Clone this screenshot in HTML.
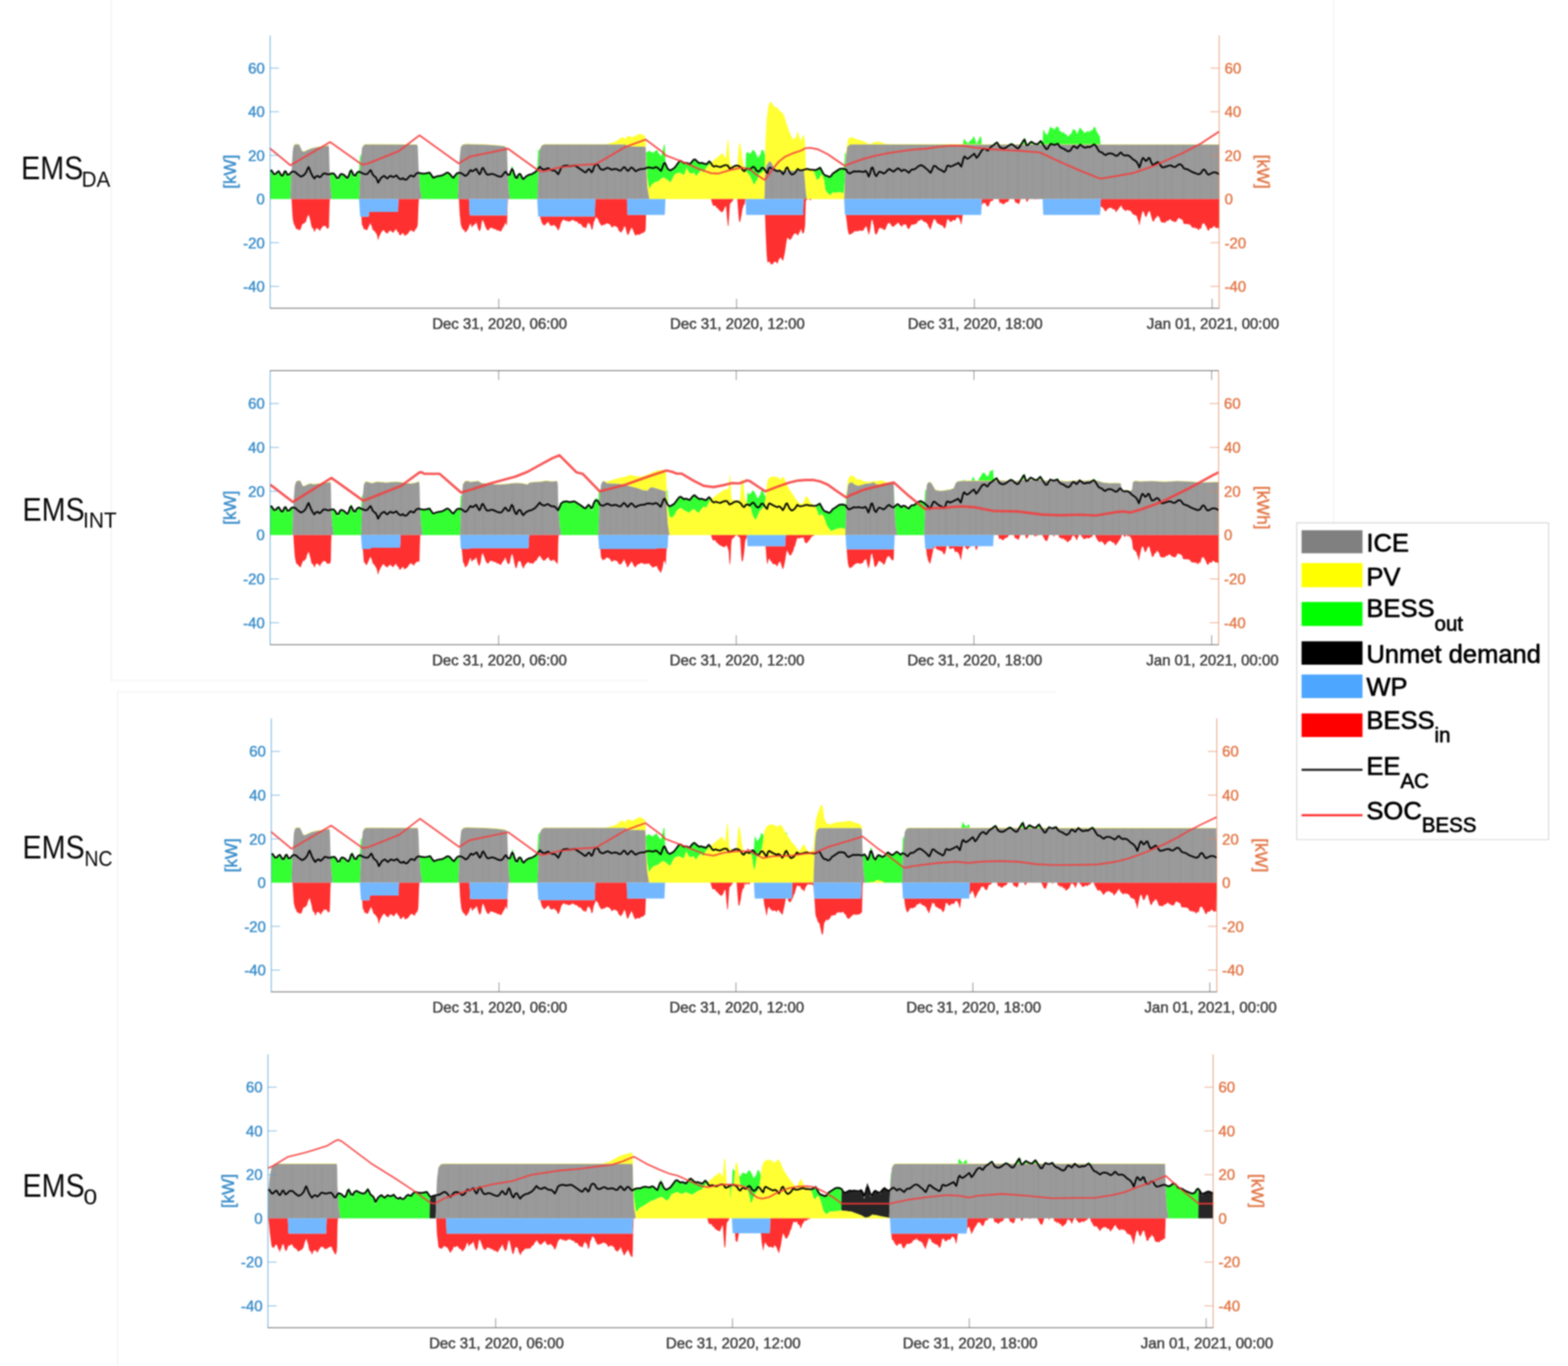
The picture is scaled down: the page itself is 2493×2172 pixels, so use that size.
<!DOCTYPE html>
<html lang="en"><head><meta charset="utf-8"><title>EMS dispatch comparison</title>
<style>html,body{margin:0;padding:0;background:#fff}body{width:2493px;height:2172px;overflow:hidden}svg{display:block}</style></head><body>
<svg width="2493" height="2172" viewBox="0 0 2493 2172">
<defs><filter id="bl" x="0" y="0" width="100%" height="100%" filterUnits="userSpaceOnUse" color-interpolation-filters="sRGB"><feGaussianBlur stdDeviation="1.1"/></filter><linearGradient id="st"><stop offset="0" stop-color="#000" stop-opacity="0.022"/><stop offset="1" stop-color="#000" stop-opacity="0.022"/></linearGradient></defs>
<rect width="2493" height="2172" fill="#fff"/>
<g filter="url(#bl)">
<g stroke="#ececec" stroke-width="1.2" fill="none"><path d="M177,0V1082H1030"/><path d="M187,2172V1100H1680"/><path d="M2120.5,0V830"/></g>
<g>
<path fill="#33ff33" d="M429.5,270.8 430.5,271.1 431,270.6 431.5,269.3 432,268.9 432.5,270.6 433,272.5 433.5,274 434,275.2 434.5,276.2 435.5,278.8 436,279.7 436.5,279.1 437,278.4 437.5,278.5 438,278.7 438.5,278.5 439.5,276.2 440,274.7 440.5,273.5 441,272.6 442,271.1 442.5,271 443,271 443.5,271.7 444.5,273.5 445,274.9 445.5,276.6 446,278 446.5,278.6 447,279.1 447.5,280.2 448,281.9 448.5,282.9 449,281.3 449.5,279.1 450,278.1 450.5,277.6 451,276.2 452,272.1 452.5,271 453,271.1 453.5,271.1 454,270.2 454.5,270.5 455,272.4 455.5,274.7 456,277 457,279 457.5,280.3 458,281.3 458.5,281.3 459.5,279.7 460,278.7 460.5,277.2 461,275.5 462,273.4 462.5,272.6 463,272.2 463.5,272.6 463,281.4 462.5,293.8 462,310.2 461.5,316.5 429.5,316.5ZM524,269.4 524.5,276.8 525,276.8 525.5,276.2 526,275.2 526.5,274.4 527,275 527.5,275.8 528,275.7 529,274 530,274 530.5,274 531,274.6 531.5,275.6 532.5,278.6 533,279.7 533.5,280.5 534,281.7 535,282.8 535.5,284.3 536,285.4 536.5,286.3 537,286.4 537.5,286.5 538,286.5 539,282.9 540,279.1 540.5,277.4 541.5,275.9 542,275.6 542.5,276 543,276.7 544,277.1 545,276.5 545.5,276.6 546.5,278.2 547,278.3 547.5,278.5 548,278.8 549,280.1 549.5,281.5 550,283.3 550.5,284.7 551.5,285.5 552,286.3 552.5,285.3 553,284.2 554,281 554.5,279.3 555,276.7 555.5,274.2 556.5,270.8 557,269.4 557.5,269.2 558,268.8 558.5,267.5 559,267.8 559.5,269.9 560,272.7 560.5,275.4 561.5,278.1 562,279.6 562.5,280.7 563,281.1 564,282.5 564.5,282.7 565,281.3 565.5,279.1 566.5,276.2 567,275.5 568,274.6 569,272.6 569.5,272.1 570.5,271 571,269.2 571.5,262.1 572,254.9 572.5,247.7 573,246.6 573.5,246.6 574,246.5 574.5,247.1 574,253.1 573.5,259.8 572.5,279.8 572,292.3 571.5,308.7 571,316.5 527.5,316.5 527,313.1 526.5,307.8 526,301.8 525.5,296.5 525,288.1 524,269.4ZM666.1,275 666.6,274.6 667.6,274.8 668.1,274.7 668.6,274.6 669.1,274.9 670.1,276.8 671.1,276.1 671.6,275.9 672.6,276 673.6,275.7 674.1,275.8 675.1,277.2 675.6,276.9 676.1,276.5 676.6,276.4 677.1,276.7 677.6,277.1 678.1,276.2 678.6,275.2 679.1,274.4 680.1,273.4 680.6,273.7 681.1,274.1 681.6,274.1 682.6,272.5 683.1,272.4 683.6,272.9 684.1,274.3 685.1,278.1 685.6,278.9 686.1,279.4 686.6,280.1 687.6,283.2 688.1,284.1 688.6,284.8 689.1,284.7 690.1,282.6 690.6,282.6 691.1,283 691.6,283.2 692.1,282.3 692.6,281.5 693.1,281.4 693.6,281.8 694.1,282 695.1,281.4 695.6,280.5 696.1,279.4 696.6,278.6 697.6,280.6 698.1,280.9 698.6,280.8 699.1,280.6 700.1,278.6 700.6,278.5 701.6,280 702.6,280.2 703.1,280.2 704.1,279.9 705.1,278.3 705.6,278 706.1,278.2 706.6,278.4 707.6,277.1 708.1,276.6 709.1,275.6 709.6,274.4 710.1,273.3 710.6,273.1 711.6,274.5 712.1,274 712.6,273.5 713.1,273.8 714.1,275.8 714.6,275.6 715.1,275.2 715.6,275.1 716.6,276.9 718.1,279.8 718.6,280.7 719.1,281.4 719.6,282.3 720.1,283.3 720.6,284.1 721.1,284.1 721.6,282.6 722.1,281.6 722.6,280.9 723.1,280.2 724.1,279.3 724.6,278.3 725.1,276.9 725.6,275.5 726.6,273.9 727.1,273.8 727.6,274.8 728.1,275.6 729.1,275 729.6,274.4 730.1,265.3 729.1,287.8 728.6,298.9 728.1,310.8 727.6,316.5 671.1,316.5 670.6,315 669.1,307.4 668.6,304.1 668.1,301.6 667.6,295.8 666.1,275ZM807.6,280.1 808.1,281.1 808.6,280.8 809.1,280.3 809.6,279.8 810.1,279.5 810.6,278.6 811.1,276.5 811.6,273.7 812.1,270.8 812.6,268.7 813.6,265 814.1,263.6 814.6,264.5 815.1,265.5 815.6,266.8 816.1,269 816.6,271.2 817.1,273.3 818.1,278.4 818.6,280.8 819.1,282.6 819.6,284.3 820.1,285.8 821.1,285.8 821.6,285.5 822.1,284.2 822.6,281.7 823.6,277.6 824.1,276.3 824.6,275.2 825.1,274.5 826.1,274.9 826.6,275.3 827.6,275.6 828.1,276.1 828.6,277.7 829.1,279.5 829.6,281.4 830.1,282.7 831.1,284.5 831.6,285.8 832.1,287.5 832.6,287.7 833.6,285.5 834.6,283.2 835.1,282.4 836.1,281.2 836.6,280.9 837.6,280.5 838.1,279.8 838.6,279.2 839.1,278.6 840.1,277.5 841.1,276.8 841.6,277 842.6,278.3 843.6,277.3 844.1,277 844.6,276.9 845.1,276.7 845.6,277 846.1,277.4 846.6,277.6 847.6,277.4 848.1,276.9 848.6,276.5 849.1,276 850.1,274.3 850.6,273.7 851.1,272.9 851.6,272.4 852.6,272.5 853.1,272.1 853.6,271.6 854.1,269.7 855.1,249.4 855.6,239.8 856.6,238.8 857.6,237.7 858.1,236.7 858.6,236.2 858.1,239.8 857.1,253.6 856.6,261.5 855.6,281.5 855.1,295 854.6,311.3 854.1,316.5 811.1,316.5 810.6,314.8 809.6,308.5 809.1,304.5 808.6,301.4 808.1,291.3 807.6,280.1ZM1026.7,222.9 1027.2,242.3 1027.7,241.8 1028.2,241.6 1029.2,241.5 1030.2,241.4 1030.7,240.7 1031.2,239.9 1031.7,239.2 1032.7,240 1034.2,240.9 1035.2,241.6 1035.7,241.8 1036.2,241.9 1036.7,242.1 1037.7,243.3 1038.2,243.3 1038.7,243 1039.2,242.4 1040.2,241.3 1040.7,241 1041.2,240.8 1041.7,240.6 1042.2,239.9 1042.7,239.3 1043.2,239.1 1044.2,238.4 1045.2,239.2 1045.7,240.1 1046.7,243.8 1047.7,243.4 1048.2,243.9 1048.7,245 1049.2,246 1050.7,248.1 1051.2,248.6 1051.7,246.5 1052.7,243.6 1053.2,241.9 1053.7,239.9 1054.2,237.8 1054.7,235.2 1055.2,232.4 1055.7,230.7 1056.7,229.2 1057.2,232.4 1057.7,251.1 1058.2,259.4 1058.7,261.1 1059.2,262.9 1059.7,263.8 1060.2,264.4 1060.7,265.4 1061.2,266.7 1061.7,267.6 1062.2,269.1 1062.7,270.7 1063.2,271.9 1063.7,271.6 1064.2,271.1 1064.7,271.6 1065.2,272.6 1065.7,273.2 1066.7,270.8 1067.2,270.9 1067.7,271.4 1068.2,271.7 1069.2,269.5 1069.7,269.2 1070.2,269.4 1070.7,269.5 1071.7,268 1072.2,267.7 1072.7,267.7 1073.2,267.7 1074.2,264.8 1074.7,264.2 1075.2,264.1 1075.7,263.9 1076.7,261.3 1077.2,260.5 1078.2,259.7 1079.2,257.3 1079.7,256.4 1080.2,255.8 1080.7,255.9 1082.7,254.7 1084.2,255.9 1084.7,256.4 1085.7,257.7 1086.7,259.1 1087.2,259.6 1087.7,259.6 1088.2,258.9 1088.7,259.1 1089.2,259.4 1089.7,259.6 1090.2,259.7 1090.7,259.8 1091.2,259.4 1091.7,258.8 1092.2,258.6 1093.2,259.8 1093.7,259.5 1094.2,259.3 1094.7,259.6 1095.7,262.1 1096.2,263.2 1096.7,264.2 1097.2,263.7 1098.2,261.2 1098.7,259.6 1099.2,258 1099.7,256.7 1100.7,256 1101.2,255 1101.7,253.6 1102.2,252.4 1103.2,252.9 1103.7,252.5 1104.2,251.9 1104.7,251.5 1105.7,254 1106.2,254.8 1106.7,255.2 1107.2,255.7 1108.2,257.5 1108.7,258 1109.2,258.4 1109.7,258.6 1110.7,259.5 1111.2,259.8 1112.2,259.9 1112.7,259.9 1113.2,259.5 1113.7,259.4 1114.7,259.9 1115.2,259.6 1115.7,259.4 1116.2,259.7 1117.2,260.8 1118.2,261 1118.7,261.1 1119.7,261 1120.7,260.4 1121.2,260.7 1122.2,263.1 1122.7,263.2 1123.7,261.6 1124.7,260.9 1125.2,259.5 1125.7,257.9 1126.2,256.7 1127.2,255.3 1127.7,254.5 1128.7,256.1 1129.7,257.4 1130.2,258.4 1130.7,258.8 1123.2,266.3 1122.7,266.9 1119.2,273.9 1118.7,274.2 1115.2,270.7 1114.7,270.9 1111.2,274.4 1107.7,279.6 1107.2,280.2 1103.7,274.9 1103.2,274.5 1099.7,276.3 1099.2,276.3 1095.7,274.5 1095.2,273.7 1092.2,267.7 1091.7,266.7 1088.2,277.2 1087.7,278.3 1080.2,274.5 1079.7,274.6 1074.7,276.2 1074.2,276.4 1071.7,278.9 1071.2,279.5 1068.7,285.4 1068.2,286.4 1065.7,289.7 1065.2,289.7 1062.7,287.2 1058.7,284.2 1055.2,282.4 1054.7,282.3 1051.2,284 1050.7,284.4 1047.2,287.9 1046.7,288.1 1043.2,289 1039.7,290.7 1039.2,291 1035.7,294.5 1035.2,295.1 1032.7,300.3 1032.2,299.7 1029.2,282.7 1028.7,274.9 1027.7,257.1 1027.2,244.2 1026.7,222.9ZM1168.2,264.1 1168.7,262.8 1169.2,262.6 1169.7,262.7 1170.2,263.5 1169.2,263.8 1168.2,264.1ZM1170.2,263.5 1170.7,262.2 1171.2,261.8 1171.7,262 1172.2,262.7 1171.7,263 1170.2,263.5ZM1184.7,269.4 1185.2,269.8 1185.7,260.6 1186.2,243.7 1186.7,243.1 1187.7,243.5 1188.2,242.5 1188.7,241.5 1189.2,241.2 1190.2,243.4 1190.7,243.5 1191.2,243.5 1191.7,243.8 1192.2,244.7 1192.7,244.2 1193.2,243.7 1194.2,242.5 1195.2,241.2 1195.7,240.3 1196.2,239.3 1196.7,238.6 1197.2,238.4 1197.7,238.4 1198.2,238.9 1198.7,239.3 1199.2,239.7 1199.7,240.3 1200.2,241.1 1200.7,242 1201.2,242.7 1201.7,243.5 1202.2,244.7 1202.7,245.6 1203.2,246.7 1203.7,248.2 1204.2,249.6 1205.2,250.6 1205.7,250.6 1207.7,246.9 1208.2,246.5 1208.7,246.1 1209.2,244.9 1210.2,241.3 1210.7,239.6 1211.2,238.3 1211.7,238.1 1212.7,238.7 1213.2,238.9 1213.7,239.3 1214.2,240.4 1215.2,243.8 1215.7,244.8 1216.2,245.5 1216.7,237.3 1216.2,257.3 1215.7,267.7 1215.2,269.7 1214.7,270.9 1211.2,274.4 1210.7,274.7 1207.7,276.2 1207.2,276.4 1204.7,283.1 1204.2,284.4 1201.7,289.4 1201.2,290.3 1198.7,293.6 1198.2,293.2 1195.7,286.5 1195.2,285.4 1191.7,278.4 1188.2,274.9 1187.7,274.3 1185.2,271 1184.7,269.4ZM1290.7,269.5 1291.2,268.8 1292.2,268.9 1293.2,269.2 1293.7,269.4 1294.7,269.9 1295.2,270 1295.7,270.1 1296.2,270.4 1297.2,271.9 1297.7,271.5 1298.2,271 1298.7,270.3 1299.7,268.5 1300.2,268.3 1300.7,268.3 1301.2,268.2 1301.7,267.9 1302.2,267.6 1302.7,266.6 1303.2,265.4 1303.7,264.3 1304.2,264.3 1304.7,265.3 1305.7,267.2 1306.2,268.2 1306.7,269.9 1308.2,275 1308.7,276.7 1309.2,278 1309.7,279.1 1310.2,279.3 1310.7,279 1311.2,278.7 1311.7,279 1312.2,278.9 1312.7,279 1313.7,279.7 1314.7,279.6 1315.2,280.2 1316.2,282.2 1317.7,282.8 1318.2,282.6 1318.7,282 1319.7,281 1320.2,281 1320.7,281.4 1321.2,281.5 1322.2,278.3 1322.7,277.1 1323.7,275.8 1324.2,275.2 1324.7,274.9 1325.2,274.8 1326.2,275.1 1326.7,274.2 1327.2,273.3 1327.7,272.9 1328.7,273.7 1329.2,273.2 1329.7,272.5 1330.2,271.8 1331.2,269.9 1331.7,269.4 1332.2,269.1 1332.7,268.7 1333.7,267.7 1334.2,268 1334.7,268.5 1335.2,268.7 1336.2,266.8 1336.7,267 1337.2,267.4 1337.7,267.8 1338.7,268.4 1339.2,268 1339.7,267.1 1340.2,266.5 1341.7,266.4 1342.2,265 1342.7,254.4 1343.2,244.5 1343.7,243.2 1344.2,243.7 1344.7,244.1 1345.2,241.1 1344.7,247.7 1343.7,275.2 1343.2,287.2 1341.7,303.8 1341.2,307.5 1335.7,305.6 1335.2,305.6 1328.2,306.5 1327.7,306.5 1324.2,305.7 1323.7,305.8 1320.2,310.1 1319.7,310.2 1316.2,307.6 1315.7,306.9 1312.2,301.7 1310.7,289.7 1310.2,286 1306.7,277.2 1306.2,276.7 1302.7,283.7 1302.2,284.3 1298.7,286.1 1298.2,285 1294.7,274.5 1293.2,271.5 1292.7,270.5 1290.7,269.5ZM1530.8,229.3 1531.3,227.2 1531.8,224.5 1532.3,222.7 1532.8,221.8 1533.8,220.4 1534.3,221.6 1535.3,224.4 1535.8,225 1536.3,225.5 1536.8,225.5 1537.8,226.5 1538.3,227.5 1538.8,228.4 1539.3,228.2 1540.3,226.2 1540.8,225.4 1541.3,224.7 1541.8,224.3 1542.3,224.5 1542.8,224.5 1543.3,223.6 1543.8,222.3 1544.3,221.4 1545.3,222.4 1545.8,221.4 1546.3,219.8 1546.8,218.5 1547.8,217.3 1548.3,217.2 1548.8,217.4 1549.3,218.5 1550.3,221.3 1550.8,222.7 1551.3,224.4 1551.8,226.1 1552.3,228 1552.8,229.3 1530.8,229.3ZM1552.8,229.3 1553.3,228.2 1553.8,226.7 1554.3,225.3 1554.8,224.8 1555.3,224.1 1555.8,223 1556.8,220.5 1557.8,218.7 1558.3,218 1559.3,216.9 1559.8,216.1 1560.3,219.7 1560.8,229.3 1552.8,229.3ZM1580.3,229.4 1580.8,228 1581.8,227.2 1582.3,226.9 1582.8,226.6 1583.3,226.3 1583.8,225.4 1584.3,224.9 1584.8,224.7 1585.3,224.7 1585.8,225.6 1586.8,227.2 1587.3,228.4 1587.8,229.4 1580.3,229.4ZM1605.3,229.4 1605.8,228.1 1606.3,227.9 1606.8,227.8 1607.3,227.5 1607.8,226.9 1608.3,226.8 1608.8,227.9 1609.3,229.4 1605.3,229.4ZM1610.3,229.4 1610.8,228.3 1611.3,229.4 1610.3,229.4ZM1623.8,229.4 1624.3,228.1 1624.8,227.4 1625.3,226.4 1625.8,225.4 1626.3,224.3 1627.3,221.8 1627.8,220.4 1628.3,219.1 1628.8,218.5 1629.3,219.1 1629.8,222.5 1630.3,225.6 1630.8,228.1 1631.3,229.4 1623.8,229.4ZM1636.3,229.4 1636.8,228.4 1637.3,227.9 1637.8,226.5 1638.3,225 1638.8,223.9 1639.3,223.5 1639.8,223.7 1640.8,224.9 1641.3,225.3 1641.8,225.2 1642.3,225.3 1642.8,226.2 1643.3,227.3 1643.8,228.2 1644.3,229.4 1636.3,229.4ZM1651.3,229.4 1651.8,227.4 1652.3,225.8 1652.8,224.9 1653.8,223.4 1654.8,222 1655.3,223.3 1655.8,224.8 1656.3,226.1 1657.3,226.3 1657.8,227.2 1658.3,212.9 1658.8,206.3 1659.8,207 1660.3,208 1661.3,210.8 1662.3,212.5 1662.8,213.2 1663.3,213.7 1663.8,213.1 1664.8,214.2 1665.3,214.2 1665.8,213.6 1666.3,211.6 1667.3,209 1667.8,207.5 1668.3,205.6 1668.8,204.3 1669.3,203.4 1669.8,202.6 1670.3,201.7 1670.8,201.2 1671.3,201.5 1671.8,202.6 1672.3,203.8 1672.8,204.4 1673.3,204.2 1673.8,204 1674.3,204.1 1674.8,204.4 1675.3,204.8 1676.3,206.7 1676.8,205.9 1677.3,204.4 1677.8,203.3 1678.8,202.7 1679.8,202 1680.3,201.8 1681.3,201.2 1681.8,201.1 1682.3,201.6 1682.8,203 1683.8,204.5 1684.3,206.3 1684.8,208.2 1685.3,209.3 1686.3,208.8 1686.8,208.8 1687.3,209 1687.8,209.3 1688.8,211.6 1689.3,211.6 1689.8,210.9 1690.3,210.3 1691.3,209.6 1691.8,210.5 1692.3,211.9 1692.8,213.2 1693.8,213 1694.3,212.9 1694.8,213 1695.3,213 1696.3,215.3 1696.8,216.1 1697.8,217 1698.3,216.8 1698.8,216.3 1699.3,215.6 1700.3,214.8 1701.3,213.9 1701.8,213.7 1702.3,213.6 1702.8,212.6 1703.8,211.5 1704.3,210.3 1704.8,208.2 1705.3,206.5 1705.8,206.3 1706.3,206.3 1706.8,205.9 1707.3,205.5 1707.8,205.7 1708.8,206.6 1709.3,207 1710.3,207.7 1710.8,208.8 1711.8,211.3 1712.3,212.4 1712.8,212.8 1713.3,211.6 1713.8,210.1 1714.3,208.8 1715.3,206.6 1715.8,205.4 1716.3,204.1 1716.8,203.1 1717.3,202.8 1717.8,203.7 1718.3,204.3 1718.8,204.4 1719.3,204.9 1720.3,207.4 1720.8,207.5 1721.3,207 1721.8,206.9 1722.8,210.5 1723.3,211.1 1723.8,210.7 1724.3,210.1 1725.3,210.8 1725.8,210.9 1726.3,210.7 1726.8,210.3 1727.8,209.3 1728.3,209.1 1729.3,208.8 1729.8,208.8 1731.8,209.6 1732.3,209.6 1732.8,209.4 1733.3,208.6 1734.3,206.7 1735.3,207.6 1735.8,207.6 1736.8,206.4 1737.8,205.4 1738.3,204.3 1738.8,202.7 1739.3,201.7 1739.8,201.8 1740.3,202.1 1740.8,202.2 1741.3,202.6 1741.8,203.5 1742.3,205.3 1742.8,207.1 1743.3,208.6 1743.8,209.3 1744.3,210.1 1745.3,211.8 1746.3,213.8 1746.8,214.7 1747.3,215.3 1747.8,215.7 1748.3,216.4 1748.8,217.2 1749.3,222.4 1749.9,229.4 1651.3,229.4ZM1937.9,229.4 1938.4,276.9 1938.4,313.1 1937.9,229.4Z"/>
<path fill="#ffff33" d="M462,310.2 462.5,293.8 463,281.4 464,263.9 464.5,255.4 465.5,239.7 466,235.7 467.5,230.4 468,229.8 470.5,228.6 475,228.9 475.5,229.1 477,232.1 477.5,233.2 480,239 480.5,239.7 483,240.6 483.5,240.5 487,238.7 493.5,235.9 494,235.7 501.5,233.9 522,230.9 522.5,231.8 523,232.8 523.5,252.5 524,269.4 525,288.1 525.5,296.5 526,301.8 526.5,307.8 525.5,297.2 525,288.9 524,270.1 523.5,253.3 523,233.5 522.5,232.5 522,231.7 511.5,233.2 502,234.5 494,236.5 487.5,239.3 483.5,241.2 483,241.3 480.5,240.5 480,239.8 477.5,234 477,232.9 475.5,229.9 475,229.7 471,229.4 470.5,229.4 468,230.5 467.5,231.2 466,236.4 465.5,240.5 464.5,256.2 464,264.6 463,282.1 462.5,294.6 462,310.2ZM571.5,308.7 572,292.3 572.5,279.8 573.5,259.8 574,253.1 575.5,235.1 576,234 578,230.7 578.5,229.9 581,229.1 581.5,229 663.1,229.4 664.1,232.3 664.6,242 665.1,256.2 665.6,268.1 667.6,295.8 668.1,301.6 668.6,304.1 669.1,307.4 668.1,302.3 667.6,296.5 665.6,268.8 665.1,256.9 664.6,242.8 664.1,233.1 663.1,230.1 581.5,229.7 581,229.8 578.5,230.7 578,231.4 576,234.8 575.5,235.9 574,253.9 573.5,260.6 572.5,280.6 572,293.1 571.5,308.7ZM728.1,310.8 728.6,298.9 729.1,287.8 730.6,254 731.1,247.3 732.6,233.8 733.1,232.4 735.6,229.8 736.1,229.3 740.6,228.6 741.1,228.6 769.6,229.3 789.1,230.5 801.1,231.9 805.6,233.7 806.1,237.2 806.6,253.7 807.1,268.8 808.1,291.3 808.6,301.4 809.1,304.5 809.6,308.5 808.6,302.1 808.1,292.1 807.1,269.6 806.6,254.4 806.1,237.9 805.6,234.4 801.6,232.8 801.1,232.6 789.6,231.3 770.1,230.1 741.1,229.3 740.6,229.4 736.1,230.1 735.6,230.6 733.1,233.2 732.6,234.6 731.1,248.1 730.6,254.8 729.6,277.3 729.1,288.5 728.1,310.8ZM854.6,311.3 855.1,295 855.6,281.5 856.6,261.5 857.1,253.6 858.1,239.8 858.6,236.2 861.1,231.2 861.6,230.7 865.1,229 963.1,229 969.1,227.8 974.6,226.3 975.1,226.2 980.6,224 981.1,223.7 988.1,218.4 988.6,218.1 992.1,218.9 992.6,219.2 994.1,221.5 994.6,221.5 996.2,217.7 996.7,217 1000.2,216.2 1000.7,216.3 1004.2,218 1007.7,217.2 1008.2,217 1011.7,215.3 1012.2,215 1015.7,212.7 1016.2,212.7 1019.7,213.2 1023.2,214.9 1023.7,215.2 1026.2,217.7 1026.7,222.9 1027.2,244.2 1027.7,257.1 1028.7,274.9 1029.2,282.7 1032.2,299.7 1032.7,300.3 1035.2,295.1 1035.7,294.5 1039.2,291 1042.7,289.2 1043.2,289 1046.7,288.1 1047.2,287.9 1050.7,284.4 1051.2,284 1054.7,282.3 1055.2,282.4 1058.2,283.9 1058.7,284.2 1062.2,286.8 1062.7,287.2 1065.2,289.7 1065.7,289.7 1068.2,286.4 1068.7,285.4 1071.2,279.5 1071.7,278.9 1074.2,276.4 1079.7,274.6 1080.2,274.5 1087.7,278.3 1088.2,277.2 1091.7,266.7 1092.2,267.7 1095.2,273.7 1095.7,274.5 1099.2,276.3 1099.7,276.3 1103.2,274.5 1103.7,274.9 1107.2,280.2 1107.7,279.6 1110.7,275.1 1111.2,274.4 1114.7,270.9 1115.2,270.7 1118.7,274.2 1119.2,273.9 1122.7,266.9 1123.2,266.3 1134.2,255.3 1134.7,254.8 1140.2,250.2 1144.2,247.2 1147.7,243.7 1148.2,243.5 1150.7,246.8 1151.2,247.6 1152.7,250.6 1153.2,250.9 1154.2,250.2 1154.7,245.5 1155.7,233.6 1156.2,228.9 1156.7,224.7 1157.2,222.1 1158.2,223 1159.2,240.5 1159.7,248.4 1160.2,255.9 1160.7,261 1165.2,264.4 1165.7,264.7 1169.2,263.8 1171.7,263 1172.2,262.7 1174.7,231.5 1175.2,228.6 1176.7,227.9 1177.2,229.9 1178.2,236.2 1178.7,239.8 1180.2,251.8 1180.7,254.9 1182.2,263.2 1182.7,264 1183.7,264.5 1184.2,265.8 1184.7,269.4 1185.2,271 1187.7,274.3 1191.2,277.9 1191.7,278.4 1195.2,285.4 1195.7,286.5 1198.2,293.2 1198.7,293.6 1201.2,290.3 1201.7,289.4 1204.2,284.4 1204.7,283.1 1207.2,276.4 1210.7,274.7 1211.2,274.4 1214.7,270.9 1215.2,269.7 1215.7,267.7 1216.2,257.3 1216.7,237.3 1217.2,222.5 1218.7,192.5 1219.2,186.6 1221.7,168.2 1222.2,166.7 1224.7,161.7 1227.2,163.3 1227.7,163.8 1230.2,168.8 1230.7,169.5 1236.2,171.3 1236.7,171.9 1240.2,177.1 1240.7,177.4 1243.7,178.9 1244.2,179.3 1246.7,184.3 1247.2,185.4 1249.7,193.8 1250.2,195.4 1253.7,205.9 1254.2,207.2 1257.7,216 1258.2,216.8 1261.2,221.3 1261.7,221.9 1265.2,218.4 1265.7,217.5 1268.2,209.2 1268.7,209.3 1270.2,215.3 1270.7,216.9 1273.2,223.6 1273.7,222.9 1276.2,216.2 1276.7,215.6 1277.7,214.6 1278.2,214.3 1279.7,224.8 1280.2,230.8 1280.7,249.8 1281.2,264.9 1281.7,265.9 1282.2,266.7 1288.7,268.6 1292.7,270.5 1293.2,271.5 1294.7,274.5 1298.2,285 1298.7,286.1 1302.2,284.3 1302.7,283.7 1306.2,276.7 1306.7,277.2 1310.2,286 1310.7,289.7 1312.2,301.7 1315.7,306.9 1316.2,307.6 1319.7,310.2 1320.2,310.1 1323.7,305.8 1324.2,305.7 1327.7,306.5 1335.2,305.6 1335.7,305.6 1341.2,307.5 1341.7,303.8 1343.2,287.2 1343.7,275.2 1344.7,247.7 1345.2,241.1 1346.7,231.1 1347.2,227.7 1348.7,221.7 1349.2,220 1354.7,218.1 1355.2,218.2 1360.7,220.9 1366.2,222.8 1374.3,224.8 1374.8,225.1 1378.3,227.7 1378.8,227.9 1383.8,228.7 1384.3,228.7 1391.8,225.5 1392.3,225.4 1399.3,225.4 1399.8,225.5 1405.3,228 1405.8,228.2 1411.3,229 1579.8,229.4 1937.9,229.4 1938.4,313.1 1937.9,230.1 1580.3,230.1 1355.2,229.7 1351.2,230.1 1350.7,230.5 1347.2,233.6 1346.7,237.3 1345.2,248.6 1344.7,254.7 1343.7,277.2 1343.2,289.3 1342.7,304.9 1342.2,316.5 1282.7,316.5 1282.2,313.3 1281.2,306.3 1280.7,300.7 1279.7,288.2 1279.2,282.5 1278.2,271.8 1277.7,271.5 1238.7,271.5 1238.2,271.5 1230.7,266.8 1230.2,266 1226.7,259 1226.2,258.4 1224.2,256.4 1223.7,256 1220.2,260.4 1219.7,261.2 1217.7,265.8 1217.2,268.8 1216.2,285.5 1215.7,310.1 1215.2,316.5 1032.7,316.5 1032.2,315.2 1029.2,298.3 1028.7,290.5 1027.7,272.7 1027.2,258 1026.7,235.4 1025.7,233.4 1025.2,233.2 998.7,232.7 998.2,232.5 994.6,229.9 994.1,229.7 865.6,229.7 865.1,229.7 861.6,231.5 861.1,232 858.6,237 858.1,240.6 857.1,254.3 856.6,262.3 855.6,282.3 855.1,295.7 854.6,311.3Z"/>
<path id="ice1" fill="#9a9a9a" d="M461.5,316.5 462,310.2 462.5,294.6 463,282.1 464,264.6 464.5,256.2 465.5,240.5 466,236.4 467.5,231.2 468,230.5 470.5,229.4 475,229.7 475.5,229.9 477,232.9 477.5,234 480,239.8 480.5,240.5 483,241.3 483.5,241.2 487,239.5 493.5,236.7 494,236.5 501.5,234.6 522,231.7 522.5,232.5 523,233.5 523.5,253.3 524,270.1 525,288.9 525.5,297.2 527,313.1 527.5,316.5 527.5,316.5 461.5,316.5ZM571,316.5 571.5,308.7 572,293.1 572.5,280.6 573.5,260.6 574,253.9 575.5,235.9 576,234.8 578,231.4 578.5,230.7 581,229.8 581.5,229.7 663.1,230.1 664.1,233.1 664.6,242.8 665.1,256.9 665.6,268.8 667.6,296.5 668.1,302.3 670.6,315 671.1,316.5 671.1,316.5 571,316.5ZM727.6,316.5 728.1,310.8 729.1,288.5 730.6,254.8 731.1,248.1 732.6,234.6 733.1,233.2 735.6,230.6 736.1,230.1 740.6,229.4 741.1,229.3 769.6,230.1 789.1,231.3 801.1,232.6 805.6,234.4 806.1,237.9 806.6,254.4 807.1,269.6 808.1,292.1 808.6,302.1 810.6,314.8 811.1,316.5 811.1,316.5 727.6,316.5ZM854.1,316.5 854.6,311.3 855.1,295.7 855.6,282.3 856.6,262.3 857.1,254.3 858.1,240.6 858.6,237 861.1,232 861.6,231.5 865.1,229.7 994.1,229.7 994.6,229.9 998.2,232.5 998.7,232.7 1025.2,233.2 1025.7,233.4 1026.7,235.4 1027.2,258 1027.7,272.7 1028.7,290.5 1029.2,298.3 1032.2,315.2 1032.7,316.5 1032.7,316.5 854.1,316.5ZM1215.2,316.5 1215.7,310.1 1216.2,285.5 1217.2,268.8 1217.7,265.8 1219.7,261.2 1220.2,260.4 1223.7,256 1224.2,256.4 1226.2,258.4 1226.7,259 1230.2,266 1230.7,266.8 1238.2,271.5 1238.7,271.5 1277.7,271.5 1278.2,271.8 1279.2,282.5 1279.7,288.2 1280.7,300.7 1281.2,306.3 1282.2,313.3 1282.7,316.5 1282.7,316.5 1215.2,316.5ZM1342.2,316.5 1342.7,304.9 1343.2,289.3 1343.7,277.2 1344.7,254.7 1345.2,248.6 1346.7,237.3 1347.2,233.6 1350.7,230.5 1351.2,230.1 1354.7,229.8 1355.2,229.7 1579.8,230.1 1937.9,230.1 1938.4,313.1 1938.4,316.5 1342.2,316.5Z"/>
<path fill="url(#st)" d="M467.1,316.5V234.4h3.5V316.5zM477.9,316.5V241.3h2.2V316.5zM488.3,316.5V240.3h3.6V316.5zM499.2,316.5V236.8h4.4V316.5zM509.4,316.5V235h2.1V316.5zM517.4,316.5V233.8h3.8V316.5zM575.1,316.5V243.4h4V316.5zM591.6,316.5V231.3h3.5V316.5zM609.8,316.5V231.4h2.7V316.5zM621.6,316.5V231.4h2.8V316.5zM633.9,316.5V231.5h3.5V316.5zM642.4,316.5V231.5h2.9V316.5zM656.2,316.5V231.6h2.5V316.5zM664,316.5V298h3.6V316.5zM730.9,316.5V249.6h2.9V316.5zM744.3,316.5V231h4.1V316.5zM756.8,316.5V231.4h4.1V316.5zM773.5,316.5V232h3.6V316.5zM782.2,316.5V232.5h1.8V316.5zM789.3,316.5V233h2.5V316.5zM857.9,316.5V242.1h3.9V316.5zM868.3,316.5V231.2h2V316.5zM884.1,316.5V231.2h3.7V316.5zM902.6,316.5V231.2h2.8V316.5zM920.2,316.5V231.2h1.9V316.5zM937.7,316.5V231.2h4.2V316.5zM950.5,316.5V231.2h1.7V316.5zM963.3,316.5V231.2h3.6V316.5zM975.7,316.5V231.2h1.7V316.5zM985.4,316.5V231.2h4V316.5zM995.4,316.5V234.2h4.3V316.5zM1007.5,316.5V234.4h2.1V316.5zM1015.8,316.5V234.6h4.4V316.5zM1225.2,316.5V264.5h3.5V316.5zM1241.3,316.5V273h2.6V316.5zM1256.2,316.5V273h3.1V316.5zM1265.7,316.5V273h3.1V316.5zM1277.4,316.5V302.2h3.5V316.5zM1357.1,316.5V231.2h2.3V316.5zM1372.2,316.5V231.3h4.4V316.5zM1390,316.5V231.3h2.9V316.5zM1408.8,316.5V231.3h4.3V316.5zM1418.7,316.5V231.3h2.7V316.5zM1431.4,316.5V231.4h2.3V316.5zM1445.5,316.5V231.4h1.9V316.5zM1460.6,316.5V231.4h4.1V316.5zM1470.4,316.5V231.4h3.6V316.5zM1481.9,316.5V231.5h3.4V316.5zM1497.9,316.5V231.5h4.4V316.5zM1516.1,316.5V231.5h2.5V316.5zM1531.7,316.5V231.5h1.9V316.5zM1546.4,316.5V231.6h2.8V316.5zM1557.1,316.5V231.6h2.2V316.5zM1566.7,316.5V231.6h3.9V316.5zM1576.7,316.5V231.6h2.2V316.5zM1586,316.5V231.6h2V316.5zM1601,316.5V231.6h3.3V316.5zM1616.5,316.5V231.6h4.2V316.5zM1630.7,316.5V231.6h1.6V316.5zM1639.4,316.5V231.6h3V316.5zM1655.3,316.5V231.6h4.3V316.5zM1670.2,316.5V231.6h2.2V316.5zM1683.9,316.5V231.6h4.3V316.5zM1696.8,316.5V231.6h4.3V316.5zM1716.1,316.5V231.6h3.2V316.5zM1729.6,316.5V231.6h1.9V316.5zM1737.7,316.5V231.6h1.6V316.5zM1751,316.5V231.6h3.6V316.5zM1770.6,316.5V231.6h3.3V316.5zM1789.9,316.5V231.6h2.7V316.5zM1799,316.5V231.6h1.7V316.5zM1808.9,316.5V231.6h3.1V316.5zM1827.8,316.5V231.6h2.4V316.5zM1837.8,316.5V231.6h3.7V316.5zM1850.7,316.5V231.6h3.2V316.5zM1860.6,316.5V231.6h4.1V316.5zM1879.8,316.5V231.6h3.8V316.5zM1898.8,316.5V231.6h2.5V316.5zM1906.7,316.5V231.6h2.4V316.5zM1924,316.5V231.6h2.9V316.5zM1934.1,316.5V231.6h2V316.5z"/>
<path fill="#ff3030" d="M463.5,316.5 524.5,316.5 524,324 523.5,341.5 523,361.6 522.5,362.7 522,363.1 521.5,362.7 521,363.2 520.5,363.8 520,363.7 519,361.8 518,360.1 517.5,359.5 517,359.3 516.5,359.3 516,359.4 515.5,359.6 515,359.6 514.5,359 514,358.9 513.5,359.6 512.5,361.1 511.5,362.5 511,363 510.5,363.4 510,364 509,367.2 508.5,367.5 508,366.6 507.5,365.2 506.5,365.1 506,364.4 505.5,363.2 505,362.5 504,363.4 503.5,363.5 503,363.3 502.5,363.2 502,364.1 501.5,365.5 501,366.8 500,369.1 499.5,368.4 499,366.6 498.5,365.1 497.5,362.8 497,362.8 496.5,362.7 496,361.8 495,359.1 494.5,356.5 494,353.5 493.5,350.9 492.5,347.6 492,345.6 491.5,343.6 491,341.7 490.5,341 490,342.6 489.5,343.4 489,344.1 488.5,345.2 487.5,348.3 487,350.7 486.5,352.3 486,353.3 485,353.2 484.5,354.4 484,355.3 483.5,355.8 483,355.3 482.5,355.2 482,355.6 481.5,356.1 481,356.5 480.5,357 480,358 479.5,359.7 479,361.3 478.5,363.1 477.5,365.2 477,365.4 476.5,365.4 476,365.4 475.5,366.2 475,366.2 474.5,365.6 474,364.7 473.5,364 472.5,364.3 472,364.3 471.5,364.2 471,363.9 470.5,363.2 470,362.2 469.5,360.8 469,359.5 468.5,358.5 468,358 467.5,357 467,355 466.5,353.1 466,351.3 465.5,348.4 465,341.7 464.5,333.9 464,325 463.5,316.5ZM574.5,344.6 586,344.6 586.5,342.4 587,338.5 587.5,337 632.6,337 633.1,330.5 633.6,316.5 666.1,316.5 665.6,322.1 665.1,333.8 664.6,348.2 664.1,358.1 663.1,361.6 662.6,362.1 662.1,363.1 661.6,364.2 661.1,364.7 660.6,364.5 660.1,364.7 659.6,366.3 659.1,368.1 658.6,369.3 658.1,368.8 657.6,367.6 657.1,367.7 656.6,368.2 656.1,368.3 655.6,367.5 655.1,366.7 654.6,366.4 654.1,366.3 653.6,366.1 653.1,366.3 651.6,367.2 651.1,367.6 650.1,369.5 649.6,370.2 649.1,370.8 648.6,371.4 647.6,372.8 647.1,373.1 646.6,373.3 646.1,373.3 645.1,373.8 644.6,374.1 643.6,374.9 643.1,374.8 642.6,374 642.1,372.9 641.6,371.6 641.1,370.4 640.6,370.3 640.1,371.2 639.6,371.6 639.1,371.5 638.6,371.6 638.1,372.9 637.6,373.7 637.1,374.1 636.1,373.8 635.6,373.9 635.1,373.8 634.6,372.7 633.6,369.4 633.1,369.2 632.6,368.9 632.1,368.4 631.1,367.2 630.6,365.4 630.1,364.5 629.6,364.5 628.6,365.7 627.6,366.3 627.1,366.9 626.1,369.2 625.6,369.9 625.1,370 624.6,369.8 623.6,368.7 623.1,368.6 622.6,368.4 622.1,367.9 621.1,366 620.6,366.2 620.1,367.5 619.6,368.3 618.6,367.3 618,368 617.5,369.2 617,370.3 616,371.8 615.5,371.7 615,370.8 614.5,370 613.5,370.2 613,369.9 612.5,369.4 612,368.8 611,366.4 610.5,366.2 609.5,366.3 608.5,366.2 608,366.9 607.5,368 607,369 606.5,369.3 606,369.6 605.5,370.7 604.5,373.2 604,374 603.5,374.9 603,376 602,378.7 601.5,381 601,382 600.5,380 599.5,374.2 599,373 598,371 597.5,370.1 597,370.1 596,368.2 595.5,367.6 595,367.3 593,365.8 592.5,365.1 592,363.6 591.5,361.9 591,360.1 590.5,358.8 589.5,356.7 589,355.1 588.5,355.5 588,356.2 587,358.6 586.5,359.7 586,360.7 585.5,361.8 584.5,364.2 584,365.2 583.5,365.7 583,366 582,366.2 581.5,365.6 581,364.6 580.5,363.8 579.5,365 579,364.9 578.5,364.5 578,363.3 577,360 576.5,359.1 576,358.5 575.5,357.6 575,350.9 574.5,344.6ZM729.6,316.5 745.6,316.5 746.1,322.3 746.6,339 747.1,342.5 805.6,342.5 806.1,339.2 806.6,322.4 807.1,316.5 807.6,316.5 807.1,327.2 806.6,341.1 806.1,356.3 805.6,358.6 805.1,357.5 804.6,356.3 804.1,354.9 803.6,353.9 803.1,355.4 802.6,356.9 802.1,358.1 801.6,359 801.1,360.1 800.1,361.4 799.6,362.3 799.1,363.2 798.6,363.9 797.6,366 797.1,367.2 796.6,367.9 796.1,368.5 795.6,368 795.1,367.3 794.6,367 794.1,367.3 793.6,367.6 793.1,366.9 792.6,366 792.1,365.6 791.1,367 790.6,366.9 790.1,366.5 789.6,366 788.6,364.6 788.1,364.6 787.6,364.7 787.1,364.7 786.6,364.2 786.1,363.8 785.6,363.9 785.1,364.2 784.6,364.3 783.6,362.4 783.1,362.3 782.6,362.8 782.1,363.3 781.1,362.2 780.6,361.8 779.6,362.2 778.6,362.9 778.1,364 777.6,365.6 777.1,366.8 776.1,365.4 775.6,365.4 774.6,366.3 774.1,365.5 773.6,364.6 773.1,363.6 772.1,361.5 771.1,358.9 770.6,357.5 769.6,354.6 768.6,352.5 768.1,351 767.6,350.1 767.1,350.3 766.6,351.4 766.1,352.6 765.6,355.6 764.6,362.5 764.1,364.6 763.6,365.3 763.1,366.2 762.6,367.7 762.1,367.8 761.6,366.7 760.6,364.4 760.1,363.3 759.6,361.9 759.1,359.9 758.6,357.9 758.1,355.9 757.6,354 757.1,353.8 756.6,354.5 756.1,355.3 755.6,356.1 755.1,356.7 754.6,357.4 754.1,357.7 753.6,357.7 753.1,357.8 752.6,358.3 752.1,358.5 751.6,359.4 751.1,360.6 750.6,361.5 750.1,361.2 749.6,360.1 749.1,358.5 748.6,356.5 748.1,355.6 747.1,357 746.6,357.8 745.6,360.8 744.6,363.6 744.1,364.8 743.1,365.9 742.1,367.3 741.6,368.1 741.1,368.6 740.6,369 739.6,369.5 739.1,368.8 738.1,365.4 737.1,365.9 736.6,365.6 736.1,365 735.6,364.1 734.6,362.5 734.1,361.4 733.6,360 733.1,358.5 732.6,356.8 732.1,351.9 731.6,347.1 731.1,342.4 730.6,335.5 730.1,324.8 729.6,316.5ZM858.6,344.3 945.6,344.3 946.1,330.3 946.6,316.5 996.7,316.5 997.2,328.2 997.7,341.8 1027.2,341.8 1026.7,361.7 1026.2,367.1 1025.2,368 1024.7,368.6 1024.2,369 1023.7,369.5 1023.2,370 1022.7,370.4 1021.7,370.5 1021.2,370.6 1020.7,370.8 1020.2,371.1 1019.7,371.2 1019.2,371.2 1018.7,371.6 1018.2,372.4 1017.7,373.1 1017.2,373.1 1016.2,373.3 1015.7,373.3 1015.2,373 1014.2,372.7 1013.7,372.7 1012.7,372.9 1012.2,373.5 1011.7,374.1 1011.2,374.8 1010.7,374.8 1010.2,374.4 1009.2,372.5 1008.7,371.7 1007.7,369.7 1007.2,368.2 1006.2,365.2 1005.2,363.5 1004.2,361.9 1003.7,362 1002.7,365.5 1002.2,366.3 1001.7,367 1001.2,367.9 1000.7,369.5 1000.2,371 999.7,371.9 999.2,372.7 998.7,373.2 997.7,373.6 997.2,372.7 996.7,370.8 996.2,368.5 995.1,365 994.6,362.3 994.1,361 993.6,360.6 992.6,360.1 992.1,360.5 991.6,362.4 991.1,364.2 990.1,365.8 989.6,366.6 988.6,368.4 987.6,369.7 987.1,369.9 986.1,368.7 985.1,367.4 984.6,367.2 984.1,367.2 983.6,366.7 982.6,363.2 982.1,362.2 981.6,361.8 980.6,361 980.1,360.7 979.6,360.3 978.6,359.3 978.1,359.7 977.6,360.4 977.1,360.3 976.1,358.4 975.6,359.3 975.1,360.3 974.6,360.9 973.6,361.4 972.6,361.3 972.1,361 971.1,358.8 970.6,358.2 969.6,357 969.1,356.5 968.6,356.2 967.6,356.1 967.1,355.9 966.1,355.3 965.6,355.2 965.1,355 964.6,355.1 963.6,355.9 963.1,356.1 962.1,356.9 961.1,357.6 960.6,357.5 959.6,357 958.6,358.6 958.1,358.5 957.6,358 957.1,357.8 956.6,358.7 956.1,359.3 955.6,358.7 955.1,357.4 954.6,356.3 954.1,356 953.6,355.1 953.1,354.1 952.6,353.4 952.1,352.6 951.6,350.6 951.1,349.3 950.6,348.5 950.1,347.9 949.6,347.2 949.1,346.3 948.6,346.1 948.1,345.9 947.6,345.7 947.1,345.5 946.6,346.7 946.1,349.1 945.6,350.6 944.6,351.8 944.1,353.4 943.6,356.2 943.1,359.1 942.6,362 942.1,364.2 941.1,365.2 940.6,365.3 940.1,363.4 939.6,361 939.1,359.2 938.6,357.5 938.1,356.8 937.1,356.6 936.6,355.2 936.1,354 935.6,354.2 934.6,355.5 934.1,356.3 933.6,357.2 933.1,358.6 932.1,362.9 931.6,363.2 931.1,362.5 930.6,361.6 929.6,361.4 929.1,361.8 928.6,362 928.1,362 926.6,360.5 925.6,359.5 924.6,357.8 924.1,357.2 923.6,356.6 923.1,356.1 922.1,355.4 921.6,355.6 921.1,356 920.6,356.2 919.6,355.2 919.1,354.5 918.6,353.6 918.1,352.8 917.1,352.5 916.6,352.4 915.6,352.4 915.1,352.1 914.6,351.9 914.1,351.6 913.1,350.6 912.1,350.9 911.6,350.6 910.6,349.4 909.6,349.8 909.1,350.1 908.1,351.3 907.1,351.5 906.6,351.6 906.1,351.9 904.6,352.2 904.1,352.3 903.1,352.7 902.6,351.8 902.1,350.8 901.6,350.4 901.1,350.9 900.6,351.6 900.1,351.7 899.6,351.6 899.1,351.4 898.1,349.7 897.6,349.6 896.1,349.5 895.6,349.8 895.1,350.1 894.6,350.3 894.1,350.8 893.1,353 892.6,353.4 892.1,354.3 891.6,356 890.6,359.8 890.1,361.5 889.6,362.8 889.1,363.8 888.1,365.3 887.6,366.8 887.1,366.5 886.6,365.6 885.6,362.9 885.1,362 884.6,361.4 884.1,361 883.1,359.6 882.6,359.2 882.1,359 881.6,358.7 881.1,357.7 880.6,356.9 880.1,357.2 879.6,358.3 879.1,359.3 878.1,358.3 877.6,358.5 876.6,359.9 875.6,358.4 875.1,358.1 874.6,358.1 874.1,357.9 873.1,355 872.6,353.9 872.1,353.2 871.6,352.7 870.6,353.9 870.1,354.3 869.6,354.4 869.1,354.6 868.6,355.5 868.1,356.4 867.6,357 866.6,357.1 866.1,358 865.6,358.7 865.1,359 864.1,357.6 863.1,356.8 862.6,356.1 861.6,354.5 861.1,353.4 860.6,351.5 860.1,349.5 859.1,346.2 858.6,344.3ZM1130.2,316.5 1166.7,316.5 1166.2,317.5 1165.7,317.9 1165.2,318.7 1164.7,319.4 1164.2,319.9 1163.7,320.6 1162.7,322.3 1162.2,322.7 1161.7,322.8 1161.2,323.1 1160.7,324.3 1160.2,330.3 1159.7,337.4 1159.2,344.2 1158.7,351.9 1158.2,359.9 1157.7,359.5 1157.2,358.4 1156.7,354.3 1156.2,349.4 1155.7,344.1 1155.2,337.7 1154.7,332 1154.2,328.2 1153.7,328.7 1153.2,328.2 1152.7,328.8 1152.2,330.2 1151.2,333.1 1150.7,334.1 1150.2,334.9 1149.7,335.5 1148.7,336.8 1148.2,337.7 1147.7,337.8 1147.2,337.4 1146.2,336.4 1145.7,336.2 1144.7,335.3 1144.2,334.7 1142.7,333.5 1142.2,332.8 1141.2,330.8 1140.7,330.9 1140.2,331.2 1139.7,331 1138.7,328.9 1138.2,328.2 1137.7,327.5 1137.2,327 1136.2,326.9 1135.7,327.1 1135.2,327.4 1134.7,327.3 1134.2,327.1 1133.7,326.8 1133.2,325.7 1132.7,324.5 1132.2,322.7 1131.2,319.4 1130.7,317.6 1130.2,316.5ZM1172.2,316.5 1185.2,316.5 1184.7,318.4 1184.2,323.5 1183.7,326 1182.7,325.5 1182.2,325.9 1181.7,328.2 1181.2,330.3 1180.7,331.7 1180.2,333.5 1179.7,337 1179.2,340.6 1178.7,343.6 1178.2,345.6 1177.7,347.8 1177.2,351 1176.7,353.2 1176.2,353 1175.2,351.9 1174.7,348.9 1174.2,342.8 1173.7,336.4 1172.7,322.6 1172.2,316.5ZM1216.2,341.8 1276.7,341.8 1277.2,329.3 1277.7,316.5 1284.2,316.5 1283.7,317.5 1283.2,317.6 1282.2,317.5 1281.7,318.8 1281.2,320.5 1280.7,336.1 1280.2,355.3 1279.7,361.6 1279.2,364.6 1278.7,367.4 1278.2,370.6 1277.7,370.5 1277.2,370.3 1276.2,371.6 1275.7,370.9 1274.7,367.4 1274.2,366 1273.7,364.7 1273.2,364.2 1272.7,366 1272.2,367.7 1271.7,368.6 1271.2,369.2 1270.7,369.9 1270.2,371 1268.7,374.9 1268.2,374.3 1267.7,373.7 1267.2,373.2 1266.7,372.4 1266.2,371.5 1265.7,370.8 1264.7,372.1 1264.2,371.9 1263.7,371.3 1263.2,370.9 1262.2,372.7 1261.7,372.9 1261.2,374 1260.7,375.1 1259.7,376.3 1259.2,377.7 1258.7,378.9 1258.2,379.6 1257.7,379.8 1256.7,380.9 1256.2,381.6 1255.7,381.7 1254.7,380.6 1253.7,379.4 1253.2,378.9 1252.2,377.9 1251.7,378.1 1250.7,383.3 1250.2,385.9 1249.7,389.1 1249.2,392.9 1248.2,399.5 1247.7,402.6 1247.2,405.2 1246.7,407.3 1245.7,412.3 1245.2,414.2 1244.7,414.4 1244.2,414 1243.7,413.4 1243.2,412.6 1242.2,410.8 1241.7,410.2 1240.7,409.5 1240.2,409.9 1239.7,411 1239.2,411.8 1238.7,412.2 1238.2,412.9 1237.7,414.4 1237.2,416.1 1236.7,417.7 1236.2,418.9 1235.7,419.5 1235.2,418.7 1234.7,417.6 1234.2,416.6 1233.2,416.4 1232.2,416.5 1231.7,416.5 1230.7,416.1 1230.2,417 1229.7,418.2 1229.2,419.4 1228.2,420.6 1227.7,420.6 1227.2,419.8 1226.7,419.1 1226.2,419.7 1225.7,420.4 1225.2,420.3 1224.7,419.6 1224.2,417.7 1223.7,416.1 1223.2,415.7 1222.7,415.8 1222.2,416.3 1221.7,417.3 1220.7,417.5 1220.2,417.1 1219.7,412.8 1219.2,408.1 1218.7,400.8 1217.7,377.9 1217.2,366.7 1216.7,350.8 1216.2,341.8ZM1284.2,316.5 1285.2,316.5 1284.7,317.4 1284.2,316.5ZM1286.7,316.5 1290.2,316.5 1289.7,317.4 1288.7,318.5 1288.2,318.5 1287.7,318 1287.2,317.4 1286.7,316.5ZM1344.7,341.8 1530.8,341.8 1530.3,344.8 1529.8,348.6 1529.3,352.3 1528.8,355.5 1528.3,357.6 1527.8,356.2 1526.8,352.1 1526.3,350.5 1525.3,348.5 1524.3,346.1 1523.8,345.8 1522.8,345.8 1521.8,345.5 1521.3,345.8 1520.3,347.9 1519.3,349.6 1518.8,350.2 1517.8,350.7 1517.3,350.4 1516.8,350 1516.3,349.7 1515.3,350.1 1513.8,351.5 1512.8,352.8 1512.3,352.7 1511.8,352.3 1511.3,352.3 1510.8,353.2 1510.3,353.3 1509.8,352.1 1509.3,350.3 1508.8,349 1508.3,349.1 1507.8,349.9 1507.3,349.5 1506.8,348.7 1506.3,348.3 1505.8,349.5 1505.3,352.5 1504.8,355 1503.8,359.6 1503.3,361.5 1502.8,362.2 1502.3,362.7 1501.8,363.1 1501.3,363.4 1500.8,362.8 1500.3,361.5 1499.8,360.6 1498.8,359.3 1497.8,358.4 1497.3,358.1 1496.3,358 1495.3,357.8 1494.8,357.6 1493.8,357.1 1492.8,355.8 1492.3,355.5 1491.3,355.8 1490.3,355 1489.8,354.5 1488.8,353.3 1488.3,351.6 1487.8,349.8 1487.3,348.8 1486.8,349.2 1486.3,350.1 1485.8,349.4 1485.3,348.5 1484.8,347.9 1484.3,349.2 1483.8,351 1482.8,354.2 1482.3,355.7 1481.3,358.5 1480.8,360.3 1480.3,362.2 1479.8,364.3 1479.3,364.9 1478.8,365.3 1478.3,364.1 1477.8,362.5 1477.3,361 1476.3,361 1475.8,359.4 1475.3,357.5 1474.8,356.2 1473.8,355.4 1473.3,354.8 1472.8,354.2 1472.3,353.7 1471.3,353.2 1470.3,352.8 1469.8,352.7 1468.8,352.8 1468.3,352.2 1467.8,351.3 1467.3,350.6 1466.3,350.8 1465.8,350.1 1465.3,349 1464.8,347.9 1464.3,349 1463.8,350.3 1463.3,350.6 1462.8,350.2 1462.3,349.9 1461.3,351.6 1460.8,351.7 1459.8,351.1 1458.8,353.1 1458.3,354 1457.3,355.8 1455.8,355.9 1454.8,356.1 1453.8,357.1 1453.3,357.2 1452.3,357 1451.3,357.3 1450.8,357.2 1450.3,356.9 1449.8,356.8 1448.8,357.9 1448.3,358.7 1447.8,359.8 1447.3,361 1446.8,361.6 1446.3,362 1445.8,362.7 1445.3,364.3 1444.8,364.8 1444.3,364.3 1443.8,363.6 1443.3,363 1442.3,362 1441.8,360.6 1441.3,359.1 1440.8,357.7 1439.8,356.5 1439.3,356.6 1438.8,356.8 1438.3,357.1 1437.3,358.1 1436.3,356.7 1435.8,356.6 1434.8,359.8 1434.3,360.4 1433.8,360.4 1433.3,359.7 1432.3,359.3 1431.8,358.9 1431.3,358.3 1430.8,357.7 1430.3,356.9 1429.3,355.6 1428.3,354.2 1427.8,353.8 1427.3,354 1426.8,354.8 1425.8,356.7 1424.8,356.5 1424.3,356.8 1423.3,358 1422.3,358.9 1421.8,359.5 1421.3,360.2 1420.8,360.8 1419.8,360.3 1419.3,360.1 1418.3,359.9 1417.8,359.2 1417.3,358.5 1416.8,357.7 1415.8,356.4 1414.3,354.2 1413.8,354.2 1413.3,354.5 1412.3,355.1 1411.8,355.4 1411.3,356.1 1410.8,357.1 1409.8,359.4 1409.3,360.7 1408.3,363.4 1407.8,364.3 1407.3,364.9 1406.8,365.5 1405.8,366.1 1405.3,366 1404.8,365.3 1404.3,364.2 1403.3,363.5 1402.8,363.4 1402.3,363.6 1401.8,363.6 1400.8,362.5 1400.3,362.4 1399.8,362.5 1399.3,362.4 1398.8,362.4 1398.3,362.4 1397.3,364.1 1396.8,365.1 1396.3,366.7 1395.8,368.4 1395.3,369.6 1394.8,370.2 1394.3,370.8 1393.8,372.2 1393.3,373.2 1392.8,372.7 1392.3,372.6 1391.8,372.3 1391.3,371.5 1390.8,370 1390.3,366.8 1389.3,359.2 1388.8,357.4 1388.3,355.9 1387.8,353.5 1387.3,350.2 1386.8,349.6 1386.3,349.9 1385.8,350.3 1385.3,352.1 1384.3,359.8 1383.8,363.3 1383.3,366 1382.8,368.2 1381.8,372.5 1381.3,373.9 1380.8,371.7 1380.3,369.5 1379.3,367.1 1378.8,364.2 1378.3,362 1377.8,360.6 1377.3,360.2 1376.8,360 1376.3,360.1 1375.8,361.6 1375.3,362.6 1374.8,362.7 1374.3,362.7 1373.8,363.8 1373.3,365.2 1372.8,366.5 1372.2,366.8 1371.7,367.1 1371.2,367 1370.2,366.7 1369.2,366.6 1368.7,366.8 1368.2,367.1 1367.7,367.3 1366.7,366.7 1366.2,366.6 1365.7,366.5 1365.2,366.7 1364.2,368.1 1363.7,368.1 1363.2,367.6 1362.7,367.2 1361.7,368 1361.2,367.8 1360.7,367.2 1360.2,366.9 1359.2,368.4 1358.7,368.4 1358.2,367.8 1357.7,367.6 1356.7,370 1356.2,370.6 1355.7,370.6 1355.2,370.6 1354.7,371.1 1353.2,372.2 1352.7,372.6 1351.7,372.6 1351.2,372.8 1350.7,373.3 1350.2,373.1 1349.2,371.5 1348.7,369.3 1348.2,367.2 1347.7,365.1 1347.2,361.6 1346.7,356.7 1346.2,352.3 1345.7,348.5 1345.2,345 1344.7,341.8ZM1560.3,337.5 1560.8,321.2 1561.3,316.5 1579.8,316.5 1579.3,317.7 1578.3,319.2 1577.8,319.4 1577.3,319.6 1576.8,319.7 1576.3,319.5 1575.8,319.6 1575.3,319.9 1574.8,320.4 1574.3,321.1 1573.3,324.2 1572.8,325.5 1572.3,326.6 1571.8,327.6 1571.3,328.2 1570.8,328.4 1570.3,328.1 1569.3,327.9 1568.8,327.3 1568.3,326.5 1567.8,325.5 1566.8,323.6 1566.3,322.9 1565.8,322.5 1565.3,322.6 1564.8,323.1 1564.3,323.6 1563.8,323 1563.3,322.5 1562.8,322.9 1561.8,325.1 1561.3,325.7 1560.8,326.8 1560.3,337.5ZM1587.8,316.5 1604.8,316.5 1604.3,318.1 1603.8,319 1603.3,319.9 1602.3,320.5 1601.8,321 1601.3,321.5 1600.8,322 1600.3,321.8 1599.8,321.6 1599.3,321.5 1598.8,321.7 1598.3,321.9 1597.3,324.2 1596.8,324.6 1595.8,324.3 1594.8,324.7 1594.3,324.7 1593.3,324 1592.3,322.6 1591.8,322.2 1590.8,322.2 1589.8,323.3 1589.3,322.4 1588.3,318.7 1587.8,316.5ZM1612.3,316.5 1622.8,316.5 1622.3,318.1 1621.8,319.8 1621.3,321.6 1620.8,323.1 1620.3,324.1 1619.8,324.4 1618.8,323.9 1617.8,323.6 1617.3,322.9 1616.8,322.4 1616.3,322 1615.8,321.8 1614.8,322.7 1614.3,321.7 1613.8,320.3 1613.3,318.9 1612.8,318.1 1612.3,316.5ZM1630.8,316.5 1635.8,316.5 1635.3,317.5 1634.8,318.2 1634.3,319.1 1633.8,319.9 1633.3,320.4 1632.3,321.2 1631.8,319.4 1631.3,317.5 1630.8,316.5ZM1645.3,316.5 1646.8,316.5 1646.3,317.9 1645.8,317.6 1645.3,316.5ZM1749.3,337.2 1749.9,320.9 1750.4,316.5 1938.4,316.5 1937.9,363.7 1937.4,363.4 1936.9,363 1935.9,362.1 1935.4,362.2 1934.9,362.5 1934.4,362.7 1933.4,362.6 1932.4,361.8 1931.9,361.3 1930.9,359.5 1930.4,359.6 1929.9,359.7 1929.4,360 1928.9,360.6 1928.4,361.6 1927.9,362 1926.9,362.7 1925.9,363.3 1925.4,363 1924.9,362.6 1924.4,362.5 1923.4,363.6 1922.9,364.6 1922.4,365.8 1921.9,366.8 1921.4,367.1 1920.9,366.6 1920.4,366 1919.9,365.3 1919.4,364.6 1918.9,363.4 1918.4,361.6 1917.9,360.7 1917.4,360 1916.9,359.2 1916.4,358.2 1915.9,357.4 1915.4,356.5 1914.9,355.6 1914.4,354.6 1913.9,354.9 1913.4,355.6 1912.9,355.7 1912.4,355.4 1911.9,355.3 1911.4,356.7 1910.9,358.3 1910.4,360.3 1909.9,362.5 1909.4,364.6 1908.4,363 1907.9,362.9 1906.9,363.7 1905.9,365.9 1905.4,366 1904.4,364.9 1903.4,363 1902.9,362.7 1901.9,363.1 1900.9,363.4 1900.4,363.1 1899.4,361.3 1898.9,361.7 1898.4,362.2 1897.9,362.4 1896.9,362.1 1895.9,361.9 1895.4,361.6 1894.4,360.6 1893.9,359.7 1893.4,358.7 1892.9,358 1891.9,357.8 1891.4,357.2 1890.9,356.6 1890.4,356.2 1889.4,356.5 1888.4,356.4 1887.9,356.4 1886.9,356 1886.4,356.1 1885.9,356.3 1885.4,356.5 1884.9,356.3 1884.4,356 1883.9,355.9 1883.4,355.9 1882.9,355.9 1882.4,356 1881.9,355.7 1881.4,354.2 1880.9,352.2 1880.4,350.5 1879.9,349.8 1879.4,349.3 1878.9,349.1 1878.4,349 1877.9,348.9 1877.4,348.1 1876.9,348 1876.4,348 1875.9,347.9 1875.4,347.8 1874.4,346.3 1873.9,346.4 1872.9,347.8 1871.9,349.2 1871.4,350.2 1870.9,351.2 1870.4,352.2 1868.4,353.1 1867.9,353 1866.9,352.6 1866.4,352.5 1865.4,352.4 1864.9,351.9 1864.4,351.3 1863.9,351 1862.9,351.6 1862.4,350.6 1861.9,349.7 1861.4,349.2 1860.4,348.7 1859.4,348.8 1858.9,349.1 1857.9,350.9 1857.4,351.2 1856.9,351.2 1856.4,351.3 1855.4,351.1 1854.9,351.5 1854.4,352 1853.9,352.5 1852.9,353.8 1852.4,354.2 1851.9,354.6 1851.4,354.7 1850.4,353 1849.9,353.2 1849.4,353.8 1848.9,354.3 1848.4,354.3 1847.9,353.8 1847.4,353.4 1846.4,353.1 1845.9,352.7 1845.4,352 1844.9,350.6 1843.9,347.4 1843.4,345.9 1842.9,345 1842.4,344.7 1841.9,344.6 1841.4,344.4 1840.9,343 1840.4,342.4 1839.9,343.1 1839.4,344.5 1838.9,345.9 1838.4,346.2 1837.9,346.7 1837.4,346.9 1836.4,347.2 1835.4,350.4 1834.9,351.2 1833.9,352.1 1832.9,352 1832.4,351.7 1831.9,349.7 1831.4,347.4 1830.9,345.9 1829.9,342.9 1828.9,338.3 1828.4,336.7 1827.9,336 1827.4,336.3 1826.4,336.1 1825.9,336.9 1824.4,340.6 1823.9,341.8 1822.9,344.1 1822.4,344.9 1821.9,344.9 1821.4,344.9 1820.9,343.8 1820.4,342.7 1819.9,341.4 1819.4,339.7 1818.9,338 1818.4,337.2 1817.9,336.6 1817.4,335.9 1816.9,335.8 1816.4,336.9 1815.9,338.3 1815.4,339.9 1814.9,342.3 1813.9,346.8 1813.4,349.2 1812.9,351.5 1812.4,354 1811.9,357.2 1811.4,358.2 1810.9,356.2 1810.4,353.5 1809.9,351.1 1809.4,350.1 1808.9,349.5 1808.4,348 1807.9,345.7 1807.4,343.6 1806.9,343.3 1806.4,343.6 1805.9,343.1 1805.4,342 1804.9,341 1803.9,342.5 1803.4,342.3 1802.4,340.3 1801.4,341.2 1800.9,341 1800.4,339.8 1799.9,338.5 1798.9,336.9 1798.4,336.4 1797.9,336.1 1797.4,336 1796.9,335.3 1796.4,334.6 1795.9,334.2 1794.4,334.6 1793.9,334.9 1793.4,334.9 1792.4,333.7 1791.9,333.5 1791.4,333.4 1790.9,333.9 1789.9,335.7 1789.4,335.6 1788.9,335.2 1787.9,334.6 1787.4,333.8 1786.9,333.2 1786.4,332.8 1785.9,332.4 1785.4,332.1 1784.9,331.8 1784.4,330.8 1783.4,328.7 1782.9,327.5 1782.4,326.6 1781.9,327.3 1781.4,328.2 1780.9,328.9 1780.4,329.1 1779.9,329.7 1779.4,330.5 1778.4,332.6 1777.9,333.2 1777.4,333.7 1776.9,334.1 1776.4,334.5 1775.9,334.9 1775.4,336.4 1774.9,337.3 1774.4,337.2 1773.9,336.5 1773.4,335.8 1772.4,333.5 1771.9,332.9 1770.9,332.5 1769.9,333 1769.4,332.8 1768.9,332.2 1768.4,331.7 1767.4,330.6 1766.9,330.4 1765.9,330.8 1764.9,329.9 1764.4,330.1 1763.4,331.6 1762.9,331.3 1762.4,330.9 1761.9,331 1761.4,331.8 1760.9,332.9 1760.4,333.2 1759.9,333.4 1759.4,333.9 1758.4,336 1757.9,336.2 1757.4,336.1 1756.9,335.6 1755.9,333.9 1754.9,332.3 1754.4,331.6 1753.4,330.4 1752.4,329.5 1751.9,329.1 1750.9,328.3 1750.4,328.9 1749.9,329.7 1749.3,337.2Z"/>
<path fill="#73b8ff" d="M570.5,316.5 633.6,316.5 633.1,330.5 632.6,337 587.5,337 587,338.5 586.5,342.4 586,344.6 573,344.6 572.5,342.8 571,318.7 570.5,316.5ZM745.6,316.5 807.1,316.5 806.6,322.4 806.1,339.2 805.6,342.5 747.1,342.5 746.6,339 746.1,322.3 745.6,316.5ZM853.6,316.5 946.6,316.5 946.1,330.3 945.6,344.3 856.1,344.3 855.6,344.2 854.1,317.5 853.6,316.5ZM996.7,316.5 1058.2,316.5 1057.7,322.5 1057.2,338.8 1056.7,341.8 997.7,341.8 997.2,328.2 996.7,316.5ZM1185.2,316.5 1277.7,316.5 1277.2,329.3 1276.7,341.8 1186.7,341.8 1186.2,341.1 1185.7,324.8 1185.2,316.5ZM1341.7,316.5 1561.3,316.5 1560.8,321.2 1560.3,337.5 1559.8,341.8 1343.7,341.8 1343.2,339.6 1342.2,317.9 1341.7,316.5ZM1657.3,316.5 1750.4,316.5 1749.9,320.9 1749.3,337.2 1748.8,341.8 1658.8,341.8 1658.3,333.2 1657.8,316.9 1657.3,316.5Z"/>
<polyline fill="none" stroke="#050505" stroke-width="2.75" stroke-linejoin="round" points="429.5,271.7 431.7,271 434.1,274.7 435.9,277.1 438.4,276.5 440.2,274.1 443.2,272.3 445.1,275.3 446.9,278.3 448.7,279.6 450.5,277.1 452.3,272.9 454.2,272.3 456,275.9 457.8,278.3 460.2,277.1 462.7,274.1 464.5,272.9 466.9,272.9 469.4,273.5 471.8,275.9 474.8,278.3 478.5,280.8 481.5,279.6 484.6,277.1 487,273.5 488.8,268.6 490.6,265.6 492.5,269.8 494.3,274.7 496.7,279.6 499.7,283.8 502.2,280.8 505.2,279.6 508.3,282 511.3,279.6 514.3,275.9 517.4,275.9 520.4,277.1 523.4,277.1 527.1,275.9 530.7,275.9 533.8,279.6 535.6,283.2 538,283.2 540.5,278.3 542.3,276.5 544.7,277.1 547.1,278.3 549.6,280.8 552,283.2 554.4,279.6 556.9,272.3 558.7,271 560.5,274.7 562.3,278.3 564.8,279.6 566.6,275.9 569,273.5 570.8,272.9 573.3,274.1 575.7,275.3 578.7,276.5 581.8,277.1 584.2,276.5 586.6,273.5 589.1,270.4 590.9,273.5 592.7,277.7 595.2,280.2 597.6,282 599.4,285.6 601.2,290.5 603.7,286.2 606.1,282.6 608.5,280.8 611,279.6 613.4,282 615.8,283.8 618.2,281.4 620.7,279.6 623.1,280.8 625.5,281.4 628,280.2 630.4,278.9 632.8,282 635.3,284.4 638.3,285 640.7,283.2 643.2,285.6 646.2,285.6 648.6,283.2 651.1,280.2 653.5,278.9 655.9,280.2 658.3,280.8 660.8,277.1 663.2,275.3 665.6,274.7 668.1,275.3 671.7,275.9 673.6,276.1 677.3,275.7 680.9,274.9 683.4,274.7 685.8,278.3 688.8,282.6 691.9,281.4 695.5,280.2 699.2,279.6 702.8,278.9 706.5,277.1 710.1,274.7 712.5,274.7 715.6,277.1 718.6,280.8 721,282.6 724.1,278.3 727.1,275.3 730.2,274.7 733.2,275.3 736.2,277.1 739.3,279.6 741.7,278.9 744.1,276.5 746.6,272.3 748.4,270.4 750.2,272.3 752.6,271.7 755.1,269.8 757.5,268.6 759.9,273.5 762.4,277.1 764.2,274.7 766,268.6 767.8,266.8 769.7,269.8 772.1,274.7 774.5,277.7 777.6,277.7 780.6,276.5 783,276.5 786.7,277.7 790.3,279.6 794,280.8 797,280.8 799.4,278.3 801.9,274.7 803.7,272.9 805.5,275.3 807.9,278.3 810.4,277.7 812.2,272.3 814,268.6 815.8,271 817.7,277.1 820.1,282.6 821.9,283.2 823.7,278.3 826.2,276.5 828,277.7 829.8,282 832.3,285 834.7,282 837.7,279.6 841.4,277.7 845,277.1 848.1,275.3 850.5,274.1 853.5,271 856,268 858.4,265 860.8,268 863.2,269.2 866.3,269.8 869.3,268 871.8,267.4 874.8,269.8 877.8,271 881.5,271 884.5,273.5 887.5,277.1 890,272.3 892.4,266.2 896.1,263.8 900.9,263.1 905.8,264.4 909.4,263.8 913.1,263.1 915,263.8 918.6,266.2 922.3,268.6 925.9,271 929,273.5 931.4,274.1 933.8,271 936.3,268.6 938.7,271 940.5,274.1 942.3,272.3 944.2,266.2 946.6,261.9 949,261.3 951.5,263.1 953.9,268 956.9,269.8 960,269.8 963,268 966,266.8 969.1,268 972.1,269.8 975.2,269.2 978.2,268.6 981.2,269.2 984.3,271 987.3,271 989.7,268 992.2,265.6 994.6,267.4 997,271 998.9,271.7 1001.3,268.6 1003.7,266.2 1006.2,267.4 1008.6,270.4 1011,272.3 1014.1,270.4 1017.1,269.2 1020.7,268.6 1024.4,268.6 1028,266.8 1031.7,266.2 1035.3,266.8 1039,267.4 1042.6,265.6 1045.7,266.8 1048.7,269.8 1051.1,271.7 1053.6,265 1055.4,260.1 1057.2,258.9 1059,262.5 1060.8,266.8 1063.3,269.8 1065.7,271 1068.7,269.2 1071.8,267.4 1074.8,263.8 1077.9,259.5 1080.3,256.5 1082.7,255.9 1085.2,257.7 1087.6,259.5 1090.6,258.9 1093.7,259.5 1096.7,261.3 1099.7,257.7 1102.2,254.6 1104.6,253.4 1107,255.2 1109.5,257.7 1112.5,259.5 1115.5,258.9 1119.2,260.1 1122.8,261.3 1125.3,258.9 1127.7,256.5 1130.1,258.9 1132.5,263.1 1135,265 1138.6,263.8 1142.3,265 1145.9,265.6 1149.6,263.8 1153.2,262.5 1156.9,263.1 1160,268 1163.6,266.8 1167.3,264.4 1170.9,263.1 1174.6,263.8 1178.2,266.2 1181.3,271 1183.7,272.3 1186.1,268.6 1189.2,268 1192.2,269.8 1195.2,266.8 1197.7,265 1200.1,266.8 1202.5,271 1205.6,272.9 1208.6,271 1211,266.8 1213.5,266.8 1215.9,269.8 1218.3,273.5 1220.2,275.3 1222,268.6 1223.8,266.2 1226.2,267.4 1229.3,269.2 1232.9,271 1236,272.3 1239,271 1242,272.9 1245.1,277.1 1247.5,273.5 1249.9,267.4 1251.8,266.2 1253.6,269.8 1256,274.7 1259.1,277.7 1262.1,276.5 1265.1,273.5 1268.2,268.6 1270.6,270.4 1273,271 1276.7,270.4 1280.3,269.2 1284,268.6 1287.6,269.8 1291.3,269.8 1294.9,270.4 1298.6,269.8 1301.6,268 1304,266.8 1306.5,271 1308.9,275.9 1311.9,278.9 1315,279.6 1318,281.4 1321,280.2 1324.1,275.9 1327.7,273.5 1331.4,271 1335,268.6 1338.7,268 1342.3,268.6 1345.3,269.8 1347.8,274.1 1350.8,275.9 1354.5,274.1 1358.1,272.3 1361.8,272.9 1365.4,272.3 1369,272.9 1372.7,273.5 1376.3,271.7 1378.8,274.7 1381.2,280.8 1383.6,274.7 1385.4,267.4 1387.3,266.2 1389.1,271 1390.9,277.1 1393.3,280.2 1395.8,275.9 1398.2,272.9 1401.9,274.1 1405,276 1408,274.1 1411.1,270.5 1414.1,268.7 1417.2,271.1 1420.8,272.9 1424.4,269.9 1427.5,267.5 1430.5,269.3 1433.6,272.3 1436.6,269.9 1439.6,270.5 1442.7,272.9 1445.1,274.7 1447.5,271.7 1450,269.3 1453.6,269.3 1457.3,266.8 1460.9,263.8 1464.6,262.6 1468.2,264.4 1471.8,267.5 1475.5,270.5 1477.9,273.5 1479.7,274.7 1482.2,269.3 1484.6,263.8 1487,263.8 1490.1,266.8 1493.7,269.3 1497.4,271.1 1501,273.5 1503.4,271.1 1505.9,263.8 1508.3,263.2 1510.7,265 1514.4,263.8 1518,262 1521.7,260.2 1524.1,258.9 1526.5,262.6 1528.4,265 1530.2,258.3 1532,251 1533.8,248.6 1536.3,251.7 1538.7,252.3 1542.3,249.8 1546,246.8 1549,244.4 1550.8,247.4 1552.7,251 1555.1,248.6 1558.1,243.8 1561.2,238.9 1564.2,236.5 1566.6,236.5 1569.1,238.9 1570.9,239.5 1573.3,235.9 1576.4,232.8 1580,230.4 1583.7,227.3 1585.5,226.7 1587.3,229.8 1589.7,234 1593.4,235.9 1597,235.9 1600.7,234 1604.3,231 1608,229.2 1611,230.4 1614,233.4 1617.7,235.9 1620.1,235.2 1622.5,231 1625,227.3 1627.4,223.1 1629.2,221.9 1630.4,226.1 1632.3,231 1634.7,230.4 1637.1,227.3 1639.6,225.5 1642,226.7 1645,228.6 1648.1,229.2 1650,229.2 1652.4,226.1 1654.9,224.3 1657.3,228 1660.3,232.8 1663.4,237.1 1665.8,236.5 1668.2,231.6 1670.7,228.6 1673.7,229.8 1676.7,230.4 1679.8,229.2 1682.2,228.6 1684.6,232.8 1687.7,235.2 1691.3,236.5 1695,238.9 1698.6,240.7 1702.3,238.9 1704.7,234.6 1707.1,232.2 1710.2,234 1712.6,235.9 1715,232.8 1717.5,229.8 1720.5,232.2 1723.5,234.6 1726.6,234.6 1729.6,233.4 1732.6,234 1735.7,232.2 1738.7,229.8 1741.2,230.4 1743.6,234 1746,238.3 1748.4,241.3 1752.1,242.5 1755.7,245.6 1758.2,246.8 1761.2,244.4 1764.9,243.8 1768.5,244.4 1771.5,246.2 1775.2,248 1778.2,246.2 1780.7,243.1 1782.5,242.5 1784.9,245.6 1787.9,247.4 1791.6,246.8 1794.6,247.4 1797.7,249.8 1800.7,252.9 1803.7,254.7 1806.8,257.1 1809.2,260.8 1811.6,266.2 1813.5,260.8 1815.3,254.7 1817.1,251 1818.9,252.3 1821.4,255.9 1823.8,254.7 1826.2,251 1828.1,251.7 1829.9,257.1 1832.3,262 1835.3,261.4 1838.4,258.9 1840.8,257.7 1843.2,259.6 1845.7,263.8 1848.1,266.2 1851.8,265.6 1855.4,264.4 1859,263.2 1862.1,263.2 1865.1,265 1868.2,265.6 1871.2,263.8 1874.2,261.4 1877.3,261.4 1879.7,263.8 1882.1,267.5 1885.2,268.7 1888.2,269.3 1891.2,271.1 1894.3,272.9 1897.3,274.1 1902.1,276 1905.7,277.2 1909.4,275.4 1911.8,271.1 1914.2,269.3 1916.7,271.7 1919.1,276 1921.5,277.8 1925.2,276 1928.8,274.1 1932.5,274.1 1935.5,275.4 1938.4,277.2"/>
<polyline fill="none" stroke="#f83a3a" stroke-opacity="0.86" stroke-width="2.85" stroke-linejoin="round" points="428.8,235.6 461.8,262.8 525,225.8 575.6,261.8 585.3,259.9 633.9,240.4 667,215.1 729.2,259.9 746.7,249.2 807.8,236.5 856.4,271.5 864.2,272.5 887.5,266.7 916.7,262.8 947.8,260.8 994.5,233.6 1026.5,221.9 1052.8,241.4 1058.6,247.2 1082,256 1111.1,268.6 1130.6,275.4 1142.2,276 1159.7,270.6 1179.2,266.7 1191.7,268.6 1203.3,278.3 1216,286.1 1228.6,268.6 1238.3,257 1248.1,249.2 1261.7,243.3 1273.3,239.5 1281.1,235.6 1288.9,235.2 1300.6,237.5 1316.1,245.3 1331.7,256 1343.3,263.8 1355,258.9 1374.5,252.1 1393.9,247.2 1413.3,243.3 1432.8,240.4 1452.2,237.9 1471.7,236.5 1491.1,233.6 1510.6,231.7 1530,231.7 1549.5,234.6 1579.4,237.5 1618.3,239.5 1653.3,242.4 1684.5,257 1715.6,270.6 1749.6,284.2 1801.1,275.4 1832.2,264.7 1880.9,243.3 1910,227.8 1938.2,209.3"/>
</g>
<g font-family="'Liberation Sans', sans-serif" font-size="23.8" stroke-width="0.65" stroke-linejoin="round">
<line x1="429" y1="490" x2="1938.9" y2="490" stroke="#606060" stroke-width="1.25"/>
<line x1="429.5" y1="56.2" x2="429.5" y2="490" stroke="#4d9cd4" stroke-width="1.1"/>
<line x1="1938.4" y1="56.2" x2="1938.4" y2="490" stroke="#e58659" stroke-width="1.1"/>
<line x1="429.5" y1="108.3" x2="443.5" y2="108.3" stroke="#4d9cd4" stroke-width="0.9"/>
<line x1="1924.4" y1="108.3" x2="1938.4" y2="108.3" stroke="#e58659" stroke-width="0.9"/>
<text x="421" y="116.9" text-anchor="end" fill="#3a8dca" stroke="#3a8dca">60</text>
<text x="1946.9" y="116.9" text-anchor="start" fill="#e27646" stroke="#e27646">60</text>
<line x1="429.5" y1="177.7" x2="443.5" y2="177.7" stroke="#4d9cd4" stroke-width="0.9"/>
<line x1="1924.4" y1="177.7" x2="1938.4" y2="177.7" stroke="#e58659" stroke-width="0.9"/>
<text x="421" y="186.3" text-anchor="end" fill="#3a8dca" stroke="#3a8dca">40</text>
<text x="1946.9" y="186.3" text-anchor="start" fill="#e27646" stroke="#e27646">40</text>
<line x1="429.5" y1="247.1" x2="443.5" y2="247.1" stroke="#4d9cd4" stroke-width="0.9"/>
<line x1="1924.4" y1="247.1" x2="1938.4" y2="247.1" stroke="#e58659" stroke-width="0.9"/>
<text x="421" y="255.7" text-anchor="end" fill="#3a8dca" stroke="#3a8dca">20</text>
<text x="1946.9" y="255.7" text-anchor="start" fill="#e27646" stroke="#e27646">20</text>
<text x="421" y="325.1" text-anchor="end" fill="#3a8dca" stroke="#3a8dca">0</text>
<text x="1946.9" y="325.1" text-anchor="start" fill="#e27646" stroke="#e27646">0</text>
<line x1="429.5" y1="385.9" x2="443.5" y2="385.9" stroke="#4d9cd4" stroke-width="0.9"/>
<line x1="1924.4" y1="385.9" x2="1938.4" y2="385.9" stroke="#e58659" stroke-width="0.9"/>
<text x="421" y="394.5" text-anchor="end" fill="#3a8dca" stroke="#3a8dca">-20</text>
<text x="1946.9" y="394.5" text-anchor="start" fill="#e27646" stroke="#e27646">-20</text>
<line x1="429.5" y1="455.3" x2="443.5" y2="455.3" stroke="#4d9cd4" stroke-width="0.9"/>
<line x1="1924.4" y1="455.3" x2="1938.4" y2="455.3" stroke="#e58659" stroke-width="0.9"/>
<text x="421" y="463.9" text-anchor="end" fill="#3a8dca" stroke="#3a8dca">-40</text>
<text x="1946.9" y="463.9" text-anchor="start" fill="#e27646" stroke="#e27646">-40</text>
<line x1="793" y1="475" x2="793" y2="490" stroke="#606060" stroke-width="0.9"/>
<text x="794.3" y="522.5" text-anchor="middle" fill="#3c3c3c" stroke="#3c3c3c">Dec 31, 2020, 06:00</text>
<line x1="1171.1" y1="475" x2="1171.1" y2="490" stroke="#606060" stroke-width="0.9"/>
<text x="1172.4" y="522.5" text-anchor="middle" fill="#3c3c3c" stroke="#3c3c3c">Dec 31, 2020, 12:00</text>
<line x1="1549.2" y1="475" x2="1549.2" y2="490" stroke="#606060" stroke-width="0.9"/>
<text x="1550.5" y="522.5" text-anchor="middle" fill="#3c3c3c" stroke="#3c3c3c">Dec 31, 2020, 18:00</text>
<line x1="1927.2" y1="475" x2="1927.2" y2="490" stroke="#606060" stroke-width="0.9"/>
<text x="1928.5" y="522.5" text-anchor="middle" fill="#3c3c3c" stroke="#3c3c3c">Jan 01, 2021, 00:00</text>
<text transform="translate(375,273.1) rotate(-90)" text-anchor="middle" fill="#3a8dca" stroke="#3a8dca" font-size="27">[kW]</text>
<text transform="translate(1999.4,273.1) rotate(90)" text-anchor="middle" fill="#e27646" stroke="#e27646" font-size="27">[kW]</text>
</g>
<g>
<path fill="#33ff33" d="M429.5,804.9 430.5,805.2 431,804.7 431.5,803.3 432,803 432.5,804.8 433,806.6 433.5,808.2 434,809.3 434.5,810.3 435.5,813 436,813.8 436.5,813.2 437,812.5 437.5,812.6 438,812.9 438.5,812.6 439.5,810.3 440,808.8 440.5,807.6 441,806.7 442,805.2 442.5,805.1 443,805.1 443.5,805.8 444.5,807.6 445,809.1 445.5,810.7 446,812.1 446.5,812.8 447,813.2 447.5,814.4 448,816 448.5,817.1 449,815.5 449.5,813.2 450,812.2 450.5,811.8 451,810.3 452,806.2 452.5,805.1 453,805.2 453.5,805.2 454,804.3 454.5,804.6 455,806.5 455.5,808.9 456,811.1 457,813.1 457.5,814.5 458,815.4 458.5,815.4 459.5,813.9 460,812.8 460.5,811.3 461,809.6 462,807.5 462.5,806.7 463,806.3 463.5,806.1 464.5,806.9 465,806.8 466,804.6 466.5,804.3 466,814.3 465.5,826.4 465,842.5 464.5,850.8 429.5,850.8ZM527,809.6 527.5,809.9 528,809.7 528.5,808.9 529,808.2 530,808.1 530.5,808.1 531,808.8 531.5,809.8 532.5,812.8 533,813.9 533.5,814.7 534,815.9 535,817 535.5,818.7 536,819.7 536.5,820.6 537.5,820.7 538,820.5 539,816.9 540,813.1 540.5,811.5 541.5,809.9 542,809.7 542.5,810.2 543,810.8 544,811.2 544.5,810.9 545,810.6 545.5,810.8 546.5,812.4 547,812.4 547.5,812.6 548,813 549,814.2 549.5,815.8 550,817.6 550.5,818.9 551.5,819.8 552,820.4 552.5,819.4 553,818.2 554,815 554.5,813.2 555,810.6 555.5,808.2 556.5,804.8 557,803.5 557.5,803.2 558,802.8 558.5,801.5 559,802 559.5,804.2 560,807 560.5,809.6 561.5,812.3 562,813.9 562.5,814.9 563,815.3 564,816.7 564.5,816.8 565,815.3 565.5,813.1 566.5,810.2 567,809.6 568,808.6 568.5,807.6 569,806.7 569.5,806.2 570.5,805.1 571,805.7 571.5,806.6 572,807.4 573,808.9 574,808.7 574.5,801 575,793.5 575.5,788.1 576,787.9 576.5,787.6 577,786.3 576.5,793.9 575.5,813.9 575,825.8 574.5,841.9 574,850.8 530.5,850.8 530,847.4 529.5,843.5 529,838.9 528.5,835 528,829.6 527,809.6ZM668,806.1 668.5,808.6 669,809.2 669.5,810.1 670,810.9 671,810.2 671.5,810.1 672.5,810.1 673.5,809.8 674,810.1 674.5,810.7 675,811.3 676,810.5 676.5,810.5 677,810.9 677.5,811.2 678.5,809.2 679,808.5 680,807.5 681,808.3 681.5,808.1 682.5,806.5 683,806.5 683.5,807.2 684,808.7 685,812.5 685.5,813.1 686,813.6 686.5,814.5 687.5,817.6 688,818.3 688.5,819 689,818.7 690,816.6 690.5,816.9 691,817.3 691.5,817.2 692,816.3 692.5,815.5 693,815.6 693.5,816 694,816.1 695,815.5 695.5,814.5 696,813.4 696.5,812.9 697.5,814.9 698,815 698.5,814.9 699,814.5 700,812.5 700.5,812.8 701,813.6 701.5,814.2 702.5,814.4 703,814.3 703.5,814.1 704,813.9 705,812.3 705.5,812.2 706,812.4 706.5,812.5 707.5,811.2 708,810.6 708.5,810.1 709,809.5 709.5,808.3 710,807.2 710.5,807.4 711,808 711.5,808.6 712,808 712.5,807.6 713,808.1 713.5,809.1 714,810 715,809.2 715.5,809.4 716.5,811.2 718,814.1 718.5,815 719,815.6 720,817.7 720.5,818.3 721,818 721.5,816.4 722,815.6 722.5,814.9 723,814.3 723.5,813.8 724,813.4 724.5,812.1 725,810.7 725.5,809.5 726.5,807.8 727,808.1 727.5,809.1 728,809.7 729,809.1 729.5,808.4 730,807.5 730.5,807.2 731.5,807.6 732,798.8 732.5,789.6 733,786.4 734,788.3 734.5,786.4 734,794.1 733,814.1 732.5,826.1 732,842.2 731.5,850.8 672,850.8 671.5,848.6 670.5,841.4 670,837.1 669.5,833.5 669,826.1 668,806.1ZM888,808.8 888.5,811 889,810.2 889.5,809 890,807.6 890.5,805.8 891.5,802 892,800.4 892.5,799.9 893,799.2 894,797 895,796.6 895.5,796.2 896,796 897.5,796.1 898,796.5 899,798.1 900,798.2 900.5,797.8 901,797.3 901.5,796.7 902,797.7 902.5,798.7 903,799.2 904,798.8 905,798.6 905.5,798.5 906.5,798.1 907.5,797.9 908,797.6 909,796.5 909.5,796.2 910,796 910.5,796.1 911.5,797.4 912,797.4 912.5,797.2 913,797.2 914,798.3 915,798.7 915.5,798.9 916.5,799 917.5,799.2 918,799.5 919,801.3 919.5,801.9 920,802.4 920.5,802.8 921.5,802 922,802.1 923,802.8 924,804 924.5,804.7 925.5,806.3 926,806.7 928,808.7 928.5,808.6 929,808.2 929.5,808 930.5,808.2 931,809.5 931.5,809.8 932,808.7 933,804.4 933.5,803.4 934,802.6 934.5,801.8 935,801.2 935.5,800.6 936,800.6 936.5,802.3 937,803.2 938,803.4 938.5,804.6 939,806.4 939.5,808.4 940,810.8 940.5,812 941,811.6 941.5,811.1 942,810.4 942.5,807.6 943,804.6 943.5,801.8 944,799.4 944.5,798.1 945.5,796.9 946,794.8 946.5,792.8 947,792 948,792.5 948.5,792.6 949,793.1 949.5,793.9 950.5,795.2 951,796.1 951.5,791.2 952,784.7 952.5,777.9 953,778.6 953.5,779.8 954,780.4 954.5,780.5 954,785.5 953.5,792 952.5,814.9 952,828.3 951.5,844.4 951,850.8 892.5,850.8 892,848.6 891,842.4 890.5,838.5 889.5,832.3 889,824.8 888,808.8ZM1059.5,770 1060,777.8 1060.5,779.3 1061,780.2 1061.5,781.3 1062,792.7 1062.5,805.1 1063,806 1063.5,805.5 1064,805.2 1065,807.1 1065.5,806.8 1066,805.6 1066.5,804.7 1067.5,805.8 1068,805.3 1068.5,804.2 1069,803.3 1070,803.6 1070.5,803.2 1071.5,801.7 1072.5,801.9 1073,801.1 1074,798.3 1074.5,798.3 1075,798.1 1075.5,797.4 1076.5,794.8 1077.5,793.9 1078,793.2 1079,790.8 1079.5,790.2 1080,789.8 1080.5,789.8 1082,788.9 1082.5,788.8 1083,789.3 1084,790.1 1085,791.4 1085.5,792.1 1086.5,793.5 1087,793.7 1088,793 1089,793.6 1090,793.8 1090.5,793.7 1091.5,792.6 1092,792.9 1092.5,793.5 1093,793.8 1093.5,793.5 1094,793.3 1094.5,794.2 1095,795.4 1095.5,796.7 1096,797.7 1096.5,798.2 1097,797.2 1097.5,795.9 1098,794.6 1099,791.3 1099.5,790.6 1100,790.3 1100.5,789.8 1101.5,787 1102,786.5 1102.5,786.8 1103,786.9 1104,785.6 1104.5,786.1 1105,787.4 1105.5,788.6 1106.5,789.4 1107,790.1 1108,791.9 1109,792.6 1109.5,792.9 1110.5,793.8 1111.5,793.9 1112,794.1 1112.5,793.8 1113,793.4 1114,793.8 1114.5,793.8 1115,793.5 1115.5,793.5 1116.5,794.5 1117,794.9 1118,795.1 1119,795.1 1119.5,795 1120.5,794.3 1121,795.3 1121.5,796.5 1122,797.3 1122.5,797.1 1123,796 1123.5,795.5 1124,795.2 1124.5,794.4 1125.5,791.2 1126,790.4 1127,789 1127.5,788.9 1128,789.8 1129,791.1 1129.5,791.9 1130,793.1 1130.5,794.3 1129,795.5 1128.5,796.1 1123,807.1 1122.5,807.4 1119,805.6 1118.5,806 1115.5,809 1115,809.5 1111.5,814.7 1111,815.2 1107.5,813.5 1107,813.1 1103.5,809.6 1103,809.6 1099.5,811.4 1096,814.9 1095.5,815.2 1088,811.5 1082,807.5 1081.5,807.8 1076.5,811.2 1076,811.7 1072.5,818.7 1072,819.4 1068.5,822.9 1068,822.9 1064.5,821.1 1064,818.7 1062,808 1061.5,804.8 1060,779.3 1059.5,770ZM1187.5,799.1 1188,789.7 1188.5,782.6 1189,783.4 1189.5,784.5 1190,785.1 1190.5,785.1 1191,785.1 1191.5,785.9 1192,786.1 1192.5,785.6 1193.5,784.4 1194.5,783.2 1195,782.4 1196,780.4 1196.5,780.1 1197,780 1197.5,780.3 1198.5,781.1 1199,781.7 1199.5,782.3 1200,783.2 1201,784.7 1201.5,785.8 1202,787 1202.5,787.7 1203.5,790.7 1204,791.5 1204.5,792.1 1205,792.5 1205.5,791.8 1207,789 1207.5,788.2 1208,788 1208.5,787.2 1209,785.6 1210,782 1210.5,780.3 1211,779.8 1211.5,779.9 1212,780.2 1212.5,780.5 1213,780.5 1213.5,781.5 1214,782.9 1214.5,784.6 1215,786.3 1215.5,786.8 1216,787.6 1216.5,788.5 1217,789.7 1217.5,787.8 1217,793.3 1216.5,796.6 1215,805.6 1207.5,813.1 1207,813.9 1204.5,820.6 1204,821.7 1201.5,826.7 1201,826.4 1197.5,821.1 1195,814 1194.5,809.1 1189,801.8 1188.5,800.9 1187.5,799.1ZM1297,806.4 1297.5,805.3 1298,804.8 1298.5,803.9 1299,802.9 1299.5,802.4 1300.5,802.4 1301.5,801.8 1302,801.2 1303,798.8 1303.5,797.9 1304.5,799.9 1305.5,801.8 1306,803.2 1308,810.1 1308.5,811.7 1309,812.8 1309.5,813.5 1310.5,812.9 1311.5,813.1 1312,812.9 1313,813.8 1313.5,813.8 1314,813.8 1314.5,813.9 1315.5,815.9 1316,816.4 1317,816.9 1317.5,817 1318,816.4 1318.5,815.9 1319,815.4 1319.5,815 1320.5,815.8 1321,814.7 1321.5,813.1 1322,811.5 1323,810.2 1323.5,809.4 1324,809.1 1324.5,808.8 1325.5,809.1 1326,808.7 1327,806.9 1328,807.7 1328.5,807.6 1329.5,806.2 1330.5,804.4 1331,803.7 1332,803 1333,802 1333.5,801.9 1334.5,802.9 1335,802.2 1335.5,801.3 1336,800.9 1337,801.8 1338,802.4 1338.5,802.4 1339.5,800.7 1340,800.6 1341.5,800.5 1342,800.6 1342.5,801.3 1343,802.3 1343.5,803 1344.5,803.7 1345,794.2 1345.5,784.9 1346,782.1 1346.5,779.8 1346,790.3 1345.5,805.8 1345,818.1 1344.5,832.6 1344,842.2 1342.5,840.7 1342,840.5 1337.5,839.6 1332,840.5 1331.5,840.6 1326,842.5 1322,844.4 1321.5,844 1318.5,841 1318,840.5 1314.5,835.2 1314,834.1 1311.5,825.8 1311,824.5 1308.5,819.5 1308,818.9 1305.5,817.3 1305,817.8 1303,820.5 1302.5,821.1 1297,806.4ZM1421,769.4 1421.5,783.1 1422,791 1422.5,804.8 1423,804.2 1423.5,803.6 1424,803.2 1425,803.4 1425.5,802.8 1426.5,800.9 1427,800.4 1427.5,800.7 1428,801.3 1429,802.7 1430,804.1 1430.5,804.8 1431.5,805.9 1432.5,806.3 1433,807.1 1434,807 1435,803.9 1435.5,803.3 1436,803.7 1436.5,804.9 1437,804.5 1437.5,804 1438,803.6 1439,803.1 1439.5,803.6 1440,804.2 1440.5,805.3 1441.5,808.4 1442,809.1 1442.5,809.6 1443,810.2 1444,811.5 1444.5,811.6 1445,810 1445.5,808.8 1446.5,808 1447.5,805.8 1448,804.8 1449,803.7 1449.5,803.5 1450,803.8 1450.5,804.1 1451.5,803.7 1452,803.8 1453,804 1454,803 1454.5,802.8 1455.5,802.6 1456.5,802.5 1457,801.9 1458,800.2 1459,798.1 1459.5,798 1460,798.3 1460.5,798.5 1461.5,796.9 1462,796.8 1462.5,797.2 1463,797.4 1463.5,796.1 1464,794.9 1464.5,795.3 1465,796.5 1465.5,797.6 1466.5,797.4 1467,797.8 1467.5,798.6 1468,799.6 1469,799.5 1469.5,799.5 1470,794.9 1470.5,785.8 1471,778.5 1471.5,778.8 1472,779.2 1472.5,779.8 1473,776.1 1472,786.1 1471.5,793.5 1470.5,816.4 1470,830.3 1469.5,846.4 1469,850.8 1427,850.8 1426.5,850.5 1425,841.7 1424.5,838.1 1423.5,832.2 1423,823.8 1422,806 1421.5,789.6 1421,769.4ZM1505,778.8 1505.5,777.5 1506,777.5 1506.5,778.6 1505,778.8ZM1532,764 1532.5,762.8 1533,762.1 1533.5,762.8 1534,764.1 1532,764ZM1543,764.2 1543.5,762.9 1544,764.2 1543,764.2ZM1545,764.1 1545.5,761.8 1546,760.3 1546.5,759.6 1547,759 1547.5,758.7 1548,758.9 1548.5,759.6 1549,761.1 1549.5,762.5 1550,764 1549.5,764 1545,764.1ZM1555.5,764.2 1556,762.4 1556.5,761.4 1557,760.5 1557.5,759.7 1558.5,758.6 1559,757.8 1559.5,757 1560,756.1 1560.5,754.9 1561,754.3 1561.5,753.3 1562,752.2 1562.5,751.4 1563.5,752.3 1564,752.3 1564.5,751.8 1565,751.4 1565.5,751.9 1566,752.3 1566.5,753.4 1567.5,755.3 1568,756.1 1568.5,756.9 1569,757 1569.5,757.1 1570,757.3 1570.5,757.3 1571,756.8 1571.5,755.9 1572,754.8 1572.5,753.7 1573,752 1573.5,750.5 1574,749.6 1575,748.6 1575.5,748.5 1576,748.6 1576.5,748.6 1577.5,748.3 1578.5,746.9 1579,746.1 1579.5,755.4 1580,762 1581,761.2 1581.5,760.9 1582.5,760.4 1583,759.5 1583.5,758.9 1584,758.6 1584.5,758.6 1585,759.3 1585.5,760.2 1586,761 1587,763.1 1585.5,763 1585,763.1 1579.5,764.3 1569,764 1559.5,764.3 1559,764.3 1555.5,764.2ZM1604.5,764 1605,762.3 1605.5,761.8 1606,761.7 1606.5,761.6 1607,761 1607.5,760.7 1608,761.5 1608.5,762.9 1609,764 1604.5,764ZM1609.5,764 1610,762.4 1610.5,762.4 1611,764 1609.5,764ZM1623.5,762.9 1624,761.4 1624.5,760.6 1625,759.5 1625.5,758.5 1626.5,756 1627,754.5 1627.5,753.2 1628,752.4 1628.5,752.4 1629,755.7 1629.5,758.8 1630,762.1 1628.5,762 1628,762 1623.5,762.9ZM1636.5,762.4 1637,760.7 1637.5,759.2 1638,757.9 1638.5,757.5 1639,757.4 1640,758.7 1640.5,759.2 1641,759.2 1641.5,759.2 1642,759.9 1642.5,761 1643,762.3 1638,762.4 1636.5,762.4ZM1651,762.1 1651.5,760 1652,758.9 1653,757.4 1654,756.1 1654.5,756.9 1655.5,759.9 1656,760.1 1656.5,760.2 1657,761.1 1657.5,762.8 1653.5,762 1653,762 1651,762.1ZM1668.5,763.6 1669,762 1669.5,761.2 1670,760.4 1670.5,760.7 1671,761.6 1671.5,763.4 1668.5,763.6ZM1677.5,763.1 1678,762 1679,761.3 1679.5,761.1 1680.5,760.5 1681,760.4 1681.5,760.5 1682,762.1 1682.5,763.6 1677.5,763.1ZM1715.5,763.6 1716,762.4 1716.5,762.1 1717,763.6 1715.5,763.6ZM1737.5,763.2 1738,762.1 1738.5,761.1 1739,761 1739.5,761.3 1740,761.5 1740.5,761.7 1741.5,763.6 1737.5,763.2Z"/>
<path fill="#ffff33" d="M465,842.5 465.5,826.4 466,814.3 467,794.3 467.5,787.1 468.5,773.3 469,770.6 470.5,766.2 471,764.9 474,763.7 474.5,763.6 477,763.9 477.5,764.2 479,767.2 481.5,772.1 482,772.7 485,771.8 489,769.8 493.5,768.4 494,768.3 497.5,769.3 498,769.4 503.5,768.8 519,766.9 525,765.9 525.5,766.9 526,769 526.5,797.3 527,809.6 528,829.6 528.5,835 529,838.9 529.5,843.5 528.5,835.7 528,830.4 527,810.4 526.5,798.1 526,769.8 525.5,767.7 525,766.7 519.5,767.6 504,769.5 498,770.2 497.5,770.1 494,769 493.5,769.1 489.5,770.4 489,770.6 485.5,772.3 485,772.5 482,773.4 481.5,772.8 479.5,769 477.5,765 477,764.7 474.5,764.3 471,765.7 470.5,767 469,771.4 468.5,774.1 467.5,787.8 467,795.1 466,815.1 465.5,827.2 465,842.5ZM574.5,841.9 575,825.8 575.5,813.9 576.5,793.9 577,786.3 578,775.2 578.5,769.8 581,765.6 581.5,765 585,765.8 591,767.8 591.5,767.7 598.5,765.6 599,765.5 606.5,765.9 614,766.8 614.5,766.9 622,765.9 630,765.5 637.5,766.3 645.5,767.8 653,768.2 653.5,768.2 661,766.9 665.5,765.1 666,765 666.5,766.5 667,769.5 667.5,790.7 668,806.1 669,826.1 669.5,833.5 670,837.1 670.5,841.4 669.5,834.3 669,826.9 668,806.9 667.5,791.5 667,770.2 666.5,767.2 666,765.7 661.5,767.5 661,767.7 653.5,769 653,769 646,768.6 645.5,768.6 638,767.1 630.5,766.3 630,766.3 622.5,766.7 614.5,767.6 607,766.7 599,766.3 591.5,768.5 591,768.6 585.5,766.7 581.5,765.7 581,766.4 578.5,770.5 578,775.9 577,787 576.5,794.7 575.5,814.7 575,826.6 574.5,841.9ZM732,842.2 732.5,826.1 733,814.1 734,794.1 734.5,786.4 735.5,775.3 736,769.8 738.5,765.6 739,764.9 742.5,764 743,764 748.5,765.9 749,765.8 754.5,764.9 760,764.4 760.5,764.5 766,767.8 766.5,767.9 773.5,768.2 789,769.7 789.5,769.8 799,769.4 808.5,768.8 809,768.8 809.5,768.4 810,768.2 819,767.5 819.5,767.5 829,767.8 838.5,769.7 839,769.7 841.5,767.2 842,766.9 848.5,765.9 858,765.5 858.5,765.5 868,764 877.5,764.9 878,764.9 885.5,764.4 886,765.5 886.5,766.8 887,772.2 887.5,800.6 888,808.8 889,824.8 889.5,832.3 890.5,838.5 891,842.4 889.5,833.1 889,825.6 888,809.6 887.5,801.3 887,773 886.5,767.5 886,766.2 885.5,765.1 878,765.7 868.5,764.8 868,764.7 858.5,766.3 849,766.7 842,767.6 841.5,768 839,770.5 838.5,770.5 829.5,768.7 829,768.6 819.5,768.2 810,769 809.5,769.2 809,769.5 808.5,769.6 799.5,770.2 789.5,770.6 774,769 766.5,768.6 766,768.5 760.5,765.2 760,765.1 754.5,765.7 749,766.6 748.5,766.6 743,764.8 742.5,764.8 739,765.7 738.5,766.4 736,770.6 735.5,776.1 734.5,787.2 734,794.9 733,814.9 732.5,826.9 732,842.2ZM951.5,844.4 952,828.3 952.5,814.9 953.5,792 954,785.5 955.5,770.5 956,769 958,765.3 958.5,764.4 961,764.9 961.5,765 962,765.2 965,765.7 965.5,765.6 984.5,759.9 994,758 994.5,757.9 1002,755.1 1002.5,755.1 1010,756.9 1019.5,757.9 1020,757.8 1029,755.1 1029.5,755 1037,751.2 1045,748.2 1052.5,747.3 1053,747.3 1058.5,748.2 1059,757.5 1059.5,770 1060,779.3 1061.5,804.8 1062,808 1064,818.7 1064.5,821.1 1068,822.9 1068.5,822.9 1072,819.4 1072.5,818.7 1076,811.7 1076.5,811.2 1081.5,807.8 1082,807.5 1087.5,811.2 1088,811.5 1095.5,815.2 1096,814.9 1099,811.9 1099.5,811.4 1103,809.6 1103.5,809.6 1107,813.1 1107.5,813.5 1111,815.2 1111.5,814.7 1115,809.5 1118.5,806 1119,805.6 1122.5,807.4 1123,807.1 1128.5,796.1 1129,795.5 1140,786.4 1140.5,786 1151.5,778.7 1152,778.3 1156.5,778.3 1157,778.2 1158.5,776.5 1159,770.1 1159.5,762.6 1160,757.6 1160.5,755.1 1161,757.4 1161.5,763.5 1162,775.2 1162.5,786.3 1163.5,793.8 1164,794.9 1174,795.8 1174.5,795.7 1176.5,794.2 1177,791.6 1178,774.9 1178.5,769.1 1179,763.4 1179.5,761.5 1180.5,762.5 1181,764.5 1182.5,775 1183,779.2 1184.5,792.7 1185,794.6 1188.5,800.9 1189,801.8 1194.5,809.1 1195,814 1197.5,821.1 1201,826.4 1201.5,826.7 1204,821.7 1204.5,820.6 1207,813.9 1207.5,813.1 1215,805.6 1216.5,796.6 1217,793.3 1218.5,776.8 1219,771.9 1220.5,763.7 1221,761.7 1224.5,759.1 1225,758.8 1230.5,757.4 1236,758.4 1236.5,758.6 1240,762.5 1240.5,762.5 1243,759.2 1243.5,758.9 1246,758.5 1246.5,759.4 1248,762.7 1250.5,769.3 1251,770.6 1253.5,775.6 1254,776.6 1265.5,793.8 1269,798.2 1269.5,798.8 1273,801.4 1273.5,801.6 1277,799.8 1277.5,798.9 1280,791.4 1280.5,790.7 1283,789.1 1283.5,789.8 1286,793.9 1288.5,798.9 1289,799.8 1292.5,801.5 1293,801.9 1296.5,805.4 1297,806.4 1302.5,821.1 1305,817.8 1305.5,817.3 1308,818.9 1308.5,819.5 1311,824.5 1311.5,825.8 1314,834.1 1314.5,835.2 1318,840.5 1321.5,844 1322,844.4 1325.5,842.7 1326,842.5 1331.5,840.6 1337.5,839.6 1342,840.5 1342.5,840.7 1344,842.2 1344.5,832.6 1345,818.1 1345.5,805.8 1346,790.3 1346.5,779.8 1348,764.8 1348.5,762.2 1351,757.2 1351.5,756.9 1355,756 1358.5,758.6 1359,759 1362.5,762.5 1363,762.7 1366.5,761.9 1367,762 1372.5,764.7 1378,766.6 1378.5,766.6 1384,765.7 1389,764.7 1393.5,765.6 1394,765.7 1399.5,763.8 1400,763.8 1405.5,764.7 1406,765 1409,767.3 1409.5,767.6 1413,767.5 1420,766.9 1420.5,767.9 1421,769.4 1421.5,789.6 1422,806 1423,823.8 1423.5,832.2 1424.5,838.1 1425,841.7 1423.5,833 1423,824.6 1422,806.8 1421.5,790.4 1421,770.2 1420.5,768.7 1420,767.7 1413.5,768.2 1406,768.6 1405.5,768.6 1398,770.5 1397.5,770.5 1392,769.6 1389.5,767.1 1389,766.7 1384.5,768.5 1384,768.6 1374.5,769.6 1365,772.4 1364.5,772.4 1359,770.6 1358.5,770.2 1355.5,767.5 1355,767.1 1351.5,767.6 1351,767.8 1348.5,771.1 1348,773.5 1346.5,787.7 1346,796 1345,818.8 1344.5,833.4 1344,848.7 1343.5,850.8 1064.5,850.8 1064,848 1062,835.6 1061.5,832.1 1060,808.1 1059.5,799.5 1059,789 1058.5,781.2 1055,780.3 1043.5,776.5 1037.5,774.9 1037,774.9 1033.5,775.4 1033,775.9 1029.5,780.2 1029,780.2 1022,779.4 1021.5,779.2 1014,776.4 991,770.7 985,769.6 975,769 965.5,768.6 965,768.4 961.5,765.8 961,765.6 958.5,765.1 956,769.8 955.5,771.2 954,786.2 953.5,792.8 952.5,815.6 952,829.1 951.5,844.4ZM1469.5,846.4 1470,830.3 1470.5,816.4 1471.5,793.5 1472,786.1 1473.5,771.1 1474,769.3 1476.5,766 1477,766 1480,766.8 1480.5,767 1483,771.1 1487,778.1 1487.5,778.6 1495,779.9 1502.5,779.2 1510.5,778 1516,775.8 1516.5,775.4 1519,768.7 1519.5,767.7 1522,765.2 1522.5,764.9 1530,764 1539.5,764.3 1549.5,764 1559,764.3 1568.5,764 1569,764 1579,764.3 1579.5,764.3 1585,763.1 1585.5,763 1598.5,763.9 1618,764 1618.5,763.9 1628,762 1637.5,762.4 1638,762.4 1653,762 1653.5,762 1663,763.9 1676.5,763 1696,764.9 1705.5,764 1715.5,763.6 1725,763.9 1725.5,763.9 1735,763 1744.5,763.9 1745,764 1754,766.7 1754.5,766.9 1764,767.8 1764.5,767.8 1773.5,767.5 1774,767.5 1781.5,767.8 1782,769.4 1783.5,776.9 1784,777.9 1785.5,779.4 1786,779.5 1797,779.9 1797.5,779.7 1800,777.7 1800.5,773.4 1801,767.4 1801.5,765.7 1805,764 1812.5,764.9 1813,764.9 1832,764.4 1851.5,765.5 1871,764.4 1890.5,764.9 1910,766.9 1929,765.9 1937,765.9 1937.5,778.3 1937.5,779 1937,766.7 1929.5,766.7 1910.5,767.6 1910,767.6 1891,765.7 1871.5,765.1 1871,765.1 1852,766.3 1851.5,766.3 1832.5,765.1 1832,765.1 1813,765.7 1805.5,764.8 1805,764.7 1801.5,766.5 1801,768.2 1800.5,774.2 1800,778.5 1797.5,780.5 1797,780.7 1786,780.3 1785.5,780.2 1784,778.7 1783.5,777.7 1782,770.2 1781.5,768.6 1774,768.2 1764.5,768.6 1764,768.6 1754.5,767.6 1745,764.8 1744.5,764.7 1735.5,763.8 1735,763.8 1725.5,764.7 1725,764.7 1716,764.4 1715.5,764.3 1706,764.7 1696.5,765.7 1696,765.7 1677,763.8 1676.5,763.8 1663.5,764.7 1663,764.7 1653.5,762.8 1653,762.8 1638,763.2 1628.5,762.8 1628,762.8 1618.5,764.7 1599,764.7 1585.5,763.8 1585,763.8 1579.5,765.1 1569,764.7 1559.5,765.1 1559,765.1 1549.5,764.7 1540,765.1 1539.5,765.1 1530.5,764.7 1530,764.7 1522.5,765.7 1522,765.9 1519.5,768.4 1519,769.5 1516.5,776.2 1516,776.6 1511,778.6 1510.5,778.7 1503,779.9 1495.5,780.6 1495,780.7 1487.5,779.4 1487,778.9 1483.5,772.8 1480.5,767.7 1480,767.5 1477,766.8 1476.5,766.7 1474,770.1 1473.5,771.9 1472,786.9 1471.5,794.3 1470.5,817.1 1470,831.1 1469.5,846.4Z"/>
<path id="ice2" fill="#9a9a9a" d="M464.5,850.8 465,842.5 465.5,827.2 466,815.1 467,795.1 467.5,787.8 468.5,774.1 469,771.4 470.5,767 471,765.7 474,764.5 474.5,764.3 477,764.7 477.5,765 479,768 481.5,772.8 482,773.4 485,772.5 489,770.6 493.5,769.1 494,769 497.5,770.1 498,770.2 503.5,769.6 519,767.7 525,766.7 525.5,767.7 526,769.8 526.5,798.1 527,810.4 528,830.4 528.5,835.7 530,847.4 530.5,850.8 464.5,850.8ZM574,850.8 574.5,841.9 575,826.6 575.5,814.7 576.5,794.7 577,787 578,775.9 578.5,770.5 581,766.4 581.5,765.7 585,766.6 591,768.6 591.5,768.5 598.5,766.4 599,766.3 606.5,766.7 614,767.6 614.5,767.6 622,766.7 630,766.3 637.5,767 645.5,768.6 653,769 653.5,769 661,767.7 665.5,765.9 666,765.7 666.5,767.2 667,770.2 667.5,791.5 668,806.9 669,826.9 669.5,834.3 671.5,848.6 672,850.8 574,850.8ZM731.5,850.8 732,842.2 732.5,826.9 733,814.9 734,794.9 734.5,787.2 735.5,776.1 736,770.6 738.5,766.4 739,765.7 742.5,764.8 743,764.8 748.5,766.6 749,766.6 754.5,765.7 760,765.1 760.5,765.2 766,768.5 766.5,768.6 773.5,769 789,770.5 789.5,770.6 799,770.2 808.5,769.6 809,769.5 809.5,769.2 810,769 819,768.3 819.5,768.2 829,768.6 838.5,770.5 839,770.5 841.5,768 842,767.6 848.5,766.7 858,766.3 858.5,766.3 868,764.7 877.5,765.7 878,765.7 885.5,765.1 886,766.2 886.5,767.5 887,773 887.5,801.3 888,809.6 889,825.6 889.5,833.1 892,848.6 892.5,850.8 731.5,850.8ZM951,850.8 951.5,844.4 952,829.1 952.5,815.6 953.5,792.8 954,786.2 955.5,771.2 956,769.8 958,766 958.5,765.1 961,765.6 961.5,765.8 965,768.4 965.5,768.6 975,769 984.5,769.6 990.5,770.6 1013.5,776.3 1014,776.4 1021.5,779.2 1022,779.4 1029,780.2 1029.5,780.2 1033,775.9 1033.5,775.4 1037,774.9 1037.5,774.9 1043,776.4 1054.5,780.2 1058.5,781.2 1059,789 1059.5,799.5 1060,808.1 1061.5,832.1 1062,835.6 1064,848 1064.5,850.8 951,850.8ZM1343.5,850.8 1344,848.7 1344.5,833.4 1345,818.8 1346,796 1346.5,787.7 1348,773.5 1348.5,771.1 1351,767.8 1351.5,767.6 1355,767.1 1358.5,770.2 1359,770.6 1364.5,772.4 1365,772.4 1374,769.7 1374.5,769.6 1384,768.6 1384.5,768.5 1389,766.7 1389.5,767.1 1391.5,769.1 1392,769.6 1397.5,770.5 1398,770.5 1405.5,768.6 1413,768.2 1420,767.7 1420.5,768.7 1421,770.2 1421.5,790.4 1422,806.8 1423,824.6 1423.5,833 1426.5,850.5 1427,850.8 1343.5,850.8ZM1469,850.8 1469.5,846.4 1470,831.1 1470.5,817.1 1471.5,794.3 1472,786.9 1473.5,771.9 1474,770.1 1476.5,766.7 1477,766.8 1480,767.5 1480.5,767.7 1483,771.9 1487,778.9 1487.5,779.4 1495,780.7 1502.5,779.9 1510.5,778.7 1516,776.6 1516.5,776.2 1519,769.5 1519.5,768.4 1522,765.9 1522.5,765.7 1530,764.7 1539.5,765.1 1549.5,764.7 1559,765.1 1568.5,764.7 1569,764.7 1579,765.1 1579.5,765.1 1585,763.8 1585.5,763.8 1598.5,764.7 1618,764.7 1618.5,764.7 1628,762.8 1637.5,763.2 1638,763.2 1653,762.8 1653.5,762.8 1663,764.7 1676.5,763.8 1696,765.7 1705.5,764.8 1715.5,764.3 1725,764.7 1725.5,764.7 1735,763.8 1744.5,764.7 1745,764.8 1754,767.5 1754.5,767.6 1764,768.6 1764.5,768.6 1773.5,768.2 1774,768.2 1781.5,768.6 1782,770.2 1783.5,777.7 1784,778.7 1785.5,780.2 1786,780.3 1797,780.7 1797.5,780.5 1800,778.5 1800.5,774.2 1801,768.2 1801.5,766.5 1805,764.7 1812.5,765.7 1813,765.7 1832,765.1 1851.5,766.3 1871,765.1 1890.5,765.7 1910,767.6 1929,766.7 1937,766.7 1937.5,779 1937.5,850.8 1469,850.8Z"/>
<path fill="url(#st)" d="M472.4,850.8V766.6h3.2V850.8zM481,850.8V774.3h3.1V850.8zM496,850.8V771.6h3.1V850.8zM513.7,850.8V769.9h3.7V850.8zM526.5,850.8V837.2h2.2V850.8zM575.3,850.8V816.2h3.1V850.8zM585,850.8V769.2h3.4V850.8zM600.3,850.8V768h3.5V850.8zM611.5,850.8V769h1.8V850.8zM621.9,850.8V768.2h3.6V850.8zM636.1,850.8V769h3.7V850.8zM649.6,850.8V770.5h2.7V850.8zM667.3,850.8V835.8h2V850.8zM739.1,850.8V767.2h3.4V850.8zM752.7,850.8V767.5h4.3V850.8zM767,850.8V770.3h3.4V850.8zM784.9,850.8V772h3.6V850.8zM797.7,850.8V771.7h3.7V850.8zM813.1,850.8V770.2h4.2V850.8zM829.2,850.8V770.8h3.1V850.8zM848,850.8V768.3h3.1V850.8zM860.5,850.8V767.4h4.3V850.8zM880.2,850.8V767h2V850.8zM959.1,850.8V767.6h2.7V850.8zM968.4,850.8V770.4h2.9V850.8zM978.9,850.8V770.8h1.7V850.8zM989.9,850.8V772.4h2V850.8zM998.1,850.8V774.4h2V850.8zM1009.7,850.8V777.4h2.5V850.8zM1025.2,850.8V781.6h2.7V850.8zM1035.6,850.8V776.6h2.1V850.8zM1045.9,850.8V780h3.7V850.8zM1056.9,850.8V809.6h2.9V850.8zM1347.5,850.8V779.7h1.9V850.8zM1364.5,850.8V773.9h2.9V850.8zM1375.1,850.8V771h1.9V850.8zM1382.1,850.8V770.3h3.2V850.8zM1393.4,850.8V771.8h3.2V850.8zM1411.8,850.8V769.8h3V850.8zM1476.7,850.8V769h3.2V850.8zM1491.5,850.8V782.1h2.9V850.8zM1502.4,850.8V781.4h4.2V850.8zM1521.3,850.8V767.9h3.6V850.8zM1540.4,850.8V766.6h3.2V850.8zM1549.4,850.8V766.4h3.6V850.8zM1559.2,850.8V766.6h3.8V850.8zM1575.1,850.8V766.5h2.1V850.8zM1583.9,850.8V765.6h1.7V850.8zM1592.5,850.8V766.1h4.4V850.8zM1604.5,850.8V766.2h4.2V850.8zM1615.1,850.8V766.2h2.5V850.8zM1627.8,850.8V764.4h2.6V850.8zM1646,850.8V764.5h2.2V850.8zM1658.5,850.8V765.7h2.1V850.8zM1666.8,850.8V765.9h3.6V850.8zM1679.1,850.8V765.8h3V850.8zM1694.7,850.8V767.2h1.8V850.8zM1702.1,850.8V766.6h3.6V850.8zM1721.6,850.8V766.1h1.6V850.8zM1733.1,850.8V765.5h4.5V850.8zM1751.8,850.8V769.3h4.5V850.8zM1767,850.8V770h4.4V850.8zM1777.1,850.8V770h2.9V850.8zM1794.3,850.8V782.2h2.7V850.8zM1806.8,850.8V766.8h2.8V850.8zM1818.9,850.8V767h3.9V850.8zM1838.5,850.8V767.1h2.2V850.8zM1849.2,850.8V767.7h3.9V850.8zM1866.3,850.8V766.9h3.9V850.8zM1882.8,850.8V767.1h4.2V850.8zM1901.3,850.8V768.6h3.4V850.8zM1912.8,850.8V769h1.8V850.8zM1929.1,850.8V768.2h4.1V850.8z"/>
<path fill="#ff3030" d="M466.5,850.8 527,850.8 526.5,862 526,891.1 525.5,894.1 525,895.8 524,895.8 523.5,896.2 523,896.5 522.5,896.6 521.5,895.7 521,896 520.5,896.6 520,896.7 519,894.7 518,893.1 517.5,892.4 517,892.2 516.5,892.2 516,892.3 515.5,892.6 515,892.6 514.5,892 514,891.9 513.5,892.5 512.5,894.1 511.5,895.5 511,896 510.5,896.4 510,897 509,900.2 508.5,900.7 508,899.8 507.5,898.3 506.5,898.2 506,897.6 505.5,896.4 505,895.6 504,896.5 503.5,896.6 503,896.5 502.5,896.4 502,897.3 501.5,898.8 501,900.1 500,902.6 499.5,902.1 499,900.3 498.5,898.9 498,897.8 497.5,896.8 497,897.1 496.5,897.2 496,896.7 495,894.5 494.5,892.2 494,889.5 493.5,887 492.5,883.8 492,881.8 491.5,879.8 491,878 490.5,877.1 490,878.9 489.5,879.8 489,880.5 488.5,881.6 487.5,884.6 487,886.9 486.5,888.6 486,889.7 485,889.6 484.5,890.8 484,891.8 483.5,892.5 482.5,891.5 482,891.6 481.5,892.6 481,893.7 480,896.3 479.5,897.8 479,899.2 478.5,900.8 478,901.7 477.5,902.6 477,902.1 476.5,901.1 476,900.3 475,899.9 474.5,899.4 474,898.3 473.5,897.3 472.5,897.1 472,896.9 471.5,896.5 471,896.1 470.5,894 470,891.7 469.5,889.1 469,886.6 468.5,883.1 467.5,868.8 467,861.3 466.5,850.8ZM576.5,873.1 588.5,873.1 589,872.7 589.5,871.8 590,871 636,871 636.5,864.2 637,851.2 637.5,850.8 668.5,850.8 668,853.5 667.5,869 667,890.2 666.5,893.1 666,894.3 665.5,893.5 665,893.1 664.5,893.1 663.5,893.1 663,893.1 662.5,893.5 662,894.2 661.5,895 661,895.6 660.5,895.3 660,895.3 659.5,896.6 659,898.3 658.5,899.8 658,899.3 657.5,898 657,897.8 656.5,898.2 656,898.3 655.5,897.5 655,896.6 654.5,896.1 654,895.9 653.5,895.7 653,895.7 651.5,896.8 651,897.2 650.5,898.1 650,899.1 649.5,899.8 648.5,901.1 647.5,902.5 647,902.9 646.5,903.1 646,903.2 645.5,903.4 645,903.8 644.5,904.2 643.5,905.2 643,905.3 642.5,904.6 642,903.7 641,901.3 640.5,901.1 640,902 639.5,902.6 638.5,902.8 638,904.1 637.5,905.1 637,905.6 636,905.4 635.5,905.5 635,905.5 634.5,904.6 633.5,901.4 633,901.1 632.5,900.9 632,900.5 631,899.3 630.5,897.7 630,896.6 629.5,896.4 628.5,897.7 628,898 627.5,898.3 627,898.8 626,901 625.5,901.7 625,901.8 624.5,901.7 623.5,900.6 623,900.4 622.5,900.1 622,899.7 621,897.6 620.5,897.5 620,898.7 619.5,899.7 618.5,898.6 618,899 617.5,900.2 617,901.3 616,902.7 615.5,902.6 615,901.6 614.5,900.7 613.5,901 613,900.8 612,899.9 611,897.7 610.5,897.4 609.5,897.6 608.5,897.6 608,898.2 607,900.5 606,901.2 605.5,902.3 604.5,904.8 603.5,906.5 603,907.7 602,910.4 601.5,912.7 601,914.1 600.5,912.3 599.5,906.5 599,905.1 597.5,901.6 597,901.5 596.5,900.5 596,899.4 595.5,898.5 595,898.2 593,896 592.5,895.2 592,893.6 591,889.9 590.5,888.6 589.5,886.9 589,885.4 588.5,885.9 588,886.6 587,889.4 586.5,890.7 585.5,893.1 584.5,895.8 584,897 583.5,897.6 583,898.1 582,898.5 581.5,898.1 580.5,895 579.5,894.8 579,894.2 578.5,893.1 578,887.3 577,874.6 576.5,873.1ZM734,873.1 746.5,873.1 747,872.7 747.5,872.1 748,871.7 840,871.7 840.5,870.3 841,856.9 841.5,850.8 888.5,850.8 888,853.7 887.5,863.1 887,891.9 886.5,896.6 886,896.6 885.5,896.3 885,895.2 884.5,894.5 884,894 883.5,893.4 883,892.7 882.5,892.1 881.5,891.6 881,890.6 880.5,889.8 880,889.5 879,891.6 878.5,891.5 878,890.9 877.5,890.8 876.5,892.3 876,892 875.5,891.3 875,890.7 874.5,890.9 874,890.7 873.5,889.7 873,888.3 872.5,887.1 871.5,885.7 871,886.2 870.5,886.9 870,887.5 869,887.8 868.5,888.6 868,889.5 867.5,890.3 866.5,890.2 866,890.9 865.5,891.5 865,892 864,891 863.5,890.6 863,890.5 862.5,890 861.5,888.7 861,888.1 860.5,887.3 860,886 859,884.6 858.5,883.8 858,883.4 857.5,884.6 856.5,885.7 855.5,886.7 855,887.1 854.5,888.3 854,889.5 853.5,890.6 853,891.2 852.5,891.7 852,891.6 851.5,891.5 851,891.8 850.5,892.6 850,893.2 849.5,894 849,894.8 848.5,895.4 848,895.8 847.5,896.1 847,896.2 846.5,896.3 846,896.2 845,895.2 844,895.3 843.5,895.5 842.5,896.3 842,895.9 841.5,894.9 841,894 840,893.7 839.5,893.7 839,893.7 838.5,894.2 837.5,895.7 837,896.2 836.5,896.5 836,896.8 835,898.2 834.5,899 834,900.2 833.5,901.4 832.5,903.8 832,904.5 831.5,902.9 831,901.4 830,899.9 829.5,898.9 829,897.1 828.5,895.2 828,893.7 827.5,892.8 826,892.3 825.5,891.9 825,891.7 824.5,892.2 824,893.3 823.5,894.4 822.5,898.5 822,900.9 821.5,902.8 821,903.2 820.5,903.3 820,903.3 819.5,902.2 819,900.5 818.5,898.7 818,896.4 817.5,893.9 817,891.2 816,886.8 815.5,884.2 815,882.9 814.5,881.7 814,880.8 813.5,881.5 812.5,885.1 812,887 811.5,889.8 811,892.6 810.5,894.8 810,896.3 809.5,896.2 809,896.4 808.5,896.8 808,897.1 807.5,896.9 807,895.8 806,893.2 805,890.7 804.5,889.3 803.5,886.1 803,886.9 802.5,888.3 802,889.4 801.5,890 801,890.9 800.5,891.5 800,892.1 799.5,892.7 799,893.7 798.5,894.4 798,895.2 797,897.2 796.5,898.1 796,898.6 795.5,898.3 795,897.6 794.5,896.9 794,897.2 793.5,897.4 793,896.8 792.5,895.9 792,895 791,896.2 790.5,896.3 790,895.9 789.5,895.3 788.5,894 788,893.8 787,894.1 786.5,893.6 786,893.2 785.5,893.2 784.5,893.8 784,892.9 783.5,892 783,891.6 782.5,892.1 782,892.8 781.5,892.3 781,891.8 780.5,891.4 780,891.5 779.5,891.7 779,892 778.5,892.4 778,893.3 777.5,894.9 777,896.3 776.5,895.9 776,895.3 775.5,895 774.5,896 774,895.5 773,893.6 772,891.5 771.5,890.3 770.5,887.6 769.5,884.6 769,883.5 768.5,882.4 768,881.2 767.5,879.8 767,880 766.5,880.9 766,882.2 765.5,884.9 764.5,892.5 764,895.5 763.5,896.5 763,897.6 762.5,899.3 762,900.2 761.5,899.5 760.5,897.7 760,896.6 759.5,895.3 759,893.4 758,889.2 757.5,887.2 757,886.5 756.5,886.9 755.5,888.5 755,889 754.5,889.7 754,890 753,889.8 752.5,890.3 752,890.4 751.5,891 750.5,893.2 750,893 749.5,891.8 749,890.2 748.5,888.2 748,887 747.5,887.8 747,888.6 746.5,889.5 746,891.1 745.5,892.7 744.5,895.8 744,897.3 743.5,898.1 743,898.8 742.5,899.5 742,900 741.5,900.7 740.5,901.5 739.5,901.8 739,901.5 738.5,899.2 738,896.8 737.5,895.8 737,895.3 736.5,894.5 736,893.1 735.5,887.1 735,881.2 734.5,875.4 734,873.1ZM954.5,873.1 1043,873.1 1043.5,872.6 1044,872 1044.5,871.7 1060,871.7 1059.5,878.9 1059,890.8 1058.5,898.5 1058,896.8 1057.5,895 1057,892.6 1056.5,891.5 1056,892 1055.5,892.9 1055,893.8 1054,899.5 1053.5,901.9 1053,904 1052.5,906 1051.5,908.7 1051,910.5 1050.5,911.1 1049,908.8 1048.5,907.9 1048,906.8 1047.5,905.7 1046.5,906 1046,904.9 1045.5,902.9 1045,901.3 1044,900.2 1043.5,900 1042.5,900.4 1042,900.5 1041.5,901 1041,901.2 1040,901.2 1039,902 1038.5,902.4 1037.5,902.7 1037,901.9 1036.5,901.1 1036,900.4 1035,899.7 1034,898.5 1033.5,897.9 1032.5,896.9 1031.5,895.6 1031,895.5 1030,896.7 1029,896.6 1028,896.3 1027.5,896.3 1026.5,897 1026,897.1 1025,896.7 1024,896.5 1023.5,896.2 1022.5,896.4 1022,896.1 1021,895.4 1020.5,895.2 1019.5,894.9 1019,894.9 1018.5,895 1017.5,896.5 1017,896.7 1016.5,896.7 1016,896.8 1015,897 1014.5,897.1 1014,897.4 1013.5,897.7 1012.5,898.7 1012,899.4 1011,901.3 1010.5,902 1010,902 1009.5,901.7 1008.5,900.5 1008,900 1007.5,899.3 1007,898.3 1006,895.7 1005.5,894.8 1004.5,893.6 1003.5,892.5 1003,893.9 1002.5,895.5 1002,896.5 1001,896.9 1000.5,898 1000,899.2 999.5,900.2 999,900.9 998.5,901.6 997.5,901.9 997,901.5 996.5,899.8 996,897.6 995.5,896.8 995,896.1 994.5,894.9 994,893.3 993.5,892 993,890.8 992.5,889.8 992,889.2 991.5,890.4 991,892.2 990.5,893 989.5,894.1 988.5,895.4 988,896.3 987.5,897.2 987,898.1 986.5,897.8 985.5,897.1 985,896.7 984.5,896.5 984,896.9 983.5,896.8 983,895.7 982.5,894.1 982,892.9 981,892.4 980.5,892.3 979.5,891.7 978.5,890.9 978,891 977.5,891.6 977,892.2 976,890.4 975.5,890.6 975,891.6 974.5,892.6 973.5,893 973,893 972,892.9 971.5,892 971,890.8 970.5,890 969.5,888.8 969,888.3 968.5,887.8 968,887.6 967,887.4 966,886.7 965.5,886.4 965,886.4 964.5,886.4 963.5,887.5 963,888 962.5,888.4 961.5,889.5 961,890 960.5,890.1 960,890 959.5,889.7 959,890.4 958.5,891.3 958,890.7 957,888 956.5,887.8 956,887.4 955.5,886 955,879.8 954.5,873.1ZM1130.5,850.8 1170.5,850.8 1170,851.9 1169.5,852.3 1168.5,852.1 1168,852.9 1167.5,854 1167,854.8 1166.5,854.9 1166,855.2 1165.5,855.7 1165,856.3 1164.5,856.8 1164,857 1163.5,858.2 1162.5,866.6 1162,878.1 1161.5,889.6 1161,895.4 1160.5,898.2 1160,896.5 1159.5,892.1 1159,883.5 1158.5,876 1158,874.6 1157.5,873.2 1157,871.6 1156.5,869.6 1156,868.7 1155.5,868.1 1155,867.5 1154.5,867.1 1153.5,868.9 1153,869.2 1152.5,869.3 1152,869.7 1151,869.9 1150.5,869.9 1149.5,869.5 1149,869 1148.5,868.7 1148,868.5 1147,868.3 1146,867.7 1145.5,867.6 1144.5,867.1 1143,866 1142,865.2 1141.5,864.3 1141,863.3 1140.5,862.8 1139.5,863.4 1139,862.5 1138.5,861.4 1138,860.5 1137,859.1 1136.5,859 1136,859 1135.5,859 1135,859.3 1134.5,859.5 1134,859.3 1133.5,859.1 1133,858.5 1132.5,857.4 1132,856 1131.5,854.3 1131,852.8 1130.5,850.8ZM1172,850.8 1187,850.8 1187.5,853.4 1187,855.4 1186,856.9 1185.5,858 1185,859.7 1184.5,862.8 1183.5,874.7 1183,879.5 1182.5,883.1 1181.5,889.2 1181,892.3 1180.5,893.2 1180,892.3 1179.5,891.8 1179,889.5 1178.5,883.5 1178,876 1177.5,866.4 1177,857.6 1176.5,855.2 1176,855 1175.5,854.4 1175,853.7 1174.5,853.1 1174,852.9 1173.5,853.2 1173,852.7 1172.5,852.1 1172,850.8ZM1217,868.6 1248,868.6 1248.5,867.4 1249,856 1249.5,850.8 1294.5,850.8 1294,851.8 1293,852.3 1292.5,852.5 1292,852.6 1291.5,852.7 1291,852.9 1290.5,853.2 1289.5,854.6 1289,855.2 1288.5,856.4 1288,857.7 1287.5,858.1 1287,858.5 1286.5,858.9 1286,859.6 1285.5,860.2 1284.5,861.8 1284,862.5 1283.5,863.2 1283,864 1282.5,863.5 1282,862.9 1281.5,862.7 1280.5,863.4 1280,863 1279.5,861.7 1279,860.2 1278,855.9 1277.5,854.5 1277,853.9 1276.5,854.2 1276,855.2 1275.5,856.2 1275,855.8 1274.5,855.2 1274,854.6 1273.5,854.3 1273,854.5 1272.5,855.4 1272,856.1 1271.5,856.6 1270.5,856 1270,855.9 1269.5,855.6 1269,855.5 1268,855.4 1267.5,855.9 1267,857.7 1266.5,859.5 1265.5,862.3 1265,864.3 1264.5,866.5 1264,868.2 1263,869.5 1262.5,871.1 1262,873.2 1261.5,875.3 1260.5,877.6 1260,878.4 1259.5,879 1259,879.8 1258.5,881.5 1258,882.3 1257.5,882.7 1256.5,882.9 1256,883 1255.5,883.1 1255,882.2 1254,880 1252.5,877.2 1251.5,875.2 1251,876.2 1250,881.1 1249.5,883.4 1249,887.2 1248.5,890.2 1248,893.2 1247.5,895.8 1247,898.3 1246.5,900 1246,902.2 1245.5,903.6 1245,904.8 1244.5,905.2 1244,903.6 1243.5,902.4 1243,901.1 1242.5,899.4 1242,897.5 1241.5,895.7 1240.5,893.1 1240,892.8 1239,894.6 1238.5,894.6 1238,895.2 1237.5,896 1236.5,898.9 1236,899.9 1235.5,900.7 1235,900.6 1234,898.1 1233.5,897.7 1233,897.5 1232.5,897.3 1231.5,897.3 1231,897.1 1230.5,896.9 1230,896.5 1229,896.8 1228.5,896.5 1228,895.9 1227.5,895.3 1226.5,892.5 1226,892.1 1225.5,892.3 1225,892.4 1224.5,891.2 1224,889.8 1223.5,888.5 1223,888.3 1222.5,888.6 1222,889.7 1221.5,890.8 1221,894 1220.5,895.8 1220,896.9 1219.5,895.5 1219,891.7 1218.5,885.7 1218,878.8 1217.5,871.7 1217,868.6ZM1346,873.5 1421.5,873.5 1421,887.8 1420.5,890 1420,891.3 1419,890.8 1418,890.4 1417.5,890.1 1416.5,888.5 1416,887.7 1415,886.3 1414,884.7 1413.5,884 1412.5,884.6 1411.5,885 1411,885.5 1410.5,886.1 1410,887.2 1409.5,888.3 1409,889.7 1408.5,891.3 1407.5,894.6 1407,895.6 1406.5,896.5 1406,897.3 1405.5,897.9 1405,898.2 1404.5,897.7 1404,896.5 1403.5,895.6 1402.5,894.6 1401.5,894.5 1401,894.1 1400,892.8 1399.5,892.6 1399,892.3 1398.5,892.1 1398,891.9 1397.5,892.1 1396.5,893.4 1396,894.5 1395.5,896 1395,897.7 1394.5,898.2 1394,898.6 1393.5,899.6 1393,901.1 1392.5,901.3 1392,901.2 1391.5,901.2 1391,901 1390.5,900.4 1390,898.7 1389.5,895.3 1389,891.8 1388.5,888.7 1387.5,885.7 1387,882.8 1386.5,880.6 1386,880.4 1385,881.4 1384.5,884.6 1384,888.6 1383.5,892.4 1383,895.7 1382.5,897.8 1382,899.9 1381.5,901.9 1381,903.7 1380.5,903.8 1380,900.9 1379.5,899.1 1379,897.7 1378.5,895.9 1378,893 1377.5,890.8 1377,889.8 1376.5,889.3 1376,888.9 1375.5,889.4 1375,890.7 1374.5,891 1374,890.9 1373.5,891 1372.5,894 1372,895 1371.5,895.4 1371,895.7 1370,895.7 1369,895.7 1368.5,895.8 1367.5,896.7 1367,896.8 1366.5,896.5 1366,895.9 1365,895.2 1364.5,895.4 1363.5,896.2 1363,895.5 1362.5,895 1362,895.3 1361.5,896.1 1361,896.7 1360,896.3 1359.5,896.7 1359,897.7 1358.5,898.6 1357.5,897.8 1357,898.4 1356,901 1355.5,901.3 1355,901.4 1354.5,901.3 1353,902.5 1352.5,902.9 1352,903.2 1351.5,903.2 1351,903 1350.5,902.7 1350,902 1349.5,900.8 1348.5,897.5 1348,894.6 1347.5,889.5 1347,883.8 1346.5,877.3 1346,873.5ZM1472.5,872.4 1483,872.4 1483.5,872 1484.5,869.6 1485,868.6 1486.5,868.6 1486,870.7 1485.5,872.1 1484.5,872 1484,872.6 1483,878 1482,882.8 1481.5,885.1 1481,887.3 1480.5,889.6 1480,891.7 1479,895.7 1478.5,896.2 1478,896.5 1477.5,895.1 1477,893.4 1476.5,892.6 1476,891.9 1475.5,891.1 1475,888.4 1474.5,886 1474,884.3 1473.5,882.1 1473,876.7 1472.5,872.4ZM1487,868.6 1505,868.6 1504.5,872.1 1503,878.8 1502.5,880.1 1502,880.8 1501,881.5 1500.5,881.7 1500,880.6 1499.5,879.2 1499,878.5 1498.5,877.8 1498,877.2 1497,876.1 1496.5,875.9 1495.5,875.7 1495,875.6 1494.5,875.5 1493.5,875.3 1493,875 1492,873.8 1491.5,873.8 1491,874.1 1490.5,874.2 1489.5,873.5 1488.5,872.6 1488,871.8 1487.5,870.1 1487,868.6ZM1508.5,868.6 1531.5,868.6 1531,871.5 1530.5,874.1 1530,876.5 1529.5,879.4 1528.5,886.8 1528,889.7 1527.5,890.6 1527,889 1526,884.7 1525.5,883.3 1524.5,881.1 1523.5,878.7 1523,878.6 1522.5,878.5 1522,878.2 1521,876.8 1520.5,877 1520,877.6 1519.5,878.1 1519,877.9 1518.5,877.4 1518,876.5 1517.5,875.4 1517,874.2 1516.5,872.5 1516,871.7 1515.5,871.4 1515,871.4 1514.5,871.4 1514,871.7 1513.5,871.9 1513,872.3 1512.5,872.8 1512,873.2 1511,872 1510.5,872.2 1510,872.9 1509.5,872.8 1509,871 1508.5,868.6ZM1534,868.6 1543,868.6 1542.5,869.8 1542,870.4 1541.5,870.3 1541,870.1 1540,871.4 1539.5,872.2 1538.5,874.3 1538,874.1 1537.5,873.1 1537,872.3 1536,871.3 1535.5,871.4 1535,870.9 1534.5,870 1534,868.6ZM1550,868.6 1555,868.6 1554.5,870.3 1554,870.9 1553.5,871.6 1552.5,874.6 1552,875.5 1551,871.8 1550.5,870.1 1550,868.6ZM1587,850.8 1604,850.8 1603.5,851.9 1603,852.8 1602.5,853.6 1601.5,854.2 1600.5,855.3 1600,855.7 1599,855.1 1598.5,855.2 1598,855.4 1597.5,855.9 1596.5,858.2 1596,858.4 1595.5,858.3 1595,858.3 1594,858.8 1593.5,858.6 1593,858.4 1592.5,858 1591.5,856.6 1591,856.4 1590.5,856.4 1590,856.6 1589.5,857.2 1589,857.7 1588.5,856.4 1587.5,852.7 1587,850.8ZM1612,850.8 1622.5,850.8 1622,851.8 1621.5,852.6 1620.5,856.1 1620,857.3 1619.5,858.2 1619,858.1 1618.5,857.8 1618,857.6 1617,857.2 1616.5,856.4 1615.5,855.5 1615,855.5 1614,856.4 1613.5,855.1 1613,853.6 1612.5,852.4 1612,850.8ZM1630,850.8 1635.5,850.8 1635,852.3 1634.5,853 1634,853.9 1633.5,854.7 1633,855.4 1632.5,855.9 1632,856.3 1631.5,856.4 1630.5,852.5 1630,850.8ZM1644,850.8 1649,850.8 1648.5,852 1648,852.4 1647.5,852.3 1647,852 1646.5,852.1 1645.5,853.4 1645,852.8 1644.5,852.2 1644,850.8ZM1649.5,850.8 1651,850.8 1650.5,851.8 1650,851.7 1649.5,850.8ZM1657.5,850.8 1668,850.8 1667.5,852.3 1667,854.2 1666.5,855.6 1666,856.9 1665.5,858.2 1665,860 1664.5,860.6 1664,860.3 1663.5,859.7 1663,859.4 1662.5,859.9 1662,859.4 1661.5,858.8 1661,858 1660.5,857.2 1659.5,854.6 1659,853.8 1658.5,853.6 1658,853.1 1657.5,850.8ZM1674.5,850.8 1677,850.8 1676.5,851.7 1676,853.2 1675.5,853.5 1675,852.5 1674.5,850.8ZM1683,850.8 1706.5,850.8 1706,852.2 1705.5,852.4 1705,852.3 1704.5,852.8 1704,854.4 1703.5,856.5 1703,857.4 1702.5,858 1702,858.5 1701.5,859.4 1701,859.3 1700.5,859.6 1699.5,860.4 1698.5,861.1 1698,861.8 1697.5,862.2 1697,862.2 1696.5,861.7 1696,861.2 1695.5,860.3 1695,859.2 1694.5,858.2 1694,858.3 1693.5,858.3 1693,858.4 1692.5,858.6 1692,858.6 1691,855.9 1690.5,855.4 1689.5,856.2 1688.5,857.6 1688,857.4 1687,855.1 1686.5,855.1 1686,855 1685.5,855.1 1684.5,855.7 1684,854.3 1683.5,852.3 1683,850.8ZM1706.5,850.8 1715.5,850.8 1715,852.1 1714.5,853.2 1713.5,855.4 1712.5,858.2 1712,859.2 1711.5,858.6 1711,857.4 1710,854.9 1709.5,853.9 1708.5,853.2 1707.5,852.3 1707,851.8 1706.5,850.8ZM1718.5,850.8 1737.5,850.8 1737,852.3 1736,853.5 1735,854.8 1734.5,854.6 1734,854 1733.5,853.7 1732.5,855.5 1732,856.2 1731.5,856.3 1731,856.3 1729,855.2 1727.5,855.4 1727,855.7 1726,856.6 1725.5,856.8 1725,857 1724.5,856.9 1723.5,856.2 1723,857 1722.5,857.3 1722,856.5 1721,852.9 1720,853.9 1719.5,853.6 1719,852.3 1718.5,850.8ZM1741.5,850.8 1783.5,850.8 1783,852.9 1782.5,854.2 1782,855.5 1781,857.2 1780.5,858.1 1780,858.7 1779.5,859.1 1779,859.6 1778.5,860.6 1777.5,862.7 1777,863.3 1776.5,863.9 1776,864.3 1775.5,864.6 1775,865.2 1774.5,866.7 1774,867.6 1773.5,867.3 1773,866.6 1772.5,865.8 1771.5,863.5 1771,863 1770.5,862.7 1770,862.6 1769,863 1768.5,862.7 1768,862.1 1767.5,861.6 1766.5,860.4 1766,860.3 1765.5,860.5 1765,860.6 1764.5,860.1 1764,859.6 1763.5,860 1763,860.8 1762.5,861.6 1761.5,860.9 1761,861.2 1760.5,862.1 1760,863.3 1759,863.7 1758.5,864.4 1757.5,866.6 1757,866.8 1756.5,866.6 1756,866.2 1755,864.5 1754.5,863.8 1754,863.1 1753.5,862.6 1752.5,861.7 1751.5,861.1 1751,860.8 1750,860.3 1749.5,861.2 1749,862.3 1748.5,862.7 1748,862.2 1747.5,861.5 1747,861.1 1746.5,860.8 1746,860.4 1745.5,859.6 1745,858.7 1743.5,856.2 1743,855.5 1742.5,854.8 1742,853.3 1741.5,850.8ZM1786,850.8 1790.5,850.8 1790,851.9 1789,853.8 1788.5,853.6 1788,853.2 1787.5,852.9 1787,852.6 1786.5,851.8 1786,850.8ZM1791.5,850.8 1937.5,850.8 1937.5,883.5 1937,895.6 1936.5,895.2 1936,894.8 1935,893.9 1934.5,894.1 1934,894.4 1933.5,894.5 1932.5,894.5 1931.5,893.6 1931,893.2 1930,891.4 1929.5,891.4 1929,891.5 1928.5,891.8 1928,892.4 1927.5,893.3 1927,893.8 1926,894.4 1925,895 1924.5,894.7 1924,894.2 1923.5,894.1 1922.5,895.1 1922,896.1 1921.5,897.3 1921,898.2 1920.5,898.5 1920,898 1919.5,897.4 1919,896.7 1918.5,895.9 1918,894.6 1917.5,892.9 1917,891.9 1916.5,891.2 1916,890.4 1915.5,889.3 1915,888.6 1914.5,887.6 1914,886.6 1913.5,885.7 1913,885.9 1912.5,886.6 1912,886.6 1911.5,886.4 1911,886.2 1910.5,887.7 1910,889.2 1909.5,891.3 1909,893.6 1908.5,895.7 1907.5,894.1 1907,894.1 1906,895 1905,897.3 1904.5,897.5 1903.5,896.4 1902.5,894.7 1902,894.4 1901,894.9 1900,895.3 1899.5,895.1 1898.5,893.4 1898,893.8 1897.5,894.4 1897,894.6 1896,894.4 1895,894.3 1894.5,894.1 1893.5,893.1 1893,892.2 1892.5,891.3 1892,890.6 1891,890.5 1890.5,890 1890,889.4 1889.5,889.1 1888.5,889.4 1887.5,889.3 1887,889.4 1886,889 1885.5,889.1 1885,889.3 1884.5,889.5 1884,889.3 1883.5,889 1883,888.9 1882,889 1881.5,889.1 1881,888.8 1880.5,887.2 1880,885.3 1879.5,883.6 1879,882.9 1878.5,882.4 1878,882.3 1877.5,882.2 1877,882 1876.5,881.3 1876,881.2 1875.5,881.2 1875,881.2 1874.5,881 1873.5,879.5 1873,879.7 1872,881.1 1871,882.6 1870.5,883.6 1870,884.6 1869.5,885.5 1867.5,886.3 1867,886.1 1866,885.7 1865.5,885.5 1864.5,885.4 1864,884.9 1863.5,884.2 1863,883.9 1862,884.4 1861.5,883.3 1861,882.4 1860.5,881.9 1859.5,881.4 1859,881.4 1858.5,881.4 1858,881.7 1857,883.5 1856.5,883.7 1856,883.7 1855.5,883.7 1854.5,883.5 1854,883.9 1853.5,884.3 1853,884.8 1852,886.1 1851,886.9 1850.5,886.9 1849.5,885.3 1849,885.6 1848.5,886.3 1848,886.8 1847.5,886.8 1847,886.3 1846.5,885.9 1846,885.8 1845.5,885.7 1845,885.3 1844.5,884.6 1844,883.2 1843,880 1842.5,878.5 1842,877.7 1841.5,877.5 1841,877.4 1840.5,877.1 1840,875.7 1839.5,875.3 1839,876.1 1838.5,877.6 1838,879 1837.5,879.2 1837,879.8 1836.5,880 1836,880.2 1835.5,880.4 1834.5,883.8 1834,884.5 1833,885.4 1832,885.3 1831.5,885 1831,882.9 1830.5,880.6 1829.5,877.6 1829,876 1828,871.4 1827.5,869.8 1827,869.2 1826.5,869.4 1825.5,869.2 1825,870.1 1823.5,873.8 1823,875 1822,877.2 1821.5,877.9 1821,877.9 1820.5,877.8 1819.5,875.6 1819,874.2 1818.5,872.4 1818,870.8 1817.5,870.1 1817,869.4 1816.5,868.7 1816,868.7 1815.5,869.8 1815,871.2 1814.5,872.8 1814,875.2 1813,879.7 1812.5,882.2 1812,884.6 1811.5,887.2 1811,890.6 1810.5,891.2 1810,889.1 1809.5,886.5 1809,884.2 1808.5,883.3 1808,882.9 1807.5,881.2 1807,879 1806.5,877.1 1806,876.9 1805.5,877.3 1805,876.7 1804.5,875.4 1804,874.3 1803,875.3 1802.5,874.7 1802,873.4 1801.5,872.3 1801,871.1 1800.5,865.5 1800,860.9 1799.5,859.3 1799,857.6 1798,855.2 1797.5,854.3 1797,853.9 1796.5,853.7 1795.5,852.3 1795,852 1794,852.3 1793.5,852.5 1793,852.9 1792.5,852.8 1792,852.2 1791.5,850.8Z"/>
<path fill="#73b8ff" d="M574,850.8 637.5,850.8 637,851.2 636.5,864.2 636,871 590,871 589.5,871.8 589,872.7 588.5,873.1 575.5,873.1 575,867 574.5,858.8 574,850.8ZM731.5,850.8 841.5,850.8 841,856.9 840.5,870.3 840,871.7 748,871.7 747.5,872.1 747,872.7 746.5,873.1 733,873.1 732.5,869.5 732,859.9 731.5,850.8ZM951,850.8 1063,850.8 1062.5,851.2 1062,861.9 1061.5,871.7 1044.5,871.7 1044,872 1043.5,872.6 1043,873.1 952.5,873.1 952,865.6 951.5,857.5 951,850.8ZM1187,850.8 1249.5,850.8 1249,856 1248.5,867.4 1248,868.6 1188.5,868.6 1188,862.5 1187.5,853.4 1187,850.8ZM1344.5,850.8 1422.5,850.8 1422,865 1421.5,873.5 1346,873.5 1345.5,870 1345,860.3 1344.5,850.8ZM1469.5,850.8 1580,850.8 1579.5,858.4 1579,868.6 1485,868.6 1484.5,869.6 1483.5,872 1483,872.4 1471,872.4 1470.5,864.8 1470,855.6 1469.5,850.8Z"/>
<polyline fill="none" stroke="#050505" stroke-width="2.75" stroke-linejoin="round" points="429.5,805.8 431.7,805.1 434.1,808.8 435.9,811.3 438.4,810.6 440.2,808.2 443.2,806.4 445,809.4 446.9,812.5 448.7,813.7 450.5,811.3 452.3,807 454.2,806.4 456,810 457.8,812.5 460.2,811.3 462.7,808.2 464.5,807 466.9,807 469.3,807.6 471.8,810 474.8,812.5 478.4,814.9 481.5,813.7 484.5,811.3 486.9,807.6 488.8,802.7 490.6,799.7 492.4,803.9 494.2,808.8 496.7,813.7 499.7,818 502.1,814.9 505.2,813.7 508.2,816.1 511.2,813.7 514.3,810 517.3,810 520.4,811.3 523.4,811.3 527,810 530.7,810 533.7,813.7 535.5,817.4 538,817.4 540.4,812.5 542.2,810.6 544.6,811.3 547.1,812.5 549.5,814.9 551.9,817.4 554.4,813.7 556.8,806.4 558.6,805.1 560.4,808.8 562.3,812.5 564.7,813.7 566.5,810 568.9,807.6 570.8,807 573.2,808.2 575.6,809.4 578.7,810.6 581.7,811.3 584.1,810.6 586.5,807.6 589,804.5 590.8,807.6 592.6,811.9 595.1,814.3 597.5,816.1 599.3,819.8 601.1,824.7 603.6,820.4 606,816.7 608.4,814.9 610.8,813.7 613.3,816.1 615.7,818 618.1,815.5 620.6,813.7 623,814.9 625.4,815.5 627.8,814.3 630.3,813.1 632.7,816.1 635.1,818.6 638.2,819.2 640.6,817.4 643,819.8 646.1,819.8 648.5,817.4 650.9,814.3 653.4,813.1 655.8,814.3 658.2,814.9 660.6,811.3 663.1,809.4 665.5,808.8 667.9,809.4 671.6,810 673.5,810.3 677.1,809.8 680.8,809.1 683.2,808.8 685.6,812.5 688.7,816.7 691.7,815.5 695.4,814.3 699,813.7 702.7,813.1 706.3,811.3 709.9,808.8 712.4,808.8 715.4,811.3 718.4,814.9 720.9,816.7 723.9,812.5 726.9,809.4 730,808.8 733,809.4 736.1,811.3 739.1,813.7 741.5,813.1 743.9,810.6 746.4,806.4 748.2,804.5 750,806.4 752.5,805.8 754.9,803.9 757.3,802.7 759.7,807.6 762.2,811.3 764,808.8 765.8,802.7 767.6,800.9 769.5,803.9 771.9,808.8 774.3,811.9 777.4,811.9 780.4,810.6 782.8,810.6 786.5,811.9 790.1,813.7 793.7,814.9 796.8,814.9 799.2,812.5 801.6,808.8 803.5,807 805.3,809.4 807.7,812.5 810.1,811.9 812,806.4 813.8,802.7 815.6,805.1 817.4,811.3 819.9,816.7 821.7,817.4 823.5,812.5 825.9,810.6 827.8,811.9 829.6,816.1 832,819.2 834.4,816.1 837.5,813.7 841.1,811.9 844.8,811.3 847.8,809.4 850.2,808.2 853.3,805.1 855.7,802.1 858.1,799 860.6,802.1 863,803.3 866,803.9 869.1,802.1 871.5,801.5 874.5,803.9 877.6,805.1 881.2,805.1 884.2,807.6 887.3,811.3 889.7,806.4 892.1,800.3 895.8,797.8 900.6,797.2 905.5,798.4 909.1,797.8 912.8,797.2 914.7,797.8 918.4,800.3 922,802.7 925.6,805.1 928.7,807.6 931.1,808.2 933.5,805.1 936,802.7 938.4,805.1 940.2,808.2 942,806.4 943.9,800.3 946.3,796 948.7,795.4 951.1,797.2 953.6,802.1 956.6,803.9 959.7,803.9 962.7,802.1 965.7,800.9 968.8,802.1 971.8,803.9 974.8,803.3 977.9,802.7 980.9,803.3 983.9,805.1 987,805.1 989.4,802.1 991.8,799.7 994.3,801.5 996.7,805.1 998.5,805.8 1000.9,802.7 1003.4,800.3 1005.8,801.5 1008.2,804.5 1010.7,806.4 1013.7,804.5 1016.7,803.3 1020.4,802.7 1024,802.7 1027.7,800.9 1031.3,800.3 1035,800.9 1038.6,801.5 1042.2,799.7 1045.3,800.9 1048.3,803.9 1050.7,805.8 1053.2,799 1055,794.2 1056.8,792.9 1058.6,796.6 1060.5,800.9 1062.9,803.9 1065.3,805.1 1068.4,803.3 1071.4,801.5 1074.4,797.8 1077.5,793.6 1079.9,790.5 1082.3,789.9 1084.8,791.7 1087.2,793.6 1090.2,792.9 1093.3,793.6 1096.3,795.4 1099.3,791.7 1101.8,788.7 1104.2,787.4 1106.6,789.3 1109.1,791.7 1112.1,793.6 1115.1,792.9 1118.8,794.2 1122.4,795.4 1124.8,792.9 1127.3,790.5 1129.7,792.9 1132.1,797.2 1134.6,799 1138.2,797.8 1141.8,799 1145.5,799.7 1149.1,797.8 1152.8,796.6 1156.4,797.2 1159.6,802.1 1163.2,800.9 1166.9,798.4 1170.5,797.2 1174.1,797.8 1177.8,800.3 1180.8,805.1 1183.2,806.4 1185.7,802.7 1188.7,802.1 1191.8,803.9 1194.8,800.9 1197.2,799 1199.6,800.9 1202.1,805.1 1205.1,807 1208.1,805.1 1210.6,800.9 1213,800.9 1215.4,803.9 1217.9,807.6 1219.7,809.4 1221.5,802.7 1223.3,800.3 1225.8,801.5 1228.8,803.3 1232.4,805.1 1235.5,806.4 1238.5,805.1 1241.6,807 1244.6,811.3 1247,807.6 1249.4,801.5 1251.3,800.3 1253.1,803.9 1255.5,808.8 1258.6,811.9 1261.6,810.6 1264.6,807.6 1267.7,802.7 1270.1,804.5 1272.5,805.1 1276.2,804.5 1279.8,803.3 1283.5,802.7 1287.1,803.9 1290.7,803.9 1294.4,804.5 1298,803.9 1301.1,802.1 1303.5,800.9 1305.9,805.1 1308.4,810 1311.4,813.1 1314.4,813.7 1317.5,815.5 1320.5,814.3 1323.5,810 1327.2,807.6 1330.8,805.1 1334.5,802.7 1338.1,802.1 1341.8,802.7 1344.8,803.9 1347.2,808.2 1350.3,810 1353.9,808.2 1357.6,806.4 1361.2,807 1364.8,806.4 1368.5,807 1372.1,807.6 1375.8,805.8 1378.2,808.8 1380.6,814.9 1383.1,808.8 1384.9,801.5 1386.7,800.3 1388.5,805.1 1390.3,811.3 1392.8,814.3 1395.2,810 1397.6,807 1401.3,808.2 1404.4,810.1 1407.5,808.3 1410.5,804.6 1413.5,802.8 1416.6,805.2 1420.2,807 1423.9,804 1426.9,801.5 1429.9,803.4 1433,806.4 1436,804 1439,804.6 1442.1,807 1444.5,808.9 1446.9,805.8 1449.4,803.4 1453,803.4 1456.6,800.9 1460.3,797.9 1463.9,796.7 1467.6,798.5 1471.2,801.5 1474.9,804.6 1477.3,807.6 1479.1,808.9 1481.5,803.4 1484,797.9 1486.4,797.9 1489.4,800.9 1493.1,803.4 1496.7,805.2 1500.4,807.6 1502.8,805.2 1505.2,797.9 1507.7,797.3 1510.1,799.1 1513.7,797.9 1517.4,796 1521,794.2 1523.5,793 1525.9,796.7 1527.7,799.1 1529.5,792.4 1531.3,785.1 1533.2,782.6 1535.6,785.7 1538,786.3 1541.7,783.8 1545.3,780.8 1548.4,778.3 1550.2,781.4 1552,785.1 1554.4,782.6 1557.5,777.7 1560.5,772.9 1563.5,770.4 1566,770.4 1568.4,772.9 1570.2,773.5 1572.6,769.8 1575.7,766.8 1579.3,764.3 1583,761.3 1584.8,760.6 1586.6,763.7 1589,768 1592.7,769.8 1596.3,769.8 1600,768 1603.6,764.9 1607.3,763.1 1610.3,764.3 1613.3,767.4 1617,769.8 1619.4,769.2 1621.8,764.9 1624.3,761.3 1626.7,757 1628.5,755.8 1629.7,760 1631.6,764.9 1634,764.3 1636.4,761.3 1638.8,759.4 1641.3,760.6 1644.3,762.5 1647.3,763.1 1649.3,763.1 1651.7,760 1654.1,758.2 1656.6,761.9 1659.6,766.8 1662.6,771 1665.1,770.4 1667.5,765.5 1669.9,762.5 1673,763.7 1676,764.3 1679,763.1 1681.5,762.5 1683.9,766.8 1686.9,769.2 1690.6,770.4 1694.2,772.9 1697.9,774.7 1701.5,772.9 1703.9,768.6 1706.4,766.1 1709.4,768 1711.8,769.8 1714.3,766.8 1716.7,763.7 1719.7,766.1 1722.8,768.6 1725.8,768.6 1728.8,767.4 1731.9,768 1734.9,766.1 1737.9,763.7 1740.4,764.3 1742.8,768 1745.2,772.2 1747.7,775.3 1751.3,776.5 1754.9,779.6 1757.4,780.8 1760.4,778.3 1764.1,777.7 1767.7,778.3 1770.7,780.2 1774.4,782 1777.4,780.2 1779.8,777.1 1781.7,776.5 1784.1,779.6 1787.1,781.4 1790.8,780.8 1793.8,781.4 1796.9,783.8 1799.9,786.9 1802.9,788.7 1806,791.2 1808.4,794.8 1810.8,800.3 1812.6,794.8 1814.5,788.7 1816.3,785.1 1818.1,786.3 1820.5,789.9 1823,788.7 1825.4,785.1 1827.2,785.7 1829,791.2 1831.5,796 1834.5,795.4 1837.5,793 1840,791.8 1842.4,793.6 1844.8,797.9 1847.3,800.3 1850.9,799.7 1854.5,798.5 1858.2,797.3 1861.2,797.3 1864.3,799.1 1867.3,799.7 1870.3,797.9 1873.4,795.4 1876.4,795.4 1878.8,797.9 1881.3,801.5 1884.3,802.8 1887.3,803.4 1890.4,805.2 1893.4,807 1896.5,808.3 1901.2,810.1 1904.9,811.3 1908.5,809.5 1910.9,805.2 1913.4,803.4 1915.8,805.8 1918.2,810.1 1920.6,811.9 1924.3,810.1 1927.9,808.3 1931.6,808.3 1934.6,809.5 1937.5,811.3"/>
<polyline fill="none" stroke="#f83a3a" stroke-opacity="0.86" stroke-width="3.9" stroke-linejoin="round" points="429.7,770.6 465.7,798.2 527,759.9 577.5,796.2 591.1,791 637.8,772.5 667,751.1 669.9,750.7 674.7,753.4 699,753.4 733.1,783.2 750.6,778 779.7,768.6 819.4,757.9 838.9,750.1 858.3,739.4 877.8,728.8 889.5,723.9 916.7,751.1 926.4,753.4 953.6,781.3 994.5,770.6 1033.3,756.9 1059.6,748.2 1068.4,750.1 1076.1,753.1 1083.9,753.1 1103.4,764.7 1118.9,772.5 1134.5,774.5 1150,771.5 1163.6,768.2 1175.3,768.6 1187,764.3 1187,763.8 1191.7,764.7 1203.3,772.5 1216.9,781.3 1234.4,774.5 1253.9,767.6 1267.5,764.3 1281.1,763.2 1292.8,763.2 1304.5,765.7 1316.1,770.6 1329.7,780.3 1345.3,791 1355,786.1 1374.5,778.3 1393.9,773.5 1413.3,769 1421.1,767.1 1444.5,788.1 1465.9,805.6 1471.7,809.5 1483.4,807.9 1500.9,807.5 1514.5,806 1530,805.2 1549.5,806.5 1568.9,810.4 1579.4,812.4 1618.3,813.3 1657.2,818.2 1686.4,819.2 1715.6,818.4 1742.8,819.6 1773.9,814.3 1785.6,813.3 1797.2,814.9 1812.8,810.4 1832.2,803.6 1851.7,795.8 1871.1,786.1 1890.6,776.4 1910,765.7 1929.5,755 1937.6,751.1"/>
</g>
<g font-family="'Liberation Sans', sans-serif" font-size="23.8" stroke-width="0.65" stroke-linejoin="round">
<line x1="429" y1="1025" x2="1938" y2="1025" stroke="#606060" stroke-width="1.25"/>
<line x1="429" y1="589.4" x2="1938" y2="589.4" stroke="#606060" stroke-width="1.25"/>
<line x1="429.5" y1="589.4" x2="429.5" y2="1025" stroke="#4d9cd4" stroke-width="1.1"/>
<line x1="1937.5" y1="589.4" x2="1937.5" y2="1025" stroke="#e58659" stroke-width="1.1"/>
<line x1="429.5" y1="641.7" x2="443.5" y2="641.7" stroke="#4d9cd4" stroke-width="0.9"/>
<line x1="1923.5" y1="641.7" x2="1937.5" y2="641.7" stroke="#e58659" stroke-width="0.9"/>
<text x="421" y="650.3" text-anchor="end" fill="#3a8dca" stroke="#3a8dca">60</text>
<text x="1946" y="650.3" text-anchor="start" fill="#e27646" stroke="#e27646">60</text>
<line x1="429.5" y1="711.4" x2="443.5" y2="711.4" stroke="#4d9cd4" stroke-width="0.9"/>
<line x1="1923.5" y1="711.4" x2="1937.5" y2="711.4" stroke="#e58659" stroke-width="0.9"/>
<text x="421" y="720" text-anchor="end" fill="#3a8dca" stroke="#3a8dca">40</text>
<text x="1946" y="720" text-anchor="start" fill="#e27646" stroke="#e27646">40</text>
<line x1="429.5" y1="781.1" x2="443.5" y2="781.1" stroke="#4d9cd4" stroke-width="0.9"/>
<line x1="1923.5" y1="781.1" x2="1937.5" y2="781.1" stroke="#e58659" stroke-width="0.9"/>
<text x="421" y="789.7" text-anchor="end" fill="#3a8dca" stroke="#3a8dca">20</text>
<text x="1946" y="789.7" text-anchor="start" fill="#e27646" stroke="#e27646">20</text>
<text x="421" y="859.4" text-anchor="end" fill="#3a8dca" stroke="#3a8dca">0</text>
<text x="1946" y="859.4" text-anchor="start" fill="#e27646" stroke="#e27646">0</text>
<line x1="429.5" y1="920.5" x2="443.5" y2="920.5" stroke="#4d9cd4" stroke-width="0.9"/>
<line x1="1923.5" y1="920.5" x2="1937.5" y2="920.5" stroke="#e58659" stroke-width="0.9"/>
<text x="421" y="929.1" text-anchor="end" fill="#3a8dca" stroke="#3a8dca">-20</text>
<text x="1946" y="929.1" text-anchor="start" fill="#e27646" stroke="#e27646">-20</text>
<line x1="429.5" y1="990.2" x2="443.5" y2="990.2" stroke="#4d9cd4" stroke-width="0.9"/>
<line x1="1923.5" y1="990.2" x2="1937.5" y2="990.2" stroke="#e58659" stroke-width="0.9"/>
<text x="421" y="998.8" text-anchor="end" fill="#3a8dca" stroke="#3a8dca">-40</text>
<text x="1946" y="998.8" text-anchor="start" fill="#e27646" stroke="#e27646">-40</text>
<line x1="792.8" y1="1010" x2="792.8" y2="1025" stroke="#606060" stroke-width="0.9"/>
<line x1="792.8" y1="589.4" x2="792.8" y2="604.4" stroke="#606060" stroke-width="0.9"/>
<text x="794.1" y="1057.5" text-anchor="middle" fill="#3c3c3c" stroke="#3c3c3c">Dec 31, 2020, 06:00</text>
<line x1="1170.6" y1="1010" x2="1170.6" y2="1025" stroke="#606060" stroke-width="0.9"/>
<line x1="1170.6" y1="589.4" x2="1170.6" y2="604.4" stroke="#606060" stroke-width="0.9"/>
<text x="1171.9" y="1057.5" text-anchor="middle" fill="#3c3c3c" stroke="#3c3c3c">Dec 31, 2020, 12:00</text>
<line x1="1548.5" y1="1010" x2="1548.5" y2="1025" stroke="#606060" stroke-width="0.9"/>
<line x1="1548.5" y1="589.4" x2="1548.5" y2="604.4" stroke="#606060" stroke-width="0.9"/>
<text x="1549.8" y="1057.5" text-anchor="middle" fill="#3c3c3c" stroke="#3c3c3c">Dec 31, 2020, 18:00</text>
<line x1="1926.4" y1="1010" x2="1926.4" y2="1025" stroke="#606060" stroke-width="0.9"/>
<line x1="1926.4" y1="589.4" x2="1926.4" y2="604.4" stroke="#606060" stroke-width="0.9"/>
<text x="1927.7" y="1057.5" text-anchor="middle" fill="#3c3c3c" stroke="#3c3c3c">Jan 01, 2021, 00:00</text>
<text transform="translate(375,807.2) rotate(-90)" text-anchor="middle" fill="#3a8dca" stroke="#3a8dca" font-size="27">[kW]</text>
<text transform="translate(1998.5,807.2) rotate(90)" text-anchor="middle" fill="#e27646" stroke="#e27646" font-size="27">[kWh]</text>
</g>
<g>
<path fill="#33ff33" d="M431.3,1357.6 432.3,1357.9 432.8,1357.3 433.3,1356 433.8,1355.7 434.3,1357.5 434.8,1359.4 435.3,1360.9 435.8,1362 436.3,1363.1 437.3,1365.7 437.8,1366.5 438.3,1365.9 438.8,1365.1 439.8,1365.6 440.3,1365.3 441.3,1363 441.8,1361.4 442.3,1360.2 442.8,1359.4 443.8,1357.9 444.3,1357.8 444.8,1357.8 445.3,1358.6 446.3,1360.4 446.8,1361.9 447.3,1363.6 447.8,1364.9 448.3,1365.5 448.8,1365.9 449.3,1367.3 449.8,1368.9 450.3,1369.7 450.8,1367.9 451.3,1365.6 451.8,1364.9 452.3,1364.3 452.8,1362.7 453.8,1358.6 454.3,1357.8 454.8,1358 455.3,1357.8 455.8,1356.8 456.3,1357.5 456.8,1359.6 457.3,1362 457.8,1364 458.8,1366 459.3,1367.4 459.8,1368.1 460.3,1367.9 461.3,1366.4 461.8,1365.3 462.3,1363.6 462.8,1362.1 463.8,1360 464.3,1359.2 464.8,1358.9 465.3,1357.2 464.8,1366 464.3,1376.9 463.8,1393.4 463.3,1403.4 431.3,1403.4ZM525.8,1362.7 526.3,1363.6 526.8,1363.3 527.8,1361.3 528.3,1361.6 528.8,1362.3 529.3,1362.7 530.3,1361 530.8,1360.8 531.8,1360.8 532.3,1361.1 532.8,1362.2 533.3,1363.5 533.8,1365 534.3,1366.3 534.8,1367.2 535.3,1368.2 535.8,1369 536.3,1369.6 536.8,1370.6 537.3,1372.1 537.8,1373 538.3,1373.3 538.8,1373.3 539.3,1373.3 539.8,1371.9 540.3,1370.1 541.3,1366.3 541.8,1364.4 542.3,1363.6 542.8,1362.8 543.3,1362.5 543.8,1362.7 544.3,1363.4 545.3,1363.9 545.8,1363.7 546.3,1363.4 546.8,1363.3 547.8,1364.9 548.3,1365.1 548.8,1365.3 549.3,1365.6 550.3,1366.8 550.8,1368.1 551.3,1369.9 551.8,1371.5 552.8,1372.3 553.3,1373.1 553.8,1372.3 554.3,1371.2 555.8,1366.3 556.3,1363.7 556.8,1361.2 557.8,1357.7 558.3,1356.3 558.8,1356 559.3,1355.6 559.8,1354.4 560.3,1354.5 560.8,1356.5 561.3,1359.4 561.8,1362.1 562.8,1364.8 563.3,1366.3 563.8,1367.5 564.3,1367.9 565.3,1369.3 565.8,1369.5 566.3,1368.2 566.8,1365.9 567.8,1363 568.3,1362.3 569.3,1361.4 570.3,1359.4 570.8,1358.9 571.8,1357.8 572.3,1355.8 572.8,1348.7 573.3,1341.4 573.8,1334.1 574.3,1333.4 574.8,1333.4 575.3,1333.3 575.8,1333.5 575.3,1339.6 574.8,1346.1 573.8,1366.2 573.3,1378.5 572.8,1395 572.3,1403.4 528.8,1403.4 528.3,1398.5 527.8,1393.1 527.3,1387 526.8,1381.5 525.8,1362.7ZM666.8,1359.9 667.3,1361.4 668.3,1361.6 668.8,1361.6 669.3,1361.4 669.8,1361.5 670.8,1363.4 671.3,1363.3 671.8,1363 672.3,1362.7 673.3,1362.8 673.8,1362.7 674.3,1362.6 674.8,1362.5 675.8,1363.9 676.3,1363.8 676.8,1363.4 677.3,1363.1 678.3,1363.8 678.8,1363.2 679.3,1362.2 679.8,1361.3 680.8,1360.3 681.3,1360.4 681.9,1360.8 682.4,1361 683.4,1359.5 683.9,1359.2 684.4,1359.5 684.9,1360.9 685.9,1364.6 686.4,1365.7 686.9,1366.1 687.4,1366.7 688.4,1369.8 688.9,1370.8 689.4,1371.5 689.9,1371.7 690.9,1369.6 691.4,1369.4 691.9,1369.8 692.4,1370.2 692.9,1369.2 693.4,1368.4 693.9,1368.2 694.9,1368.9 695.9,1368.3 696.4,1367.4 696.9,1366.3 697.4,1365.3 698.4,1367.4 698.9,1367.7 699.9,1367.4 700.9,1365.4 701.4,1365.3 702.4,1366.8 703.4,1367 703.9,1367 704.9,1366.7 705.9,1365.1 706.4,1364.8 706.9,1365.1 707.4,1365.3 708.4,1363.9 708.9,1363.4 709.9,1362.3 710.9,1360 711.4,1360 712.4,1361.3 713.4,1360.3 713.9,1360.7 714.9,1362.7 715.4,1362.4 715.9,1362 716.4,1362 717.4,1363.8 718.9,1366.7 719.4,1367.7 719.9,1368.3 720.4,1369.2 720.9,1370.3 721.4,1371 721.9,1370.8 722.4,1369.2 722.9,1368.3 723.4,1367.6 723.9,1367 724.4,1366.5 724.9,1366.1 725.4,1364.9 725.9,1363.5 726.4,1362.2 727.4,1360.6 727.9,1360.8 728.4,1361.8 728.9,1362.4 729.9,1361.8 730.4,1361.2 729.9,1372.6 729.4,1383.8 728.9,1395.7 728.4,1403.4 671.8,1403.4 671.3,1401.3 669.8,1393.6 669.3,1390.3 668.8,1387.8 666.8,1359.9ZM807.9,1364.1 808.4,1368.1 808.9,1367.7 809.4,1367.3 809.9,1366.8 810.9,1365.9 811.4,1363.7 811.9,1361.1 812.4,1358.2 812.9,1355.9 814.4,1350.3 814.9,1351.1 815.4,1352 815.9,1353.3 816.4,1355.2 816.9,1357.6 817.4,1359.8 817.9,1362.1 818.4,1364.8 818.9,1367.2 819.4,1369.2 819.9,1370.8 820.4,1372.5 820.9,1372.7 821.4,1372.6 821.9,1372.4 822.4,1371.5 822.9,1368.8 823.9,1364.7 824.4,1363.2 824.9,1362.1 825.4,1361.2 826.4,1361.7 826.9,1362 827.9,1362.4 828.4,1362.8 828.9,1364.4 829.4,1366.1 829.9,1368 830.4,1369.5 831.4,1371.2 831.9,1372.6 832.4,1374.3 832.9,1374.6 833.9,1372.4 834.9,1370.1 835.4,1369.3 836.4,1368.1 836.9,1367.7 837.9,1367.4 838.4,1366.6 838.9,1366 839.4,1365.4 840.4,1364.4 841.4,1363.7 841.9,1363.8 842.9,1365.1 843.9,1364.2 844.4,1363.8 844.9,1363.7 845.4,1363.5 846.4,1364.3 846.9,1364.4 847.9,1364.2 848.4,1363.7 848.9,1363.3 849.4,1362.8 850.4,1361.1 850.9,1360.5 851.4,1359.7 851.9,1359.2 852.9,1359.4 853.4,1358.9 853.9,1358.3 854.4,1355.6 855.4,1335.1 855.9,1326.5 856.9,1325.5 857.9,1324.3 858.4,1323.2 858.9,1322.8 858.4,1325.7 857.4,1339.5 856.9,1347.1 855.9,1367.3 855.4,1380.2 854.9,1396.7 854.4,1403.4 811.4,1403.4 810.9,1401 809.9,1394.6 808.9,1386.8 807.9,1364.1ZM1026.4,1317.2 1026.9,1328.9 1027.4,1328.4 1027.9,1328.3 1028.9,1328.2 1029.4,1328.2 1029.9,1328 1030.9,1326.3 1031.4,1326.1 1032.4,1326.9 1033.4,1327.4 1034.9,1328.5 1035.9,1328.7 1036.4,1329.1 1036.9,1329.7 1037.4,1330.2 1038.4,1329.6 1038.9,1328.9 1039.9,1327.8 1040.9,1327.5 1041.4,1327 1041.9,1326.3 1042.4,1326.1 1043.4,1325.3 1043.9,1325.3 1044.9,1326.1 1045.4,1327.7 1045.9,1329.6 1046.4,1330.5 1047.4,1330.1 1047.9,1331.2 1048.4,1332.3 1048.9,1333.1 1050.4,1335.3 1050.9,1334.2 1051.4,1332.4 1052.4,1329.6 1053.4,1325.5 1053.9,1323.1 1054.4,1320.3 1054.9,1317.8 1055.9,1316.2 1056.4,1316 1056.9,1329.9 1057.4,1345.3 1057.9,1347.1 1058.4,1348.9 1058.9,1350.3 1059.9,1351.6 1060.4,1353.1 1060.9,1354 1061.4,1355.2 1062.4,1358.5 1062.9,1358.6 1063.4,1358.1 1063.9,1358.1 1064.9,1360 1065.4,1359.3 1065.9,1358.1 1066.4,1357.5 1067.4,1358.7 1067.9,1357.8 1068.4,1356.7 1068.9,1356 1069.9,1356.4 1070.4,1355.8 1070.9,1355 1071.4,1354.5 1072.4,1354.6 1072.9,1353.5 1073.4,1352 1073.9,1351 1074.4,1351 1074.9,1350.8 1075.4,1349.7 1075.9,1348.5 1076.4,1347.4 1077.4,1346.6 1077.9,1345.6 1078.4,1344.4 1078.9,1343.3 1079.4,1342.7 1080.4,1342.4 1081.9,1341.5 1082.4,1341.7 1083.4,1342.6 1083.9,1343.1 1084.9,1344.4 1085.9,1345.8 1086.4,1346.3 1086.9,1346.5 1087.4,1345.8 1087.9,1345.8 1088.4,1346.1 1088.9,1346.4 1089.9,1346.5 1090.4,1346.2 1090.9,1345.7 1091.4,1345.3 1092.4,1346.5 1092.9,1346.3 1093.4,1346.1 1093.9,1346.2 1094.9,1348.7 1095.4,1349.8 1095.9,1350.9 1096.4,1350.7 1097.4,1348.1 1097.9,1346.6 1098.4,1345 1098.9,1343.5 1099.9,1342.8 1100.4,1341.9 1100.9,1340.5 1101.4,1339.2 1101.9,1339.4 1102.4,1339.6 1102.9,1339.3 1103.4,1338.7 1103.9,1338.2 1104.9,1340.7 1105.4,1341.5 1105.9,1341.9 1106.4,1342.4 1107.4,1344.2 1107.9,1344.8 1108.4,1345.1 1108.9,1345.4 1109.9,1346.3 1110.4,1346.6 1111.4,1346.7 1111.9,1346.7 1112.4,1346.3 1112.9,1346.2 1113.9,1346.7 1114.4,1346.4 1114.9,1346.2 1115.4,1346.5 1116.4,1347.5 1117.4,1347.8 1117.9,1347.9 1118.9,1347.8 1119.9,1347.2 1120.4,1347.6 1121.4,1349.9 1121.9,1350 1122.4,1349.1 1122.9,1348.4 1123.9,1347.7 1124.4,1346.2 1124.9,1344.6 1125.4,1343.4 1126.4,1342 1126.9,1341.4 1127.4,1342.2 1127.9,1343 1128.9,1344.3 1129.4,1346 1122.4,1353.1 1121.9,1353.7 1118.4,1360.7 1117.9,1361.1 1114.4,1357.5 1113.9,1357.7 1110.4,1361.2 1106.9,1366.5 1106.4,1367 1102.9,1361.7 1102.4,1361.4 1098.9,1363.1 1098.4,1363 1094.9,1361.3 1094.4,1360.3 1091.4,1354.3 1090.9,1353.8 1087.4,1364.3 1086.9,1365.1 1079.4,1361.3 1073.9,1363.1 1073.4,1363.4 1070.9,1365.9 1070.4,1366.7 1067.9,1372.6 1067.4,1373.4 1064.9,1376.8 1064.4,1376.4 1062.4,1374.4 1061.9,1373.9 1058.4,1371.3 1057.9,1370.9 1054.4,1369.2 1053.9,1369.2 1050.4,1371 1046.9,1374.5 1046.4,1374.9 1042.9,1375.8 1042.4,1376 1038.9,1377.7 1038.4,1378.1 1034.9,1381.7 1034.4,1382.6 1032.4,1386.8 1031.9,1387.7 1028.9,1370.6 1028.4,1365 1026.9,1338.2 1026.4,1317.2ZM1167.4,1350.8 1167.9,1349.3 1168.4,1349.4 1168.9,1350.4 1168.4,1350.6 1167.4,1350.8ZM1168.9,1350.4 1169.4,1349.3 1169.9,1348.7 1170.4,1348.6 1170.9,1349.7 1168.9,1350.4ZM1192.5,1355.2 1193,1354.9 1194,1353.6 1194.5,1352.8 1195.5,1350.8 1196,1350.6 1196.5,1350.5 1198,1351.6 1198.5,1352.2 1199,1346.6 1199.5,1336.7 1200,1329.1 1200.5,1329.9 1201,1331 1201.5,1332.2 1202,1332.9 1203,1336 1203.5,1336.7 1204,1337.2 1204.5,1337.6 1205,1336.8 1206.5,1334 1207,1333.3 1207.5,1333.1 1208,1332.1 1208.5,1330.4 1209.5,1326.8 1210,1325.1 1210.5,1324.8 1211,1325.1 1211.5,1325.4 1212,1325.6 1212.5,1325.8 1213,1326.8 1213.5,1328.3 1214,1330.1 1214.5,1326.9 1213.5,1334.9 1213,1338.7 1211.5,1347.7 1211,1349.9 1207.5,1353.4 1207,1354.2 1203.5,1361.2 1203,1363.7 1199.5,1384.7 1199,1382.8 1198,1378.8 1197.5,1376.6 1196,1364.6 1195.5,1361.2 1192.5,1355.2ZM1249.5,1324.7 1250,1324 1250.5,1322.9 1251,1324.2 1251.5,1326.2 1252,1328.4 1249.5,1324.7ZM1293.5,1345.6 1294,1339.5 1294.5,1331.6 1295,1330.6 1294.5,1336.6 1293.5,1345.6ZM1371.5,1355.7 1372,1359 1372.5,1357.8 1373.5,1358.4 1374,1357.8 1374.5,1356.8 1375,1356.8 1375.5,1357.4 1376,1358.1 1376.5,1359.8 1377,1362.2 1377.5,1365.3 1378.5,1367.8 1379,1370 1379.5,1372.6 1380,1371.3 1381,1367.2 1381.5,1365 1382,1362.5 1382.5,1359 1383.5,1350.8 1384,1348.7 1384.5,1348.1 1385,1347.5 1385.5,1347.9 1386,1350.9 1386.5,1353.2 1387,1354.5 1387.5,1356.1 1388.5,1363.3 1389,1366.3 1389.5,1367.6 1390,1368.2 1390.5,1368.4 1391,1368.5 1391.5,1369 1392,1368 1392.5,1366.6 1393,1365.9 1393.5,1365.3 1394,1364.1 1395,1360.7 1395.5,1359.8 1396.5,1358.2 1397,1358.2 1397.5,1358.2 1398.5,1358.4 1399,1358.8 1400,1360.3 1400.5,1360.5 1401,1360.6 1401.5,1360.9 1402.5,1362.2 1403,1363.6 1403.5,1364.4 1404,1364.6 1405,1364.1 1405.5,1363.6 1406,1363 1406.5,1362.1 1407.5,1359.5 1408.5,1357.3 1409,1356.1 1409.5,1355.3 1410,1354.7 1410.5,1354.4 1411.5,1353.8 1412,1353.5 1412.5,1353.7 1413.5,1355.2 1414,1355.9 1415,1357.2 1415.5,1358 1416,1358.8 1416.5,1359.3 1417.5,1359.6 1418.5,1360 1419,1360.1 1420,1358.7 1420.5,1358.2 1421.5,1357.2 1422.5,1356 1423,1355.9 1423.5,1356 1424,1355.9 1425,1354 1425.5,1353.1 1426,1353.3 1426.5,1353.8 1427.5,1355.2 1428.5,1356.5 1429,1357.3 1430,1358.5 1430.5,1358.8 1431,1359 1432,1359.8 1432.5,1359.8 1433,1358.7 1433.5,1357.1 1434,1355.9 1434.5,1353 1435,1343.1 1435.5,1332.3 1436,1331.5 1436.5,1331 1437.5,1330.5 1438,1328.1 1437,1338.1 1436.5,1345.4 1435.5,1368.3 1435,1382.4 1434.5,1398.8 1434,1403.4 1405.5,1403.4 1400,1400.1 1399.5,1399.9 1394,1399.4 1393.5,1399.7 1390.5,1401.9 1390,1402.3 1376.5,1403.4 1375.5,1403.4 1375,1400.2 1374.5,1396.5 1374,1392 1373,1384.7 1372.5,1375.7 1371.5,1355.7ZM1528.5,1316 1529,1313.9 1529.5,1311.1 1530,1309.4 1530.5,1308.4 1531.5,1307.1 1532.5,1309.8 1533,1311.2 1533.5,1311.8 1534,1312.2 1534.5,1312.3 1535.5,1313.3 1536,1314.3 1536.5,1316 1528.5,1316ZM1536.5,1316 1537,1314.8 1538,1312.8 1539,1311.3 1539.5,1311 1540,1311.2 1540.5,1311.2 1541,1310.1 1541.5,1316 1536.5,1316ZM1577.5,1316.3 1578,1315.2 1578.5,1314.6 1579.5,1313.7 1580.5,1313.3 1581.5,1311.9 1582,1311.4 1582.5,1311.4 1583,1311.6 1583.5,1312.7 1584.5,1314.3 1585,1316.4 1579.5,1316.4 1577.5,1316.3ZM1602.5,1316.4 1603,1315.3 1603.5,1314.7 1604.5,1314.5 1605,1313.9 1605.5,1313.5 1606,1314.1 1606.5,1315.4 1607,1316.4 1602.5,1316.4ZM1607.5,1316.4 1608,1315.4 1608.5,1315.1 1609,1316.4 1607.5,1316.4ZM1621,1316.4 1621.5,1315 1622,1314.3 1622.5,1313.4 1623,1312.4 1623.5,1311.3 1624.5,1308.9 1625,1307.4 1625.5,1306.1 1626,1305.2 1626.5,1305.2 1627,1308.3 1627.5,1311.5 1628,1314.3 1628.5,1316.4 1621,1316.4ZM1633.5,1316.4 1634,1315.3 1634.5,1314.7 1635,1313.5 1635.5,1312 1636,1310.7 1636.5,1310.3 1637,1310.3 1638,1311.5 1638.5,1312 1639,1312 1639.5,1312 1640,1312.7 1640.5,1313.8 1641,1314.9 1641.5,1315.4 1642,1316.4 1633.5,1316.4ZM1648.5,1316.4 1649,1314.2 1649.5,1312.6 1650,1311.6 1651,1310.2 1652,1308.8 1652.5,1309.9 1653,1311.4 1653.5,1312.8 1654.5,1313 1655,1314.2 1655.5,1316.4 1648.5,1316.4ZM1666,1316.4 1666.5,1315.5 1667,1314.6 1667.5,1313.7 1668,1313.2 1668.5,1313.6 1669,1314.7 1669.5,1316.4 1666,1316.4ZM1674.5,1316.4 1675,1315.3 1676,1314.8 1677,1314.1 1677.5,1313.8 1678.5,1313.2 1679,1313.2 1679.5,1313.8 1680,1315.1 1680.5,1316.4 1674.5,1316.4ZM1713.6,1316.4 1714.1,1315 1714.6,1315 1715.1,1316.4 1713.6,1316.4ZM1735.1,1316.4 1735.6,1315.4 1736.1,1314.2 1736.6,1313.8 1737.6,1314.2 1738.1,1314.2 1738.6,1315.2 1739.1,1316.4 1735.1,1316.4ZM1934.1,1351.3 1934.6,1363.7 1934.6,1403.4 1934.1,1351.3Z"/>
<path fill="#ffff33" d="M463.8,1393.4 464.3,1376.9 464.8,1366 465.8,1348.4 466.3,1340.2 467.3,1324.4 467.8,1321.9 468.8,1318.4 469.3,1316.7 471.8,1315.5 472.3,1315.3 476.8,1315.7 477.3,1316.2 478.8,1319.2 479.3,1320.3 481.8,1326.2 482.3,1326.5 484.8,1327.4 488.3,1325.6 495.3,1322.6 502.8,1320.7 503.3,1320.5 512.8,1319.2 523.3,1317.7 523.8,1318.2 524.3,1319.2 524.8,1332.5 525.3,1353.2 526.8,1381.5 527.3,1387 527.8,1393.1 527.3,1387.8 526.8,1382.3 525.3,1354 524.8,1333.3 524.3,1320 523.8,1318.9 523.3,1318.4 512.8,1320 503.3,1321.3 495.8,1323.2 495.3,1323.3 488.8,1326.1 484.8,1328.1 482.3,1327.3 481.8,1327 479.3,1321.1 478.8,1320 477.3,1317 476.8,1316.4 472.3,1316.1 471.8,1316.3 469.3,1317.4 467.8,1322.7 467.3,1325.1 466.3,1340.9 465.8,1349.2 464.8,1366.8 464.3,1377.7 463.8,1393.4ZM572.8,1395 573.3,1378.5 573.8,1366.2 574.8,1346.1 575.3,1339.6 576.3,1327.5 576.8,1321.5 579.3,1317.3 579.8,1316.6 582.3,1315.8 582.8,1315.7 663.8,1316.1 664.3,1317.1 664.8,1318.6 665.3,1324.7 665.8,1338.9 666.3,1352.9 668.8,1387.8 669.3,1390.3 669.8,1393.6 668.8,1388.5 666.3,1353.7 665.8,1339.7 665.3,1325.4 664.8,1319.4 664.3,1317.9 663.8,1316.8 582.8,1316.5 582.3,1316.6 579.8,1317.4 579.3,1318.1 576.8,1322.3 576.3,1328.3 575.3,1340.3 574.8,1346.9 573.8,1367 573.3,1379.3 572.8,1395ZM728.9,1395.7 729.4,1383.8 729.9,1372.6 731.4,1338.6 731.9,1333.2 733.4,1319.6 736.4,1316.4 736.9,1316 741.4,1315.3 741.9,1315.3 770.4,1316.1 789.9,1317.2 801.4,1318.6 801.9,1318.7 806.4,1320.5 806.9,1336.3 807.4,1352.8 808.9,1386.8 809.9,1394.6 809.4,1391.4 808.9,1387.5 807.4,1353.6 806.9,1337 806.4,1321.3 801.9,1319.5 801.4,1319.4 790.4,1318.1 770.9,1316.9 741.9,1316.1 741.4,1316.1 736.9,1316.8 736.4,1317.2 733.9,1319.8 733.4,1320.4 731.9,1334 731.4,1339.4 729.9,1373.3 728.9,1395.7ZM854.9,1396.7 855.4,1380.2 855.9,1367.3 856.9,1347.1 857.4,1339.5 858.4,1325.7 858.9,1322.8 861.4,1317.8 861.9,1317.4 864.9,1315.9 865.4,1315.7 962.9,1315.7 968.9,1314.5 974.4,1313 974.9,1312.9 980.4,1310.7 980.9,1310.4 987.9,1305.1 988.4,1304.8 991.9,1305.7 992.4,1306 993.9,1308.3 994.4,1308 995.9,1304.3 996.4,1303.7 999.9,1302.8 1000.4,1303 1003.4,1304.5 1003.9,1304.7 1007.4,1303.9 1007.9,1303.7 1011.4,1301.9 1015.4,1299.3 1015.9,1299.4 1018.9,1299.8 1019.4,1299.9 1022.9,1301.7 1023.4,1302 1025.9,1304.6 1026.4,1317.2 1026.9,1338.2 1028.4,1365 1028.9,1370.6 1031.9,1387.7 1032.4,1386.8 1034.4,1382.6 1034.9,1381.7 1038.4,1378.1 1038.9,1377.7 1042.4,1376 1042.9,1375.8 1046.4,1374.9 1049.9,1371.4 1050.4,1371 1053.9,1369.2 1054.4,1369.2 1057.9,1370.9 1058.4,1371.3 1061.9,1373.9 1064.4,1376.4 1064.9,1376.8 1067.4,1373.4 1067.9,1372.6 1070.4,1366.7 1070.9,1365.9 1073.4,1363.4 1073.9,1363.1 1078.9,1361.4 1079.4,1361.3 1086.9,1365.1 1087.4,1364.3 1090.9,1353.8 1091.4,1354.3 1094.4,1360.3 1094.9,1361.3 1098.4,1363 1098.9,1363.1 1102.4,1361.4 1102.9,1361.7 1106.4,1367 1106.9,1366.5 1109.9,1362 1110.4,1361.2 1113.9,1357.7 1114.4,1357.5 1117.9,1361.1 1118.4,1360.7 1121.9,1353.7 1122.4,1353.1 1133.4,1342 1139.4,1336.9 1142.9,1334.3 1143.4,1333.9 1146.9,1330.4 1147.4,1330.4 1149.9,1333.8 1150.4,1334.6 1151.9,1337.7 1152.4,1337.6 1152.9,1337.2 1153.4,1336.5 1154.9,1318.6 1155.4,1314.4 1155.9,1310.2 1156.4,1308.9 1156.9,1309.3 1157.4,1312.4 1158.4,1330 1159.4,1345.1 1159.9,1347.9 1164.4,1351.4 1164.9,1351.5 1168.4,1350.6 1170.9,1349.7 1171.4,1346.9 1173.9,1315.5 1175.4,1314.7 1175.9,1314.9 1176.9,1321.2 1177.4,1324.4 1178.9,1336.4 1179.4,1340.3 1180.9,1348.6 1181.4,1350.6 1183,1351.5 1183.5,1354.4 1184,1355.7 1185.5,1352.5 1186,1351.8 1191.5,1353.6 1192,1354.2 1195.5,1361.2 1196,1364.6 1197.5,1376.6 1198,1378.8 1199,1382.8 1199.5,1384.7 1203,1363.7 1203.5,1361.2 1207,1354.2 1207.5,1353.4 1211,1349.9 1211.5,1347.7 1213,1338.7 1213.5,1334.9 1215,1322.9 1215.5,1321.5 1218.5,1314.8 1219,1313.8 1224.5,1310.7 1225,1310.6 1230.5,1311.8 1236,1314.6 1236.5,1314.7 1240,1311.2 1240.5,1311.1 1244,1314.6 1244.5,1315.4 1248,1322.4 1248.5,1323.2 1259.5,1339.7 1260,1340.3 1263.5,1343.8 1264,1344.5 1267.5,1349.7 1271,1353.2 1271.5,1353.5 1275,1346.5 1275.5,1345.7 1278,1342.3 1278.5,1342.5 1281,1347.5 1281.5,1348.4 1285,1353.6 1285.5,1353.7 1288.5,1353.7 1289,1353.6 1292.5,1351.9 1293,1350.1 1294.5,1336.6 1295,1330.6 1296.5,1308.1 1297,1304 1300.5,1291.8 1301,1290.4 1304,1282.9 1304.5,1281.7 1306,1279.4 1306.5,1279 1308,1282.8 1308.5,1284.9 1310,1298.4 1310.5,1301.5 1314,1308.5 1314.5,1309 1320,1310.9 1327.5,1308.1 1328,1308 1351,1305.1 1351.5,1305.2 1358.5,1307.8 1359,1308 1366.5,1309.9 1367,1310.3 1370.5,1314.7 1371,1335.7 1371.5,1355.7 1372.5,1375.7 1373,1384.7 1374,1392 1374.5,1396.5 1373,1385.4 1372.5,1376.5 1371.5,1356.5 1371,1338.4 1370.5,1320.4 1370,1318.9 1369.5,1317.7 1367,1316.8 1366.5,1316.7 1304.5,1316.7 1301,1317.6 1300.5,1317.9 1298,1322 1297.5,1324.3 1296,1339.3 1295.5,1347.3 1294.5,1370.1 1294,1384.6 1293.5,1400.2 1293,1403.4 1232,1403.4 1183.5,1403.4 1032.4,1403.4 1031.9,1403.2 1028.9,1386.2 1028.4,1380.6 1026.9,1353.8 1026.4,1327.5 1025.9,1321.5 1025.4,1320.5 1024.9,1320 998.4,1319.4 997.9,1319.3 994.4,1316.6 993.9,1316.5 865.4,1316.5 861.9,1318.2 861.4,1318.5 858.9,1323.6 858.4,1326.5 857.4,1340.3 856.9,1347.9 855.9,1368 855.4,1381 854.9,1396.7ZM1377,1403.3 1390,1402.3 1393.5,1399.7 1394,1399.4 1399.5,1399.9 1400,1400.1 1405,1403.1 1405.5,1403.4 1377,1403.4ZM1434.5,1398.8 1435,1382.4 1435.5,1368.3 1436.5,1345.4 1437,1338.1 1438.5,1323.1 1439,1321.2 1441.5,1317 1442,1316.8 1445,1316.1 1445.5,1316 1568.5,1316 1579,1316.3 1933.6,1316.4 1934.1,1351.3 1934.6,1403.4 1934.1,1352 1933.6,1317.1 1579.5,1317.1 1569,1316.7 1445.5,1316.7 1442,1317.6 1441.5,1317.8 1439,1321.9 1438.5,1323.8 1437,1338.8 1436.5,1346.2 1435.5,1369.1 1435,1383.2 1434.5,1398.8Z"/>
<path id="ice3" fill="#9a9a9a" d="M463.3,1403.4 463.8,1393.4 464.3,1377.7 464.8,1366.8 465.8,1349.2 466.3,1340.9 467.3,1325.1 467.8,1322.7 468.8,1319.2 469.3,1317.4 471.8,1316.3 472.3,1316.1 476.8,1316.4 477.3,1317 478.8,1320 479.3,1321.1 481.8,1327 482.3,1327.3 484.8,1328.1 488.3,1326.4 495.3,1323.3 502.8,1321.4 503.3,1321.3 512.8,1320 523.3,1318.4 523.8,1318.9 524.3,1320 524.8,1333.3 525.3,1354 526.8,1382.3 527.3,1387.8 528.3,1398.5 528.8,1403.4 528.8,1403.4 463.3,1403.4ZM572.3,1403.4 572.8,1395 573.3,1379.3 573.8,1367 574.8,1346.9 575.3,1340.3 576.3,1328.3 576.8,1322.3 579.3,1318.1 579.8,1317.4 582.3,1316.6 582.8,1316.5 663.8,1316.8 664.3,1317.9 664.8,1319.4 665.3,1325.4 665.8,1339.7 666.3,1353.7 668.8,1388.5 671.3,1401.3 671.8,1403.4 671.8,1403.4 572.3,1403.4ZM728.4,1403.4 728.9,1395.7 729.9,1373.3 731.4,1339.4 731.9,1334 733.4,1320.4 736.4,1317.2 736.9,1316.8 741.4,1316.1 741.9,1316.1 770.4,1316.8 789.9,1318 801.4,1319.4 801.9,1319.5 806.4,1321.3 806.9,1337 807.4,1353.6 808.9,1387.5 809.4,1391.4 810.9,1401 811.4,1403.4 811.4,1403.4 728.4,1403.4ZM854.4,1403.4 854.9,1396.7 855.4,1381 855.9,1368 856.9,1347.9 857.4,1340.3 858.4,1326.5 858.9,1323.6 861.4,1318.5 861.9,1318.2 864.9,1316.7 865.4,1316.5 993.9,1316.5 994.4,1316.6 997.9,1319.3 998.4,1319.4 1024.9,1320 1025.4,1320.5 1025.9,1321.5 1026.4,1327.5 1026.9,1353.8 1028.4,1380.6 1028.9,1386.2 1031.9,1403.2 1032.4,1403.4 1032.4,1403.4 854.4,1403.4ZM1293,1403.4 1293.5,1400.2 1294,1384.6 1294.5,1370.1 1295.5,1347.3 1296,1339.3 1297.5,1324.3 1298,1322 1300.5,1317.9 1301,1317.6 1304.5,1316.7 1366.5,1316.7 1367,1316.8 1369.5,1317.7 1370,1318.9 1370.5,1320.4 1371,1338.4 1371.5,1356.5 1372.5,1376.5 1373,1385.4 1375,1400.2 1375.5,1403.4 1293,1403.4ZM1434,1403.4 1434.5,1398.8 1435,1383.2 1435.5,1369.1 1436.5,1346.2 1437,1338.8 1438.5,1323.8 1439,1321.9 1441.5,1317.8 1442,1317.6 1445,1316.8 1445.5,1316.7 1568.5,1316.7 1579,1317.1 1933.6,1317.1 1934.1,1352 1934.6,1403.4 1434,1403.4Z"/>
<path fill="url(#st)" d="M466,1403.4V1350.7h1.7V1403.4zM479.4,1403.4V1327.3h1.9V1403.4zM490.5,1403.4V1327h4.2V1403.4zM509.2,1403.4V1322h1.9V1403.4zM517,1403.4V1320.9h2.2V1403.4zM576.4,1403.4V1329.8h3.7V1403.4zM589.6,1403.4V1318h3.9V1403.4zM604.8,1403.4V1318.1h4V1403.4zM616.5,1403.4V1318.1h2.6V1403.4zM630.5,1403.4V1318.2h4.3V1403.4zM646.7,1403.4V1318.3h2.9V1403.4zM657.3,1403.4V1318.3h2.3V1403.4zM733.2,1403.4V1321.9h1.8V1403.4zM750.1,1403.4V1317.8h1.8V1403.4zM765.9,1403.4V1318.3h3.6V1403.4zM775.5,1403.4V1318.8h3V1403.4zM794.4,1403.4V1320.6h4.5V1403.4zM866.5,1403.4V1318h3.7V1403.4zM876,1403.4V1318h2.8V1403.4zM884.3,1403.4V1318h3.4V1403.4zM902.4,1403.4V1318h3.1V1403.4zM916.7,1403.4V1318h3.4V1403.4zM927.6,1403.4V1318h2.7V1403.4zM941.6,1403.4V1318h3.4V1403.4zM954.2,1403.4V1318h2.9V1403.4zM965.8,1403.4V1318h3.2V1403.4zM981.4,1403.4V1318h2.5V1403.4zM996.4,1403.4V1320.9h4V1403.4zM1011.4,1403.4V1321.3h4.4V1403.4zM1024.2,1403.4V1382.1h4.3V1403.4zM1296.3,1403.4V1335.8h1.5V1403.4zM1308.2,1403.4V1318.2h1.6V1403.4zM1318.4,1403.4V1318.2h2.2V1403.4zM1330.7,1403.4V1318.2h3.5V1403.4zM1348.7,1403.4V1318.2h2.3V1403.4zM1356.1,1403.4V1318.2h4.5V1403.4zM1435.2,1403.4V1384.7h3.9V1403.4zM1446.9,1403.4V1318.2h2.2V1403.4zM1458.9,1403.4V1318.2h3.8V1403.4zM1476.4,1403.4V1318.2h3.8V1403.4zM1491.6,1403.4V1318.2h2.9V1403.4zM1501.6,1403.4V1318.2h3.5V1403.4zM1517.3,1403.4V1318.2h3V1403.4zM1533.4,1403.4V1318.2h4.4V1403.4zM1553.2,1403.4V1318.2h1.8V1403.4zM1563.2,1403.4V1318.2h3.3V1403.4zM1579.1,1403.4V1318.6h2.4V1403.4zM1596.7,1403.4V1318.6h2.9V1403.4zM1613,1403.4V1318.6h1.7V1403.4zM1622.7,1403.4V1318.6h1.6V1403.4zM1638,1403.4V1318.6h3.1V1403.4zM1656.5,1403.4V1318.6h3.3V1403.4zM1668.4,1403.4V1318.6h2.6V1403.4zM1680.1,1403.4V1318.6h2.1V1403.4zM1688.4,1403.4V1318.6h3.4V1403.4zM1700.3,1403.4V1318.6h2.9V1403.4zM1716,1403.4V1318.6h2.3V1403.4zM1728.1,1403.4V1318.6h2.5V1403.4zM1739.2,1403.4V1318.6h3.5V1403.4zM1748.7,1403.4V1318.6h2.7V1403.4zM1757.7,1403.4V1318.6h3.5V1403.4zM1769.4,1403.4V1318.6h4.4V1403.4zM1784.1,1403.4V1318.6h3.5V1403.4zM1798.4,1403.4V1318.6h4V1403.4zM1815.1,1403.4V1318.6h3.4V1403.4zM1823.8,1403.4V1318.6h1.9V1403.4zM1839,1403.4V1318.6h2.7V1403.4zM1857.5,1403.4V1318.6h3.4V1403.4zM1875,1403.4V1318.6h3.7V1403.4zM1894.3,1403.4V1318.6h3.5V1403.4zM1913.1,1403.4V1318.6h2.8V1403.4zM1923.8,1403.4V1318.6h1.8V1403.4z"/>
<path fill="#ff3030" d="M464.8,1403.4 526.3,1403.4 525.8,1404.4 525.3,1414 524.8,1435.3 524.3,1449 523.8,1449.9 523.3,1450 522.8,1449.7 522.3,1450.4 521.8,1450.9 521.3,1450.4 520.3,1448.5 519.3,1446.8 518.8,1446.3 517.8,1446.3 516.8,1446.7 516.3,1446.4 515.8,1445.7 515.3,1446.1 514.3,1447.7 513.8,1448.4 512.8,1449.7 511.8,1450.5 511.3,1451.7 510.8,1453.3 510.3,1454.7 509.8,1454.4 509.3,1452.9 508.8,1452.2 508.3,1452.1 507.8,1452 506.8,1449.7 506.3,1449.7 505.3,1450.6 504.3,1450.2 503.8,1450.5 503.3,1451.8 502.8,1453.2 501.8,1455.5 501.3,1456.3 500.8,1454.5 500.3,1452.7 499.3,1450.4 498.8,1449.8 498.3,1449.8 497.8,1449.4 496.8,1446.7 496.3,1444.7 495.8,1442 495.3,1438.7 494.8,1437 494.3,1435.4 493.8,1433.5 492.8,1429.4 492.3,1427.9 491.8,1428.8 491.3,1430.1 490.8,1430.8 490.3,1431.5 489.3,1434.6 488.8,1436.6 488.3,1438.6 487.8,1440.2 487.3,1440.3 486.8,1440.2 486.3,1440.8 485.8,1441.9 485.3,1442.8 484.8,1442.4 484.3,1442.2 483.8,1442.3 483.3,1442.9 482.8,1443.3 482.3,1443.8 481.8,1444.5 481.3,1446.1 480.3,1449.4 479.8,1450.8 479.3,1451.8 478.8,1452.5 477.8,1452.3 477.3,1453 476.8,1453.3 476.3,1452.9 475.3,1451.2 474.8,1451.1 474.3,1451.3 473.8,1451.3 473.3,1451.2 472.8,1451 472.3,1450.4 471.8,1449.5 471.3,1448.3 470.8,1446.8 470.3,1445.7 469.8,1445.1 469.3,1444.6 468.8,1442.5 468.3,1440.6 467.8,1438.8 467.3,1437.2 466.8,1430.4 466.3,1423.1 465.8,1414.3 465.3,1405 464.8,1403.4ZM575.8,1431.6 587.3,1431.6 587.8,1428.8 588.3,1424.8 588.8,1423.9 633.8,1423.9 634.3,1404.6 634.8,1403.4 667.3,1403.4 666.8,1404.4 666.3,1410.9 665.8,1424.8 665.3,1439.3 664.8,1445.6 664.3,1447.3 663.8,1448.7 663.3,1449.3 662.3,1451.5 661.3,1451.5 660.8,1452 659.8,1455.7 659.3,1456.4 658.8,1455.4 658.3,1454.4 657.3,1455.3 656.8,1455 656.3,1454.2 655.8,1453.5 654.8,1453.2 654.3,1453.1 652.8,1454 652.3,1454.4 651.8,1455 651.3,1456 650.8,1456.9 649.8,1458 649.3,1458.7 648.8,1459.4 648.3,1460.1 647.3,1460.4 646.8,1460.5 645.8,1460.9 644.8,1461.7 644.3,1461.9 643.8,1461.5 643.3,1460.7 642.3,1458 641.8,1457.1 641.3,1457.7 640.8,1458.6 639.8,1458.5 639.3,1459.4 638.3,1461.2 637.3,1460.9 636.8,1460.8 636.3,1461 635.8,1460.5 634.8,1457.2 634.3,1456.3 633.8,1456.1 633.3,1455.8 632.3,1454.5 631.8,1453.2 631.3,1451.7 630.8,1451.2 630.3,1451.8 629.8,1452.4 629.3,1452.9 628.3,1453.5 627.3,1455.7 626.8,1456.7 626.3,1457 625.8,1457 625.3,1456.5 624.8,1456 624.3,1455.6 623.8,1455.5 623.3,1455.2 622.8,1454.3 622.3,1453.3 621.8,1452.9 621.3,1454 620.8,1455.3 620.3,1455 619.8,1454.5 619.3,1454.6 618.3,1457 617.8,1457.8 617.3,1458.6 616.8,1459 615.8,1457.2 615.3,1457.1 614.8,1457.2 614.3,1457 613.3,1456.1 612.8,1455 612.3,1453.8 611.8,1453.2 610.8,1453.3 609.8,1453.2 609.3,1453.5 608.3,1455.7 607.8,1456.2 607.3,1456.5 606.8,1457.4 605.8,1459.9 605.3,1460.8 604.8,1461.6 604.3,1462.7 603.3,1465.4 602.8,1467.5 602.3,1469.4 601.8,1467.7 600.8,1461.9 600.3,1460.3 598.8,1457.2 598.3,1457.1 597.8,1456.4 597.3,1455.4 596.8,1454.6 596.3,1454.4 594.8,1453.3 594.3,1452.9 593.8,1452.3 593.3,1450.9 592.8,1449.2 592.3,1447.4 591.8,1445.9 590.8,1443.9 590.3,1442.2 589.8,1442.4 589.3,1443 588.3,1445.4 587.8,1446.5 586.8,1448.6 585.8,1451 585.3,1452.1 584.8,1452.6 584.3,1453 583.3,1453.2 582.8,1452.7 582.3,1451.7 581.8,1450.8 580.8,1451.9 580.3,1452 579.8,1451.5 579.3,1450.4 578.3,1447.1 577.8,1446.1 577.3,1445.6 576.8,1444.9 575.8,1431.6ZM730.4,1403.4 746.4,1403.4 746.9,1414.4 747.4,1429.5 806.4,1429.5 806.9,1413.6 807.4,1403.4 808.4,1403.4 807.9,1406.5 807.4,1416.6 806.9,1431.9 806.4,1446.3 805.9,1445.3 805.4,1444.2 804.9,1442.9 804.4,1441.5 803.9,1441.2 802.9,1444.3 802.4,1445.3 801.9,1446.3 801.4,1447.3 800.4,1448.6 799.9,1449.6 798.9,1451.2 797.9,1453.3 797.4,1454.5 796.9,1455.1 796.4,1455.5 795.4,1454.1 794.9,1454.1 794.4,1454.5 793.9,1454.4 792.9,1452.7 792.4,1452.8 791.9,1453.5 791.4,1454.1 790.9,1453.7 790.4,1453.3 789.9,1452.7 789.4,1452.1 788.9,1451.5 787.9,1451.8 787.4,1451.5 786.9,1451.1 786.4,1450.7 785.4,1451.3 784.9,1450.9 784.4,1449.9 783.9,1449.1 783.4,1449.5 782.9,1450.1 782.4,1450 781.4,1448.9 780.9,1448.9 780.4,1449.1 779.9,1449.3 779.4,1449.7 778.9,1450.1 778.4,1451.7 777.9,1453.2 777.4,1453.5 776.9,1452.8 776.4,1452.1 775.4,1453.1 774.9,1453 773.9,1451.1 772.9,1449 772.4,1447.8 771.4,1445.2 770.4,1442.3 769.9,1441 768.9,1438.9 768.4,1437 767.9,1437.1 767.4,1437.8 766.9,1439 766.4,1441 765.4,1448 764.9,1451 764.4,1452 763.9,1452.7 763.4,1454.1 762.9,1455.2 762.4,1454.2 761.4,1451.8 760.9,1450.7 760.4,1449.5 759.9,1447.8 758.9,1443.7 758.4,1441.7 757.9,1440.7 757.4,1441.1 756.4,1442.8 755.9,1443.4 755.4,1444.1 754.9,1444.6 754.4,1444.6 753.9,1444.6 753.4,1445.1 752.9,1445.4 752.4,1446 751.4,1448.3 750.9,1448.5 750.4,1447.5 749.9,1446.1 749.4,1444.1 748.9,1442.6 748.4,1443.1 747.9,1443.7 747.4,1444.5 746.9,1445.8 746.4,1447.3 745.4,1450.1 744.9,1451.5 744.4,1452.2 743.9,1452.8 742.9,1454.1 742.4,1454.9 741.9,1455.4 741.4,1455.9 740.4,1456.4 739.9,1456.3 738.9,1452.9 738.4,1452.6 737.9,1452.8 737.4,1452.8 736.9,1452.1 735.9,1450.5 735.4,1449.7 734.9,1448.8 733.9,1445.8 733.4,1444.8 732.4,1435 731.9,1430.3 731.4,1424.7 730.9,1413.7 730.4,1403.4ZM858.9,1431.2 945.4,1431.2 945.9,1422.8 946.4,1403.4 996.4,1403.4 996.9,1417.4 997.4,1428.8 1026.9,1428.8 1026.4,1441 1025.9,1453.9 1024.9,1454.8 1023.9,1455.9 1023.4,1456.3 1022.9,1456.9 1022.4,1457.4 1021.9,1457.5 1020.9,1457.6 1020.4,1457.8 1019.9,1458 1019.4,1458.2 1018.9,1458.2 1018.4,1458.4 1017.4,1460 1016.9,1460.1 1016.4,1460.2 1015.9,1460.3 1015.4,1460.4 1014.9,1460.1 1014.4,1459.9 1013.9,1459.7 1013.4,1459.7 1012.4,1459.9 1011.9,1460.4 1011.4,1460.9 1010.9,1461.6 1010.4,1461.9 1009.9,1461.5 1009.4,1460.7 1008.9,1459.8 1007.9,1457.9 1007.4,1456.9 1006.9,1455.6 1005.9,1452.5 1005.4,1451.5 1004.4,1449.8 1003.9,1449 1003.4,1448.7 1002.9,1450.4 1002.4,1452.2 1001.9,1453.2 1001.4,1453.9 1000.9,1454.7 1000.4,1456.2 999.9,1457.8 999.4,1458.8 998.9,1459.6 998.4,1460.2 997.4,1460.6 996.9,1459.9 996.4,1458.1 995.9,1455.7 994.9,1452.3 994.4,1449.7 993.9,1448 993.4,1447.6 992.4,1447.1 991.9,1447.4 990.9,1451.1 989.9,1452.7 989.4,1453.5 988.4,1455.3 987.9,1456.1 987.4,1456.7 986.9,1457 985.9,1455.7 984.9,1454.4 984.4,1454.2 983.9,1454.2 983.4,1453.8 982.4,1450.3 981.9,1449.2 981.4,1448.8 980.4,1448 979.9,1447.7 979.4,1447.3 978.4,1446.3 977.9,1446.7 977.4,1447.4 976.9,1447.3 975.9,1445.4 974.9,1447.3 974.4,1447.9 973.4,1448.4 972.4,1448.2 971.9,1448 970.9,1445.7 969.9,1444.5 969.4,1444 968.9,1443.5 968.4,1443.1 967.4,1443 966.9,1442.9 965.9,1442.3 964.9,1442 964.4,1442.1 963.4,1442.9 962.9,1443.1 961.9,1444 960.9,1444.6 960.4,1444.4 959.9,1444.2 959.4,1444.1 958.4,1445.7 957.9,1445.4 957.4,1444.9 956.9,1445 956.4,1445.7 955.9,1446.4 955.4,1445.4 954.9,1444.2 954.4,1443.3 953.9,1442.9 953.4,1441.8 952.9,1441 952.4,1440.3 951.9,1439.2 951.4,1437.2 950.9,1436 950.4,1435.3 949.9,1434.7 949.4,1434 948.9,1433.1 948.4,1433 947.9,1432.8 947.4,1432.5 946.9,1432.7 946.4,1434.2 945.9,1436.6 945.4,1437.7 944.9,1438.3 944.4,1439.2 943.9,1441.1 943.4,1443.9 942.4,1449.8 941.9,1451.3 940.9,1452.3 940.4,1452.1 939.9,1449.7 939.4,1447.5 938.9,1445.7 938.4,1444.2 937.9,1443.7 937.4,1443.7 936.9,1443.3 936.4,1441.6 935.9,1441 935.4,1441.4 934.9,1442 934.4,1442.7 933.9,1443.5 933.4,1444.5 932.9,1446.3 932.4,1448.4 931.9,1450.2 931.4,1450.2 930.9,1449 930.4,1448.5 929.9,1448.4 929.4,1448.4 928.9,1449 928.4,1449.1 927.9,1448.8 926.4,1447.3 925.9,1446.8 925.4,1446.2 924.9,1445.3 924.4,1444.5 923.4,1443.4 922.9,1443 922.4,1442.6 921.9,1442.3 920.9,1443.1 920.4,1443 919.4,1441.9 918.4,1440.2 917.9,1439.7 916.9,1439.4 915.9,1439.4 915.4,1439.2 914.9,1438.9 914.4,1438.9 913.4,1437.8 912.9,1437.6 911.9,1437.9 910.9,1436.6 910.4,1436.4 909.4,1436.8 908.4,1438 907.9,1438.3 906.9,1438.5 905.9,1438.9 905.4,1439 904.4,1439.2 903.4,1439.6 902.9,1439.3 901.9,1437.2 901.4,1437.6 900.9,1438.2 900.4,1438.6 899.4,1438.6 898.9,1437.9 898.4,1437.1 897.9,1436.6 896.4,1436.5 895.9,1436.6 895.4,1437 894.4,1437.4 893.9,1438.4 893.4,1439.5 892.9,1440.3 892.4,1440.7 891.9,1442.3 891.4,1444.2 890.9,1446.1 890.4,1447.9 889.9,1449.4 889.4,1450.5 888.9,1451.3 888.4,1452.1 887.9,1453.2 887.4,1453.7 886.9,1453 886.4,1451.7 885.9,1450.4 885.4,1449.2 884.9,1448.6 884.4,1448.1 883.9,1447.5 883.4,1446.8 882.9,1446.3 881.9,1445.9 881.4,1444.9 880.9,1444.1 880.4,1443.9 879.4,1446.1 878.9,1446 878.4,1445.5 877.9,1445.3 876.9,1446.8 876.4,1446.4 875.9,1445.6 875.4,1445 874.9,1445.1 874.4,1444.9 873.9,1443.8 873.4,1442.3 872.9,1441.1 871.9,1439.6 871.4,1440.1 870.9,1440.8 870.4,1441.3 869.9,1441.4 869.4,1441.5 868.9,1442.3 868.4,1443.2 867.9,1443.9 866.9,1444 866.4,1444.9 865.9,1445.6 865.4,1446.1 864.9,1445.4 864.4,1444.7 863.9,1444.2 863.4,1443.8 862.9,1443.2 861.9,1441.6 861.4,1440.6 860.9,1438.8 860.4,1436.7 859.4,1433.4 858.9,1431.2ZM1129.4,1403.4 1165.4,1403.4 1164.9,1404.6 1164.4,1405.3 1163.9,1406.1 1162.9,1407.2 1161.9,1408.9 1161.4,1409.5 1160.4,1409.8 1159.9,1410.9 1159.4,1414.5 1158.9,1422.3 1158.4,1428.7 1157.9,1436.4 1157.4,1444.4 1156.9,1446.6 1156.4,1445.9 1155.9,1442.8 1155.4,1437.8 1154.9,1433 1154.4,1426.5 1153.9,1420.4 1153.4,1415.3 1152.9,1415.5 1152.4,1415.3 1151.9,1415.4 1151.4,1416.8 1150.4,1419.7 1149.9,1420.8 1149.4,1421.6 1148.9,1422.3 1148.4,1422.9 1147.9,1423.6 1147.4,1424.5 1146.9,1424.8 1146.4,1424.5 1145.4,1423.5 1144.9,1423.3 1143.9,1422.3 1143.4,1421.8 1141.9,1420.5 1141.4,1420 1140.4,1417.9 1139.9,1417.8 1139.4,1418.1 1138.9,1418.1 1137.9,1416 1137.4,1415.2 1136.9,1414.5 1136.4,1413.9 1135.4,1413.8 1134.9,1414 1134.4,1414.3 1133.9,1414.3 1133.4,1414 1132.9,1413.7 1132.4,1412.8 1131.9,1411.6 1131.4,1409.9 1130.4,1406.5 1129.9,1404.7 1129.4,1403.4ZM1170.9,1403.4 1188,1403.4 1187.5,1405.2 1187,1406.4 1186.5,1407 1186,1407 1185.5,1406.1 1185,1405.1 1184.5,1404.9 1184,1405 1183.5,1407.8 1183,1412.2 1182.4,1412.8 1181.4,1412.4 1180.9,1414 1180.4,1416.3 1179.9,1418 1179.4,1419.3 1178.9,1422.2 1177.9,1429.5 1177.4,1431.8 1176.9,1433.8 1176.4,1436.5 1175.9,1439.8 1175.4,1440.2 1174.4,1439.1 1173.9,1438.6 1173.4,1432.3 1172.9,1426.2 1172.4,1419.4 1171.9,1412.5 1171.4,1405.7 1170.9,1403.4ZM1188,1403.4 1192.5,1403.4 1192,1405.2 1191.5,1406.4 1191,1406.4 1190.5,1405.7 1189.5,1406.1 1189,1405.6 1188.5,1404.7 1188,1403.4ZM1214,1428.8 1249.5,1428.8 1249,1431 1248.5,1433.5 1248,1436.4 1247,1441.7 1246.5,1444.1 1246,1446 1245.5,1448 1244.5,1453 1244,1454.7 1243.5,1454.2 1243,1453.4 1242,1452.4 1241,1451 1240.5,1450.7 1240,1450 1239.5,1448.8 1239,1448.6 1238.5,1448.4 1238,1447.8 1237.5,1447 1237,1446.6 1236.5,1446.9 1235.5,1449 1235,1450 1234.5,1450.6 1234,1449.7 1233.5,1448.6 1233,1447.9 1232,1447.8 1231,1448.1 1230.5,1448.1 1229.5,1447.7 1229,1448 1228.5,1448.4 1228,1448.5 1227,1447.9 1226.5,1446.9 1226,1445.8 1225.5,1445.2 1225,1445.6 1224.5,1445.9 1224,1444.9 1223.5,1443.6 1223,1442.4 1222.5,1441.8 1222,1442.2 1221.5,1443.2 1221,1444.4 1220.5,1447.1 1219.5,1454.2 1219,1456.4 1218.5,1454.4 1218,1452.2 1217.5,1449.7 1217,1447 1216.5,1444.6 1216,1442.3 1215.5,1440 1215,1437.9 1214.5,1433.3 1214,1428.8ZM1252,1428.8 1258.5,1428.8 1259,1428.4 1259.5,1415.3 1260,1403.4 1293,1403.4 1293.5,1409.9 1294,1420.8 1293.5,1414.6 1293,1409.8 1292.5,1407.8 1292,1407.3 1291,1406.5 1290,1405.9 1289.5,1405.8 1289,1406 1288.5,1406.4 1287.5,1407 1287,1407.1 1286.5,1406.5 1286,1405.8 1285.5,1405.4 1285,1405.2 1284.5,1405.7 1283.5,1407.2 1283,1407.8 1282.5,1408.4 1282,1409.3 1281.5,1409.8 1281,1410.4 1280.5,1411.8 1280,1413.5 1279.5,1415 1279,1416.2 1278.5,1417.5 1278,1417.4 1277.5,1416.1 1277,1414.9 1276,1414.1 1275,1414.8 1274.5,1414.7 1273.5,1411.9 1273,1410.7 1272.5,1409.7 1272,1408.8 1271.5,1408.4 1271,1409 1270.5,1409.2 1270,1409 1269.5,1408.8 1269,1408.8 1268,1408.4 1267.5,1408.3 1267,1408.3 1266.5,1409.9 1266,1411.8 1265.5,1413.5 1265,1415 1264.5,1416.6 1264,1418.9 1263.5,1420.8 1263,1421.7 1262.5,1422.1 1262,1422.7 1261,1426.5 1260.5,1427.8 1260,1428.7 1259.5,1429.7 1258.5,1430.9 1258,1432.3 1257.5,1433.5 1257,1434.3 1256,1434.4 1255,1434.6 1254.5,1434.2 1253.5,1432.1 1253,1431 1252.5,1429.8 1252,1428.8ZM1294.5,1428.8 1369,1428.8 1369.5,1416.4 1370,1403.4 1372,1403.4 1371.5,1407.9 1371,1429 1370.5,1450.2 1370,1451 1369.5,1451.3 1368.5,1452 1367.5,1452.9 1367,1453.7 1366.5,1454.3 1366,1454.4 1365,1453.8 1364.5,1453.6 1364,1453.6 1363.5,1453.8 1362.5,1455.2 1362,1454.9 1361.5,1454.3 1361,1454.1 1360.5,1454.4 1360,1454.7 1359.5,1454.3 1359,1453.7 1358.5,1453.6 1357.5,1454.9 1357,1454.6 1356.5,1453.9 1356,1454.1 1355,1456.4 1354.5,1456.6 1354,1456.6 1353.5,1456.7 1352,1458.8 1351.5,1459.6 1351,1460.1 1350,1460.3 1349.5,1460.8 1349,1461.2 1348.5,1460.9 1347.5,1459.5 1347,1459.2 1346.5,1459 1346,1458.4 1345,1455.2 1344.5,1454.4 1344,1453.9 1343.5,1453.8 1342.5,1453 1342,1452.2 1341.5,1451.2 1341,1450.3 1340.5,1450.2 1339,1450.1 1338.5,1450.2 1337.5,1451.7 1337,1451.6 1336,1450.9 1335,1449.9 1334.5,1450.2 1334,1451.1 1333.5,1451.8 1332.5,1450.6 1332,1450.6 1331,1451.5 1330,1452.1 1329.5,1452.7 1328.5,1454.5 1328,1455.1 1327.5,1455.6 1327,1455.5 1326.5,1454.9 1326,1454.4 1325,1455.8 1324.5,1456 1323.5,1455.4 1323,1455.4 1322.5,1455.6 1322,1456.2 1321,1457.1 1320,1460 1319.5,1461.1 1318.5,1460.7 1317.5,1462 1316.5,1463.4 1315,1463.3 1314.5,1462.9 1314,1462.3 1313.5,1462.3 1313,1463.3 1312.5,1464.4 1312,1465.2 1311,1466.4 1310.5,1467.7 1310,1470.7 1309.5,1475.2 1308.5,1484.8 1308,1486 1307.5,1486.1 1306.5,1485.2 1306,1483 1305,1478.1 1304.5,1476 1303.5,1471.7 1303,1469.4 1302.5,1467.5 1302,1467.2 1301,1467.1 1300.5,1466.2 1300,1464.8 1299.5,1463.3 1298.5,1459.7 1298,1458.8 1297.5,1457.9 1297,1457 1296.5,1453.5 1296,1446.5 1295.5,1438.5 1295,1430.3 1294.5,1428.8ZM1437.5,1428.8 1528.5,1428.8 1528,1431.6 1527.5,1435.5 1527,1439.3 1526.5,1442.5 1526,1444.6 1525.5,1443.2 1524.5,1439.1 1524,1437.5 1523,1435.5 1522,1433.1 1521.5,1432.8 1520.5,1432.8 1519.5,1432.4 1519,1432.8 1518,1434.9 1517,1436.6 1516.5,1437.2 1515.5,1437.7 1515,1437.3 1514.5,1436.9 1514,1436.7 1513,1437.1 1512,1438 1511.5,1438.5 1510.5,1439.9 1510,1439.6 1509.5,1439.2 1509,1439.3 1508.5,1440.3 1508,1440.3 1507.5,1438.8 1507,1437 1506.5,1436 1506,1436.1 1505.5,1436.9 1505,1436.4 1504.5,1435.6 1504,1435.3 1503.5,1436.9 1503,1439.9 1502.5,1442.4 1501.5,1447 1501,1448.6 1500.5,1449.3 1500,1449.8 1499.5,1450.2 1499,1450.4 1498.5,1449.5 1498,1448.2 1497.5,1447.4 1496.5,1446.2 1495.5,1445.2 1495,1445 1494,1444.9 1493,1444.7 1492,1444.3 1491.5,1443.9 1490.5,1442.5 1490,1442.5 1489.5,1442.6 1489,1442.6 1488,1441.8 1487,1440.7 1486.5,1439.8 1485.5,1436.2 1485,1435.7 1484.5,1436.4 1484,1436.9 1483,1435.1 1482.5,1434.9 1481.5,1438.5 1480.5,1441.7 1480,1443.1 1479.5,1444.5 1479,1446 1478,1449.7 1477.5,1451.5 1477,1451.9 1476.5,1452.1 1476,1450.5 1475.5,1448.7 1475,1447.9 1474.5,1447.9 1474,1447.7 1473.5,1445.6 1473,1443.8 1472.5,1442.9 1471.5,1442.1 1470.5,1440.9 1470,1440.5 1469,1439.9 1468,1439.6 1467.5,1439.6 1467,1439.7 1466.5,1439.7 1466,1438.7 1465.5,1437.8 1465,1437.5 1464.5,1437.7 1464,1437.7 1463,1435.3 1462.5,1435.1 1462,1436.4 1461.5,1437.7 1460.5,1436.9 1460,1437.2 1459.5,1438 1459,1438.8 1458.5,1438.4 1458,1438.1 1457.5,1438.5 1456.5,1440.5 1455.5,1442.2 1455,1442.7 1454,1442.8 1453,1442.9 1452.5,1443.2 1452,1443.8 1451.5,1444.2 1450.5,1443.9 1450,1443.9 1449,1444.2 1448,1443.5 1447.5,1444 1446.5,1445.1 1446,1446.2 1445.5,1447.3 1445,1448.2 1444,1448.7 1443.5,1450.1 1443,1451.1 1442.5,1450.7 1442,1449.9 1441.5,1449.1 1440.5,1446.4 1440,1444.6 1439,1439.7 1438.5,1437.1 1438,1431.5 1437.5,1428.8ZM1541,1428.8 1541.5,1418 1542,1404.9 1542.5,1403.4 1577,1403.4 1576.5,1404.9 1576,1405.7 1575.5,1406.2 1574.5,1406.5 1574,1406.4 1573.5,1406.4 1573,1406.6 1572,1407.7 1571.5,1409 1570.5,1412.1 1569.5,1414.3 1569,1415 1568.5,1415.6 1568,1415.1 1567,1415 1566.5,1414.6 1565.5,1412.8 1564.5,1410.9 1564,1410.1 1563.5,1409.7 1563,1409.5 1562,1410.5 1561.5,1410.1 1561,1409.6 1560.5,1409.6 1559.5,1411.8 1559,1412.6 1558.5,1413.5 1558,1414.6 1557,1416.2 1556.5,1416.8 1556,1417.4 1555.5,1418 1554.5,1419.8 1554,1421 1553.5,1422.2 1553,1423.4 1552.5,1424.2 1552,1424.7 1551.5,1425.9 1551,1427.4 1550.5,1428.8 1550,1427.9 1549.5,1426 1549,1424.2 1548.5,1422.5 1548,1421.1 1547,1418.3 1546.5,1416.9 1546,1416.7 1545.5,1416.7 1544.5,1417.9 1544,1419.1 1543.5,1420.7 1543,1422 1542,1421 1541.5,1421.6 1541,1428.8ZM1585,1403.4 1602.5,1403.4 1602,1404.3 1601.5,1405.1 1601,1406.1 1600.5,1406.7 1599.5,1407.3 1598.5,1408.4 1598,1408.6 1597,1408.1 1596,1408.4 1595.5,1409.1 1594.5,1411.3 1593.5,1411 1593,1411 1592,1411.5 1591,1410.9 1590.5,1410.3 1589.5,1408.8 1589,1408.8 1588.5,1408.8 1588,1409.1 1587.5,1409.7 1587,1409.8 1586.5,1408 1586,1406.1 1585.5,1404.4 1585,1403.4ZM1609.5,1403.4 1620,1403.4 1619.5,1405.2 1618.5,1408.8 1618,1410.1 1617.5,1411.1 1617,1411 1616,1410.5 1615.5,1410.4 1615,1410.1 1614.5,1409.3 1613.5,1408.5 1613,1408.6 1612.5,1409 1612,1409.2 1611.5,1407.9 1611,1406.4 1610.5,1405.2 1610,1404.4 1609.5,1403.4ZM1628.5,1403.4 1633,1403.4 1632,1405.2 1631,1406.7 1630.5,1407.1 1630,1407.5 1629.5,1407.6 1629,1405.6 1628.5,1403.4ZM1643,1403.4 1644,1403.4 1643.5,1404.6 1643,1403.4ZM1655.5,1403.4 1666,1403.4 1665.5,1404.7 1665,1406.5 1664.5,1408.1 1663.5,1410.7 1663,1412.7 1662.5,1413.3 1662,1413.3 1661,1412.2 1660.5,1412.9 1660,1412.3 1659.5,1411.6 1658.5,1409.9 1657.5,1407.1 1657,1406.1 1656,1405.3 1655.5,1403.4ZM1672.5,1403.4 1674.5,1403.4 1674,1404.9 1673.5,1405.8 1673,1404.9 1672.5,1403.4ZM1681,1403.4 1713.1,1403.4 1712.6,1405.3 1711.6,1407.5 1711.1,1408.7 1710.1,1411.6 1709.6,1412 1708.6,1409.6 1707.6,1407.1 1707.1,1406.5 1706.1,1405.8 1705.1,1405 1704.6,1404.6 1704.1,1404.7 1703.6,1405.4 1702.6,1405.5 1702.1,1406.8 1701.6,1408.7 1701.1,1410.5 1700.1,1411.6 1699.6,1412.4 1699.1,1412.8 1698.6,1412.9 1697.6,1413.9 1696.6,1414.7 1696.1,1415.2 1695.6,1415.9 1695.1,1416.1 1694.6,1415.8 1694.1,1415.3 1693.6,1414.7 1692.6,1412.3 1692.1,1412.1 1691.6,1412.1 1691.1,1412.1 1690.1,1412.3 1689.6,1411.3 1689.1,1409.9 1688.6,1408.7 1688.1,1409 1687.6,1409.3 1687.1,1409.9 1686.6,1410.6 1686.1,1411 1685.1,1408.6 1684.6,1408.1 1684,1408 1683.5,1407.9 1682.5,1408.4 1682,1407.5 1681.5,1405.7 1681,1403.4ZM1716.1,1403.4 1735.1,1403.4 1734.6,1404.7 1734.1,1405.2 1733.1,1406.4 1732.6,1407 1731.6,1406 1731.1,1406.2 1730.1,1408.2 1729.6,1408.7 1729.1,1408.7 1728.6,1408.6 1727.6,1408.2 1726.6,1407.8 1726.1,1408 1725.1,1408.2 1723.6,1409.7 1722.6,1410.1 1721.6,1409.4 1721.1,1409.5 1720.6,1410.2 1720.1,1410.2 1719.6,1408.6 1719.1,1406.7 1718.6,1405.9 1717.6,1406.9 1717.1,1405.8 1716.6,1404.5 1716.1,1403.4ZM1739.1,1403.4 1934.6,1403.4 1934.1,1415.5 1933.6,1450.1 1933.1,1449.7 1932.1,1448.8 1931.6,1448.9 1931.1,1449.2 1930.6,1449.4 1929.6,1449.3 1929.1,1448.9 1928.6,1448.5 1928.1,1448 1927.1,1446.2 1926.6,1446.3 1926.1,1446.4 1925.6,1446.8 1925.1,1447.4 1924.6,1448.4 1924.1,1448.8 1923.1,1449.5 1922.1,1450.1 1921.6,1449.7 1921.1,1449.3 1920.6,1449.3 1919.6,1450.4 1919.1,1451.5 1918.6,1452.6 1918.1,1453.6 1917.6,1453.7 1917.1,1453.3 1916.1,1452 1915.6,1451.2 1915.1,1449.8 1914.6,1448.1 1914.1,1447.3 1913.6,1446.6 1912.6,1444.8 1912.1,1444 1911.1,1442.1 1910.6,1441.2 1910.1,1441.7 1909.6,1442.4 1909.1,1442.3 1908.6,1442.1 1908.1,1442.2 1907.1,1445.3 1906.6,1447.4 1906.1,1449.7 1905.6,1451.2 1904.6,1449.5 1904.1,1449.7 1903.6,1450.1 1903.1,1450.7 1902.1,1452.9 1901.6,1452.6 1901.1,1452 1900.6,1451.4 1899.6,1449.5 1899.1,1449.4 1898.1,1449.8 1897.1,1450.2 1896.6,1449.6 1896.1,1448.7 1895.6,1448.1 1894.6,1449.1 1894.1,1449.1 1893.1,1448.8 1892.1,1448.6 1891.6,1448.2 1891.1,1447.7 1890.6,1447.1 1889.6,1445 1889.1,1444.6 1888.6,1444.5 1888.1,1444.3 1887.1,1443.1 1886.6,1443 1885.6,1443.2 1884.6,1443.1 1884.1,1443.1 1883.6,1442.9 1883.1,1442.7 1882.1,1443.1 1881.6,1443.1 1880.6,1442.6 1879.6,1442.6 1879.1,1442.7 1878.6,1442.8 1878.1,1442 1877.1,1438.1 1876.6,1436.9 1876.1,1436.2 1875.6,1435.9 1874.6,1435.7 1874.1,1435.2 1873.6,1434.7 1873.1,1434.7 1872.1,1434.6 1871.6,1434.1 1871.1,1433.4 1870.6,1432.7 1869.6,1434.1 1868.1,1436.3 1867.6,1437.4 1867.1,1438.4 1866.6,1439 1865.1,1439.7 1864.6,1439.9 1864.1,1439.6 1863.1,1439.2 1862.1,1439.1 1861.6,1439 1860.6,1437.6 1860.1,1437.9 1859.6,1438.1 1859.1,1437.8 1858.6,1436.7 1858.1,1436 1857.1,1435.5 1856.6,1435.4 1855.6,1435.5 1855.1,1436.3 1854.6,1437.3 1854.1,1437.8 1853.1,1438 1852.1,1437.9 1851.6,1438 1850.6,1439 1849.6,1440.2 1849.1,1440.8 1848.1,1441.6 1847.6,1440.8 1847.1,1440 1846.6,1439.7 1845.6,1441 1845.1,1441 1844.6,1440.9 1844.1,1440.2 1843.1,1439.9 1842.6,1439.5 1842.1,1439 1841.6,1437.8 1840.6,1434.5 1840.1,1433 1839.6,1431.9 1839.1,1431.4 1838.1,1431.2 1837.6,1430 1837.1,1429.2 1836.6,1429.3 1835.6,1432.3 1835.1,1432.8 1834.1,1433.6 1833.1,1433.8 1832.6,1435.1 1832.1,1436.7 1831.6,1437.9 1830.6,1438.7 1830.1,1438.7 1829.6,1438.7 1829.1,1438.5 1828.6,1436.9 1828.1,1434.6 1827.6,1432.9 1826.6,1430 1826.1,1427.8 1825.6,1425.5 1825.1,1423.7 1824.6,1422.5 1824.1,1423 1823.1,1422.8 1822.6,1423.4 1821.1,1427.1 1820.6,1428.3 1819.6,1430.6 1819.1,1431.5 1818.6,1431.6 1818.1,1431.6 1817.6,1430.6 1817.1,1429.5 1816.6,1428.3 1815.6,1424.8 1815.1,1424 1814.1,1422.7 1813.6,1422.4 1813.1,1423.4 1812.6,1424.8 1812.1,1426.4 1811.6,1428.7 1810.6,1433.2 1810.1,1435.7 1809.6,1438 1809.1,1440.4 1808.6,1443.7 1808.1,1445 1807.6,1443.1 1807.1,1440.4 1806.6,1437.8 1806.1,1436.8 1805.6,1436.3 1805.1,1434.8 1804.6,1432.5 1804.1,1430.3 1803.6,1430 1803.1,1430.3 1802.6,1429.8 1802.1,1428.7 1801.6,1427.7 1800.6,1429.1 1800.1,1429 1799.1,1427 1798.1,1427.9 1797.6,1427.6 1797.1,1426.5 1796.6,1425.2 1795.6,1423.6 1795.1,1423 1794.6,1422.8 1794.1,1422.6 1793.1,1421.2 1792.6,1420.9 1791.6,1421.1 1791.1,1421.3 1790.6,1421.6 1790.1,1421.5 1789.1,1420.3 1788.6,1420.1 1788.1,1420.1 1787.6,1420.6 1786.6,1422.5 1786.1,1422.2 1785.6,1421.8 1785.1,1421.5 1784.6,1421.2 1784.1,1420.3 1783.1,1419.4 1782.6,1419 1782.1,1418.8 1781.6,1418.4 1781.1,1417.4 1780.6,1416.3 1780.1,1415.2 1779.6,1414 1779.1,1413.2 1778.6,1414 1778.1,1415 1777.6,1415.5 1777.1,1415.9 1776.6,1416.4 1776.1,1417.4 1775.1,1419.4 1774.6,1420 1774.1,1420.5 1773.1,1421.2 1772.6,1421.9 1772.1,1423.4 1771.6,1424.1 1771.1,1423.7 1770.6,1423.1 1770.1,1422.3 1769.1,1419.9 1768.6,1419.5 1768.1,1419.3 1767.6,1419.2 1766.6,1419.7 1766.1,1419.3 1765.6,1418.7 1765.1,1418.2 1764.1,1417.1 1763.6,1417.1 1763.1,1417.3 1762.6,1417.4 1762.1,1416.9 1761.6,1416.5 1761.1,1417 1760.6,1417.7 1760.1,1418.2 1759.1,1417.5 1758.6,1417.9 1758.1,1418.7 1757.6,1419.7 1756.6,1420.1 1756.1,1420.9 1755.1,1423 1754.6,1422.9 1754.1,1422.7 1753.6,1422 1752.6,1420.3 1751.6,1418.7 1751.1,1418.1 1750.1,1416.9 1749.1,1416 1748.6,1415.6 1748.1,1415.2 1747.6,1415 1746.6,1416.7 1746.1,1416.7 1745.6,1416 1745.1,1415.1 1744.1,1414.2 1743.6,1413.5 1743.1,1412.6 1742.6,1411.4 1741.6,1409.7 1740.6,1408.1 1740.1,1407.3 1739.6,1405.4 1739.1,1403.4Z"/>
<path fill="#73b8ff" d="M571.8,1403.4 634.8,1403.4 634.3,1404.6 633.8,1423.9 588.8,1423.9 588.3,1424.8 587.8,1428.8 587.3,1431.6 574.3,1431.6 573.8,1430.1 572.3,1405.9 571.8,1403.4ZM746.4,1403.4 807.4,1403.4 806.9,1413.6 806.4,1429.5 747.4,1429.5 746.9,1414.4 746.4,1403.4ZM853.9,1403.4 946.4,1403.4 945.9,1422.8 945.4,1431.2 855.9,1431.2 855.4,1423.2 854.4,1405.2 853.9,1403.4ZM996.4,1403.4 1057.4,1403.4 1056.9,1416.3 1056.4,1428.8 997.4,1428.8 996.9,1417.4 996.4,1403.4ZM1198.5,1403.4 1260,1403.4 1259.5,1415.3 1259,1428.4 1258.5,1428.8 1200,1428.8 1199.5,1420.5 1199,1409.6 1198.5,1403.4ZM1293,1403.4 1370,1403.4 1369.5,1416.4 1369,1428.8 1294.5,1428.8 1294,1420.8 1293.5,1409.9 1293,1403.4ZM1434,1403.4 1542.5,1403.4 1542,1404.9 1541.5,1418 1541,1428.8 1436,1428.8 1435.5,1428.4 1434.5,1406.6 1434,1403.4Z"/>
<polyline fill="none" stroke="#050505" stroke-width="2.75" stroke-linejoin="round" points="431.3,1358.5 433.5,1357.9 435.9,1361.5 437.7,1363.9 440.1,1363.3 442,1360.9 445,1359.1 446.8,1362.1 448.6,1365.2 450.4,1366.4 452.2,1363.9 454.1,1359.7 455.9,1359.1 457.7,1362.7 459.5,1365.2 461.9,1363.9 464.4,1360.9 466.2,1359.7 468.6,1359.7 471,1360.3 473.4,1362.7 476.5,1365.2 480.1,1367.6 483.1,1366.4 486.1,1363.9 488.6,1360.3 490.4,1355.4 492.2,1352.4 494,1356.6 495.8,1361.5 498.3,1366.4 501.3,1370.6 503.7,1367.6 506.7,1366.4 509.8,1368.8 512.8,1366.4 515.8,1362.7 518.8,1362.7 521.9,1363.9 524.9,1363.9 528.5,1362.7 532.2,1362.7 535.2,1366.4 537,1370 539.4,1370 541.8,1365.2 543.7,1363.3 546.1,1363.9 548.5,1365.2 550.9,1367.6 553.4,1370 555.8,1366.4 558.2,1359.1 560,1357.9 561.8,1361.5 563.6,1365.2 566.1,1366.4 567.9,1362.7 570.3,1360.3 572.1,1359.7 574.5,1360.9 577,1362.1 580,1363.3 583,1363.9 585.4,1363.3 587.9,1360.3 590.3,1357.2 592.1,1360.3 593.9,1364.6 596.3,1367 598.8,1368.8 600.6,1372.5 602.4,1377.3 604.8,1373.1 607.2,1369.4 609.7,1367.6 612.1,1366.4 614.5,1368.8 616.9,1370.6 619.3,1368.2 621.8,1366.4 624.2,1367.6 626.6,1368.2 629,1367 631.5,1365.8 633.9,1368.8 636.3,1371.2 639.3,1371.9 641.7,1370 644.2,1372.5 647.2,1372.5 649.6,1370 652,1367 654.5,1365.8 656.9,1367 659.3,1367.6 661.7,1363.9 664.1,1362.1 666.6,1361.5 669,1362.1 672.6,1362.7 674.5,1363 678.2,1362.5 681.8,1361.8 684.2,1361.5 686.6,1365.2 689.7,1369.4 692.7,1368.2 696.3,1367 700,1366.4 703.6,1365.8 707.2,1363.9 710.9,1361.5 713.3,1361.5 716.3,1363.9 719.3,1367.6 721.8,1369.4 724.8,1365.2 727.8,1362.1 730.8,1361.5 733.9,1362.1 736.9,1363.9 739.9,1366.4 742.3,1365.8 744.8,1363.3 747.2,1359.1 749,1357.2 750.8,1359.1 753.2,1358.5 755.7,1356.6 758.1,1355.4 760.5,1360.3 762.9,1363.9 764.7,1361.5 766.6,1355.4 768.4,1353.6 770.2,1356.6 772.6,1361.5 775,1364.6 778.1,1364.6 781.1,1363.3 783.5,1363.3 787.1,1364.6 790.8,1366.4 794.4,1367.6 797.4,1367.6 799.9,1365.2 802.3,1361.5 804.1,1359.7 805.9,1362.1 808.3,1365.2 810.8,1364.6 812.6,1359.1 814.4,1355.4 816.2,1357.9 818,1363.9 820.4,1369.4 822.3,1370 824.1,1365.2 826.5,1363.3 828.3,1364.6 830.1,1368.8 832.6,1371.9 835,1368.8 838,1366.4 841.6,1364.6 845.3,1363.9 848.3,1362.1 850.7,1360.9 853.7,1357.9 856.2,1354.8 858.6,1351.8 861,1354.8 863.4,1356 866.5,1356.6 869.5,1354.8 871.9,1354.2 874.9,1356.6 878,1357.9 881.6,1357.9 884.6,1360.3 887.6,1363.9 890.1,1359.1 892.5,1353 896.1,1350.5 901,1349.9 905.8,1351.2 909.4,1350.5 913.1,1349.9 915,1350.5 918.6,1353 922.3,1355.4 925.9,1357.9 928.9,1360.3 931.3,1360.9 933.8,1357.9 936.2,1355.4 938.6,1357.9 940.4,1360.9 942.2,1359.1 944.1,1353 946.5,1348.7 948.9,1348.1 951.3,1349.9 953.7,1354.8 956.8,1356.6 959.8,1356.6 962.8,1354.8 965.9,1353.6 968.9,1354.8 971.9,1356.6 974.9,1356 978,1355.4 981,1356 984,1357.9 987,1357.9 989.5,1354.8 991.9,1352.4 994.3,1354.2 996.7,1357.9 998.5,1358.5 1001,1355.4 1003.4,1353 1005.8,1354.2 1008.2,1357.2 1010.7,1359.1 1013.7,1357.2 1016.7,1356 1020.3,1355.4 1024,1355.4 1027.6,1353.6 1031.2,1353 1034.9,1353.6 1038.5,1354.2 1042.1,1352.4 1045.2,1353.6 1048.2,1356.6 1050.6,1358.5 1053,1351.8 1054.9,1346.9 1056.7,1345.7 1058.5,1349.3 1060.3,1353.6 1062.7,1356.6 1065.1,1357.9 1068.2,1356 1071.2,1354.2 1074.2,1350.5 1077.3,1346.3 1079.7,1343.2 1082.1,1342.6 1084.5,1344.5 1086.9,1346.3 1090,1345.7 1093,1346.3 1096,1348.1 1099,1344.5 1101.5,1341.4 1103.9,1340.2 1106.3,1342 1108.7,1344.5 1111.8,1346.3 1114.8,1345.7 1118.4,1346.9 1122.1,1348.1 1124.5,1345.7 1126.9,1343.2 1129.3,1345.7 1131.7,1349.9 1134.2,1351.8 1137.8,1350.5 1141.4,1351.8 1145.1,1352.4 1148.7,1350.5 1152.3,1349.3 1156,1349.9 1159.1,1354.8 1162.7,1353.6 1166.4,1351.2 1170,1349.9 1173.6,1350.5 1177.3,1353 1180.3,1357.9 1182.7,1359.1 1185.1,1355.4 1188.1,1354.8 1191.2,1356.6 1194.2,1353.6 1196.6,1351.8 1199,1353.6 1201.5,1357.9 1204.5,1359.7 1207.5,1357.9 1209.9,1353.6 1212.4,1353.6 1214.8,1356.6 1217.2,1360.3 1219,1362.1 1220.8,1355.4 1222.7,1353 1225.1,1354.2 1228.1,1356 1231.7,1357.9 1234.8,1359.1 1237.8,1357.9 1240.8,1359.7 1243.8,1363.9 1246.3,1360.3 1248.7,1354.2 1250.5,1353 1252.3,1356.6 1254.7,1361.5 1257.8,1364.6 1260.8,1363.3 1263.8,1360.3 1266.9,1355.4 1269.3,1357.2 1271.7,1357.9 1275.3,1357.2 1279,1356 1282.6,1355.4 1286.2,1356.6 1289.9,1356.6 1293.5,1357.2 1297.1,1356.6 1300.2,1354.8 1302.6,1353.6 1305,1357.9 1307.4,1362.7 1310.4,1365.8 1313.5,1366.4 1316.5,1368.2 1319.5,1367 1322.6,1362.7 1326.2,1360.3 1329.8,1357.9 1333.5,1355.4 1337.1,1354.8 1340.7,1355.4 1343.7,1356.6 1346.2,1360.9 1349.2,1362.7 1352.8,1360.9 1356.5,1359.1 1360.1,1359.7 1363.7,1359.1 1367.4,1359.7 1371,1360.3 1374.6,1358.5 1377,1361.5 1379.5,1367.6 1381.9,1361.5 1383.7,1354.2 1385.5,1353 1387.3,1357.9 1389.2,1363.9 1391.6,1367 1394,1362.7 1396.4,1359.7 1400,1360.9 1403.2,1362.8 1406.2,1361 1409.2,1357.3 1412.3,1355.5 1415.3,1357.9 1418.9,1359.7 1422.6,1356.7 1425.6,1354.3 1428.6,1356.1 1431.6,1359.1 1434.7,1356.7 1437.7,1357.3 1440.7,1359.7 1443.1,1361.6 1445.6,1358.5 1448,1356.1 1451.6,1356.1 1455.2,1353.6 1458.9,1350.6 1462.5,1349.4 1466.1,1351.2 1469.8,1354.3 1473.4,1357.3 1475.8,1360.3 1477.6,1361.6 1480.1,1356.1 1482.5,1350.6 1484.9,1350.6 1487.9,1353.6 1491.6,1356.1 1495.2,1357.9 1498.8,1360.3 1501.3,1357.9 1503.7,1350.6 1506.1,1350 1508.5,1351.8 1512.2,1350.6 1515.8,1348.8 1519.4,1346.9 1521.8,1345.7 1524.3,1349.4 1526.1,1351.8 1527.9,1345.1 1529.7,1337.8 1531.5,1335.4 1534,1338.4 1536.4,1339 1540,1336.6 1543.6,1333.6 1546.7,1331.1 1548.5,1334.2 1550.3,1337.8 1552.7,1335.4 1555.7,1330.5 1558.8,1325.6 1561.8,1323.2 1564.2,1323.2 1566.6,1325.6 1568.5,1326.2 1570.9,1322.6 1573.9,1319.5 1577.5,1317.1 1581.2,1314.1 1583,1313.5 1584.8,1316.5 1587.2,1320.8 1590.9,1322.6 1594.5,1322.6 1598.1,1320.8 1601.8,1317.7 1605.4,1315.9 1608.4,1317.1 1611.4,1320.2 1615.1,1322.6 1617.5,1322 1619.9,1317.7 1622.3,1314.1 1624.8,1309.8 1626.6,1308.6 1627.8,1312.8 1629.6,1317.7 1632,1317.1 1634.5,1314.1 1636.9,1312.2 1639.3,1313.5 1642.3,1315.3 1645.3,1315.9 1647.3,1315.9 1649.7,1312.8 1652.1,1311 1654.5,1314.7 1657.6,1319.5 1660.6,1323.8 1663,1323.2 1665.4,1318.3 1667.9,1315.3 1670.9,1316.5 1673.9,1317.1 1676.9,1315.9 1679.4,1315.3 1681.8,1319.5 1684.8,1322 1688.4,1323.2 1692.1,1325.6 1695.7,1327.5 1699.3,1325.6 1701.8,1321.4 1704.2,1318.9 1707.2,1320.8 1709.6,1322.6 1712.1,1319.5 1714.5,1316.5 1717.5,1318.9 1720.5,1321.4 1723.6,1321.4 1726.6,1320.2 1729.6,1320.8 1732.6,1318.9 1735.7,1316.5 1738.1,1317.1 1740.5,1320.8 1742.9,1325 1745.3,1328.1 1749,1329.3 1752.6,1332.3 1755,1333.6 1758.1,1331.1 1761.7,1330.5 1765.3,1331.1 1768.4,1332.9 1772,1334.8 1775,1332.9 1777.4,1329.9 1779.3,1329.3 1781.7,1332.3 1784.7,1334.2 1788.3,1333.6 1791.4,1334.2 1794.4,1336.6 1797.4,1339.6 1800.4,1341.5 1803.5,1343.9 1805.9,1347.6 1808.3,1353 1810.1,1347.6 1811.9,1341.5 1813.8,1337.8 1815.6,1339 1818,1342.7 1820.4,1341.5 1822.8,1337.8 1824.7,1338.4 1826.5,1343.9 1828.9,1348.8 1831.9,1348.2 1835,1345.7 1837.4,1344.5 1839.8,1346.3 1842.2,1350.6 1844.6,1353 1848.3,1352.4 1851.9,1351.2 1855.5,1350 1858.6,1350 1861.6,1351.8 1864.6,1352.4 1867.6,1350.6 1870.7,1348.2 1873.7,1348.2 1876.1,1350.6 1878.5,1354.3 1881.6,1355.5 1884.6,1356.1 1887.6,1357.9 1890.7,1359.7 1893.7,1361 1898.4,1362.8 1902.1,1364 1905.7,1362.2 1908.1,1357.9 1910.5,1356.1 1913,1358.5 1915.4,1362.8 1917.8,1364.6 1921.4,1362.8 1925.1,1361 1928.7,1361 1931.7,1362.2 1934.6,1364"/>
<polyline fill="none" stroke="#f83a3a" stroke-opacity="0.86" stroke-width="2.7" stroke-linejoin="round" points="430.6,1322.3 463.5,1349.6 526.5,1312.6 576.8,1348.6 586.5,1346.7 634.9,1327.2 667.9,1301.8 729.9,1346.7 747.3,1335.9 808.2,1323.3 856.6,1358.3 864.4,1359.3 887.6,1353.5 916.7,1349.6 947.7,1347.6 994.2,1320.3 1026.1,1308.7 1052.3,1328.1 1058.1,1334 1081.3,1342.8 1120.9,1358.5 1134.5,1360.5 1150,1356 1169.5,1353.7 1188.9,1353.3 1188.9,1350.8 1199.4,1357.6 1213.1,1364.4 1228.6,1361.5 1257.8,1360.5 1277.2,1357.6 1296.7,1355.6 1316.1,1346.9 1335.6,1341 1355,1335.2 1371.5,1330 1393.9,1347.8 1413.3,1361.5 1434.7,1378 1438.6,1379.9 1452.2,1377 1491.1,1372.1 1520.3,1370.2 1539.7,1372.1 1559.2,1370.2 1589.2,1369.2 1618.3,1370.2 1647.5,1374.1 1676.7,1375.5 1715.6,1375.1 1744.7,1374.7 1773.9,1370.2 1793.3,1365.3 1812.8,1358.5 1832.2,1350.8 1851.7,1342 1871.1,1332.3 1890.6,1320.6 1910,1310.9 1934.3,1299.2"/>
</g>
<g font-family="'Liberation Sans', sans-serif" font-size="23.8" stroke-width="0.65" stroke-linejoin="round">
<line x1="430.8" y1="1577.2" x2="1935.1" y2="1577.2" stroke="#606060" stroke-width="1.25"/>
<line x1="431.3" y1="1142.6" x2="431.3" y2="1577.2" stroke="#4d9cd4" stroke-width="1.1"/>
<line x1="1934.6" y1="1142.6" x2="1934.6" y2="1577.2" stroke="#e58659" stroke-width="1.1"/>
<line x1="431.3" y1="1194.8" x2="445.3" y2="1194.8" stroke="#4d9cd4" stroke-width="0.9"/>
<line x1="1920.6" y1="1194.8" x2="1934.6" y2="1194.8" stroke="#e58659" stroke-width="0.9"/>
<text x="422.8" y="1203.4" text-anchor="end" fill="#3a8dca" stroke="#3a8dca">60</text>
<text x="1943.1" y="1203.4" text-anchor="start" fill="#e27646" stroke="#e27646">60</text>
<line x1="431.3" y1="1264.3" x2="445.3" y2="1264.3" stroke="#4d9cd4" stroke-width="0.9"/>
<line x1="1920.6" y1="1264.3" x2="1934.6" y2="1264.3" stroke="#e58659" stroke-width="0.9"/>
<text x="422.8" y="1272.9" text-anchor="end" fill="#3a8dca" stroke="#3a8dca">40</text>
<text x="1943.1" y="1272.9" text-anchor="start" fill="#e27646" stroke="#e27646">40</text>
<line x1="431.3" y1="1333.9" x2="445.3" y2="1333.9" stroke="#4d9cd4" stroke-width="0.9"/>
<line x1="1920.6" y1="1333.9" x2="1934.6" y2="1333.9" stroke="#e58659" stroke-width="0.9"/>
<text x="422.8" y="1342.5" text-anchor="end" fill="#3a8dca" stroke="#3a8dca">20</text>
<text x="1943.1" y="1342.5" text-anchor="start" fill="#e27646" stroke="#e27646">20</text>
<text x="422.8" y="1412" text-anchor="end" fill="#3a8dca" stroke="#3a8dca">0</text>
<text x="1943.1" y="1412" text-anchor="start" fill="#e27646" stroke="#e27646">0</text>
<line x1="431.3" y1="1472.9" x2="445.3" y2="1472.9" stroke="#4d9cd4" stroke-width="0.9"/>
<line x1="1920.6" y1="1472.9" x2="1934.6" y2="1472.9" stroke="#e58659" stroke-width="0.9"/>
<text x="422.8" y="1481.5" text-anchor="end" fill="#3a8dca" stroke="#3a8dca">-20</text>
<text x="1943.1" y="1481.5" text-anchor="start" fill="#e27646" stroke="#e27646">-20</text>
<line x1="431.3" y1="1542.5" x2="445.3" y2="1542.5" stroke="#4d9cd4" stroke-width="0.9"/>
<line x1="1920.6" y1="1542.5" x2="1934.6" y2="1542.5" stroke="#e58659" stroke-width="0.9"/>
<text x="422.8" y="1551.1" text-anchor="end" fill="#3a8dca" stroke="#3a8dca">-40</text>
<text x="1943.1" y="1551.1" text-anchor="start" fill="#e27646" stroke="#e27646">-40</text>
<line x1="793.4" y1="1562.2" x2="793.4" y2="1577.2" stroke="#606060" stroke-width="0.9"/>
<text x="794.7" y="1609.8" text-anchor="middle" fill="#3c3c3c" stroke="#3c3c3c">Dec 31, 2020, 06:00</text>
<line x1="1170.1" y1="1562.2" x2="1170.1" y2="1577.2" stroke="#606060" stroke-width="0.9"/>
<text x="1171.4" y="1609.8" text-anchor="middle" fill="#3c3c3c" stroke="#3c3c3c">Dec 31, 2020, 12:00</text>
<line x1="1546.8" y1="1562.2" x2="1546.8" y2="1577.2" stroke="#606060" stroke-width="0.9"/>
<text x="1548.1" y="1609.8" text-anchor="middle" fill="#3c3c3c" stroke="#3c3c3c">Dec 31, 2020, 18:00</text>
<line x1="1923.5" y1="1562.2" x2="1923.5" y2="1577.2" stroke="#606060" stroke-width="0.9"/>
<text x="1924.8" y="1609.8" text-anchor="middle" fill="#3c3c3c" stroke="#3c3c3c">Jan 01, 2021, 00:00</text>
<text transform="translate(376.8,1359.9) rotate(-90)" text-anchor="middle" fill="#3a8dca" stroke="#3a8dca" font-size="27">[kW]</text>
<text transform="translate(1995.6,1359.9) rotate(90)" text-anchor="middle" fill="#e27646" stroke="#e27646" font-size="27">[kW]</text>
</g>
<g>
<path fill="#33ff33" d="M426,1891.5 426.5,1891.6 427,1890.7 426.5,1906.7 426,1937.3ZM537,1894.7 537.5,1896.7 538,1896.4 538.5,1896.6 539,1897.3 540,1897.8 540.5,1897.6 541,1897.3 541.5,1897.3 542.5,1898.9 543.5,1899.2 544,1899.5 545,1900.8 545.5,1902.2 546,1904 546.5,1905.5 547.5,1906.3 548,1907.1 548.5,1906.1 549,1905 550,1901.7 550.5,1900 551,1897.4 551.5,1894.9 552.5,1891.5 553,1890.1 553.5,1889.9 554,1889.4 554.5,1888.2 555,1888.5 555.5,1890.7 556,1893.5 556.5,1896.1 557.5,1898.8 558,1900.4 558.5,1901.5 559,1901.9 560,1903.3 560.5,1903.4 561,1901.9 561.5,1899.7 562.5,1896.8 563,1896.2 564,1895.2 564.5,1894.2 565,1893.3 565.5,1892.8 566,1892.2 566.5,1891.7 567,1892.3 567.5,1893.2 568,1894 568.5,1894.8 569,1895.5 570,1895.3 570.5,1895.6 571.5,1897 572.5,1896.5 573,1896.7 574,1898.3 574.5,1898.7 575,1898.9 575.5,1898.7 576.5,1897.1 577.5,1899 578,1899.4 579,1899.2 580,1898.3 580.5,1897.1 581.5,1894.7 582.5,1892.6 583,1891.5 584,1889.1 584.5,1888.6 585,1888.7 585.5,1890.2 586.5,1892.3 587,1893.8 587.5,1895.6 588,1897.3 588.5,1898.7 589.5,1899.5 591,1900.7 591.5,1900.9 592,1901.8 592.5,1902.8 593,1903.4 593.5,1903.6 594.5,1905.6 595,1906.6 595.5,1908.5 596.5,1914.4 597,1915.8 597.5,1913.5 598,1911.5 599,1908.9 599.5,1907.8 600,1907 600.5,1906 601.5,1903.6 602,1902.8 602.5,1902.5 603,1901.9 604,1899.7 604.5,1899.5 605.5,1899.6 606.5,1899.5 607,1900.3 607.5,1901.5 608,1902.5 609,1903.4 609.5,1903.5 610,1903.4 610.5,1903.6 611.5,1905.5 612,1904.8 612.5,1904.1 613,1903.2 614,1900.8 614.5,1900.9 615,1901.4 615.5,1901.5 616,1900.2 616.5,1899.2 617,1899.8 617.5,1900.8 618,1901.6 618.5,1901.9 619,1902 619.5,1902.4 620,1902.9 620.5,1903.4 621,1903.4 621.5,1903 622,1902 622.5,1900.9 623,1899.9 624,1899.3 624.5,1898.8 625,1898.1 625.5,1897.7 626,1898.2 626.5,1899.9 627,1901 628,1902.2 628.5,1902.6 629,1902.7 629.5,1903.9 630,1905.5 630.5,1907 631,1907.4 631.5,1907.3 632,1907.3 632.5,1907.5 633,1907.5 633.5,1906.6 634,1905.6 634.5,1905 635,1905 635.5,1905 636,1904.1 636.5,1903.7 637,1904.7 638,1907.3 638.5,1908.1 639,1908.4 639.5,1908.2 640.5,1907.4 641.5,1906.9 642,1906.8 642.5,1906.7 643,1906.5 644,1905.1 644.5,1904.5 645.5,1903.3 646.5,1901.4 647,1900.8 648.5,1899.9 649,1899.5 649.5,1899.8 650.5,1900 651.5,1901.7 652,1901.8 653,1900.9 653.5,1902.1 654,1902.9 654.5,1902 655.5,1898.3 656,1898.1 656.5,1898.2 657,1897.9 658,1895.8 658.5,1895.2 659,1894.9 659.5,1894.7 660.5,1894.2 661,1894.4 661.5,1894.9 662,1895.3 663,1895.5 663.5,1895.4 664,1895.3 664.5,1895.6 665.5,1897.4 666,1897.2 666.5,1896.8 667,1896.7 668,1896.7 669,1896.4 669.5,1896.5 670.5,1897.9 671,1897.6 671.5,1897.2 672,1897.1 672.5,1897.4 673,1897.8 673.5,1897 674,1896 674.5,1895.1 675.5,1894.1 676,1894.4 676.6,1894.8 677.1,1894.8 678.1,1893.2 678.6,1893.1 679.1,1893.6 679.6,1895.1 680.6,1898.8 681.1,1899.6 681.6,1900.1 682.1,1900.9 683.1,1904 683.6,1937.3 541.5,1937.3 541,1935.1 540,1928.7 539.5,1924.7 538.5,1918.3 538,1910.7 537,1894.7ZM693.1,1922.4 693.6,1901.6 694.1,1890.6 693.6,1904 693.1,1922.4ZM1007.1,1884.6 1007.6,1891.1 1008.1,1890.7 1009.1,1890.3 1009.6,1890.2 1010.6,1890.2 1011.1,1890.1 1011.6,1890.2 1012.1,1889.8 1012.6,1889.1 1013.1,1888.4 1014.1,1888.7 1015.1,1888.7 1015.6,1888.8 1016.6,1889.2 1017.1,1889.2 1018.1,1888.8 1018.6,1889 1019.1,1888.9 1019.6,1888.9 1020.6,1889 1021.6,1888 1022.1,1887.6 1023.1,1887.6 1024.1,1887.4 1024.6,1886.9 1025.6,1885.2 1026.1,1885.5 1026.6,1885.9 1027.1,1886.3 1028.1,1886.8 1029.1,1887.6 1029.6,1887.8 1030.6,1888 1031.6,1889.2 1032.1,1889.4 1032.6,1889.1 1033.1,1888.6 1034.1,1887.4 1034.6,1887 1035.6,1886.7 1036.6,1885.4 1037.1,1885.2 1038.1,1884.4 1038.6,1884.7 1039.1,1885.1 1039.6,1886 1040.1,1887.8 1040.6,1889.7 1041.1,1889.7 1041.6,1889.5 1042.1,1889.9 1042.6,1891 1043.1,1891.9 1044.6,1894.1 1045.1,1894.7 1045.6,1892.6 1046.1,1891.1 1046.6,1889.7 1047.1,1888 1047.6,1886 1048.1,1883.9 1048.6,1881.2 1049.1,1878.5 1049.6,1876.7 1050.6,1875.2 1051.1,1875.4 1051.6,1877.8 1052.1,1880 1052.6,1881.8 1053.1,1883.5 1053.6,1884.5 1054.1,1885.1 1054.6,1886.1 1055.1,1887.4 1055.6,1888.3 1056.1,1889.8 1056.6,1891.5 1057.1,1892.7 1057.6,1892.3 1058.1,1891.8 1058.6,1892.4 1059.1,1893.3 1059.6,1893.9 1060.6,1891.5 1061.1,1891.6 1061.6,1892.2 1062.1,1892.3 1063.1,1890.1 1063.6,1890 1064.1,1890.2 1064.6,1890.1 1065.6,1888.6 1066.1,1888.4 1066.6,1888.5 1067.1,1888.2 1068.1,1885.3 1068.6,1884.9 1069.1,1884.8 1069.6,1884.4 1070.6,1881.8 1071.1,1881.1 1071.6,1880.7 1072.1,1880.2 1073.1,1877.7 1073.6,1877 1074.1,1876.4 1074.6,1876.5 1076.1,1875.6 1076.6,1875.4 1077.1,1875.9 1078.1,1876.7 1078.6,1877.3 1079.6,1878.5 1080.6,1880 1081.1,1880.3 1081.6,1880.1 1082.1,1879.6 1083.1,1880.1 1083.6,1880.3 1084.6,1880.5 1085.6,1879.3 1086.1,1879.5 1086.6,1880 1087.1,1880.5 1087.6,1880.1 1088.1,1879.9 1088.6,1880.6 1089.6,1883.1 1090.1,1884.2 1090.6,1884.9 1091.1,1884 1092.1,1881.4 1093.1,1878.1 1093.6,1877.3 1094.1,1876.9 1094.6,1876.5 1095.6,1873.8 1096.1,1873.2 1097.1,1873.6 1098.1,1872.3 1098.6,1872.6 1099.6,1875.2 1100.6,1876 1101.1,1876.7 1102.1,1878.5 1103.1,1879.2 1103.6,1879.5 1104.6,1880.4 1105.6,1880.5 1106.1,1880.7 1106.6,1880.4 1107.1,1880 1108.1,1880.4 1108.6,1880.4 1109.1,1880.1 1109.6,1880.2 1110.6,1881.2 1111.1,1881.5 1112.1,1881.8 1113.1,1881.7 1113.6,1881.6 1114.6,1880.9 1115.1,1882 1115.6,1883.2 1116.1,1883.9 1116.6,1883.6 1117.1,1882.5 1117.6,1882.1 1118.1,1881.8 1118.6,1880.9 1119.6,1877.7 1120.1,1877 1120.6,1876.3 1121.1,1875.6 1121.6,1875.7 1122.1,1876.5 1123.1,1877.8 1123.6,1878.6 1124.1,1879.9 1124.6,1880.8 1122.1,1883.3 1121.6,1883.9 1116.1,1891.2 1115.6,1891.6 1110.1,1893.5 1104.6,1897.1 1104.1,1897.4 1100.6,1899.2 1100.1,1899.3 1094.6,1897.5 1090.6,1895.5 1090.1,1895.7 1087.1,1897.2 1086.6,1897.4 1083.1,1898.3 1082.6,1898.3 1077.1,1895.5 1076.6,1895.6 1071.1,1897.4 1067.6,1899.1 1067.1,1899.6 1063.6,1906.6 1063.1,1907.2 1059.6,1909 1059.1,1908.7 1055.6,1905.2 1052.1,1903.5 1051.6,1903.3 1046.1,1905.1 1045.6,1905.3 1040.1,1908 1034.6,1909.9 1034.1,1910.1 1028.6,1913.7 1020.6,1918.8 1017.1,1920.5 1016.6,1920.8 1013.1,1926.1 1012.6,1926.4 1011.1,1924.9 1010.6,1922.9 1008.1,1904.6 1007.6,1896 1007.1,1884.6ZM1160.1,1886.8 1160.6,1885.8 1161.1,1885.7 1162.1,1883.6 1162.6,1883.2 1163.1,1883.4 1163.6,1883.5 1164.1,1873.7 1164.6,1863.2 1165.1,1859 1166.1,1859.6 1167.1,1860.9 1167.6,1861 1168.1,1860.9 1168.6,1861 1168.1,1867 1167.1,1879.5 1166.6,1883.9 1164.6,1885.6 1164.1,1886.1 1163.1,1887.4 1162.6,1892.3 1161.6,1909.4 1161.1,1901.3 1160.6,1889.3 1160.1,1886.8ZM1174.6,1867.5 1175.1,1869.2 1176.1,1870.1 1177.1,1871.1 1177.7,1869.8 1178.7,1866.8 1179.2,1866 1179.7,1865.3 1180.2,1865.5 1181.2,1865.9 1182.2,1863.9 1182.7,1863.6 1183.7,1865.8 1184.2,1865.9 1184.7,1865.9 1185.2,1866.3 1185.7,1867 1186.2,1866.6 1187.2,1865.4 1188.2,1864.2 1188.7,1863.5 1189.2,1862.6 1189.7,1861.6 1190.2,1860.9 1190.7,1860.8 1191.2,1860.9 1191.7,1861.3 1192.2,1861.7 1192.7,1862.2 1193.2,1862.8 1193.7,1863.6 1194.2,1864.4 1194.7,1865.2 1195.2,1866.1 1195.7,1867.3 1196.2,1868 1196.7,1869.4 1197.2,1870.9 1197.7,1872.1 1198.7,1873.1 1199.2,1872.8 1201.2,1869.2 1201.7,1868.8 1202.2,1868.3 1202.7,1866.9 1203.7,1863.3 1204.2,1861.6 1204.7,1860.6 1205.2,1860.5 1206.2,1861.2 1206.7,1861.2 1207.2,1861.9 1207.7,1863.2 1208.7,1866.6 1209.2,1867.4 1209.7,1868.1 1210.2,1864.7 1209.2,1874.7 1208.7,1878 1206.2,1891.3 1205.7,1892 1202.7,1895 1202.2,1895.6 1198.7,1902.6 1198.2,1903.7 1195.7,1910.4 1195.2,1911.2 1193.2,1912.6 1192.7,1907.1 1190.2,1897.1 1189.7,1895.3 1186.2,1888.3 1185.7,1887.6 1182.2,1885.8 1179.2,1884.8 1177.1,1883.8 1176.6,1881 1175.6,1875 1175.1,1872 1174.6,1867.5ZM1288.7,1891.4 1289.2,1891.1 1290.2,1892.5 1290.7,1892.3 1291.2,1891.7 1291.7,1891.1 1292.7,1889.2 1293.2,1889 1293.7,1889 1294.2,1889 1294.7,1888.6 1295.2,1888.3 1295.7,1887.4 1296.2,1886.2 1296.7,1885 1297.2,1884.9 1297.7,1885.9 1298.7,1887.8 1299.2,1888.9 1299.7,1890.5 1301.2,1895.7 1301.7,1897.4 1302.2,1898.8 1302.7,1899.8 1303.2,1900 1303.7,1899.7 1304.2,1899.5 1304.7,1899.7 1305.2,1899.6 1305.7,1899.7 1306.2,1900.1 1306.7,1900.5 1307.7,1900.4 1308.2,1901 1308.7,1902 1309.2,1902.9 1310.7,1903.5 1311.2,1903.3 1311.7,1902.7 1312.7,1901.7 1313.2,1901.8 1313.7,1902.2 1314.2,1902.1 1315.2,1898.8 1315.7,1897.8 1316.7,1896.5 1317.2,1895.8 1317.7,1895.6 1318.2,1895.5 1318.7,1895.7 1319.2,1895.7 1320.2,1893.9 1320.7,1893.7 1321.2,1894.1 1321.7,1894.5 1322.7,1893.1 1323.2,1892.3 1324.2,1890.4 1325.2,1889.7 1325.7,1889.3 1326.7,1888.3 1327.7,1889.3 1328.2,1889.2 1329.2,1887.3 1330.2,1888.2 1330.7,1888.6 1331.2,1888.9 1331.7,1889.2 1332.2,1888.5 1332.7,1887.6 1333.2,1887.2 1334.7,1887.1 1335.2,1887.1 1335.7,1887.6 1336.7,1889.5 1337.7,1890.2 1338.2,1924.6 1323.2,1926.5 1322.7,1926.6 1319.2,1926.6 1318.7,1926.8 1315.2,1930.3 1314.7,1930.3 1311.2,1928.5 1310.7,1927.6 1308.7,1923.6 1308.2,1922.6 1305.7,1912.6 1305.2,1910.7 1302.7,1904 1302.2,1903.1 1299.7,1901.4 1299.2,1901.8 1296.7,1906.8 1296.2,1906.9 1293.7,1905.2 1293.2,1903.7 1291.2,1897 1290.7,1895.4 1288.7,1891.4ZM1414.7,1903.9 1415.2,1886.8 1415.7,1875.9 1416.2,1866.4 1416.7,1865.8 1417.2,1864.5 1416.2,1874.5 1415.7,1883.8 1414.7,1903.9ZM1523.2,1850 1523.7,1846.9 1524.2,1844.5 1524.7,1843.6 1525.2,1842.9 1525.7,1842.2 1526.2,1843 1527.2,1845.7 1527.7,1846.6 1528.2,1847.1 1528.7,1847.1 1529.7,1848.1 1530.2,1849 1530.7,1850 1523.2,1850ZM1531.2,1850 1531.7,1849 1532.2,1848 1532.7,1847.2 1533.2,1846.5 1533.7,1845.9 1534.2,1846.1 1534.7,1846.2 1535.2,1845.4 1535.7,1844.1 1536.2,1843 1536.7,1843.5 1537.2,1847.5 1537.7,1850 1531.2,1850ZM1572.2,1850 1572.7,1848.6 1573.7,1847.7 1574.7,1847.2 1575.2,1846.7 1575.7,1846 1576.2,1845.4 1576.7,1845.3 1577.2,1845.3 1577.7,1846.4 1578.7,1848 1579.2,1850 1572.2,1850ZM1597.2,1850 1597.7,1848.6 1598.7,1848.4 1599.2,1847.9 1599.7,1847.3 1600.2,1847.7 1600.7,1849 1601.2,1850 1597.2,1850ZM1602.2,1850 1602.7,1848.8 1603.2,1850 1602.2,1850ZM1615.2,1850 1615.7,1849.1 1616.2,1848.3 1616.7,1847.5 1617.7,1845.5 1618.7,1843 1619.2,1841.6 1619.7,1840.3 1620.2,1839.1 1620.7,1839.1 1621.2,1841.6 1621.7,1844.8 1622.2,1847.7 1622.7,1850 1615.2,1850ZM1628.2,1850 1628.7,1848.6 1629.2,1847.7 1630.2,1844.7 1630.7,1844.3 1631.2,1844 1632.7,1845.9 1633.7,1845.9 1634.2,1846.4 1635.2,1848.6 1635.7,1850 1628.2,1850ZM1642.7,1850 1643.7,1846.8 1644.2,1845.7 1645.2,1844.2 1646.2,1842.8 1646.7,1843.5 1647.7,1846.5 1648.2,1846.8 1648.7,1846.9 1649.2,1847.7 1649.7,1850 1642.7,1850ZM1660.7,1850 1661.2,1848.7 1661.7,1847.8 1662.2,1847.1 1662.7,1847.4 1663.2,1848.4 1663.7,1850 1660.7,1850ZM1669.2,1850 1669.7,1849 1670.2,1848.7 1671.2,1848 1671.7,1847.8 1672.7,1847.1 1673.2,1847.1 1673.7,1847.4 1674.2,1848.9 1674.7,1850 1669.2,1850ZM1707.8,1850 1708.3,1849 1708.8,1848.7 1709.3,1850 1707.8,1850ZM1729.8,1850 1730.3,1848.2 1730.8,1847.6 1731.8,1848.1 1732.3,1848.1 1732.8,1848.9 1733.3,1850 1729.8,1850ZM1852.8,1866.7 1853.3,1884.6 1853.8,1885 1854.8,1884.5 1855.8,1885.8 1856.3,1886 1857.3,1886 1858.3,1886.4 1858.8,1886.7 1859.3,1886.6 1860.8,1885.9 1861.3,1885.3 1861.8,1884.3 1862.3,1883.2 1863.3,1881.7 1864.8,1879.6 1865.3,1880.2 1865.8,1881 1866.3,1881.4 1867.3,1881.6 1867.8,1881.5 1868.3,1882 1868.8,1882.5 1869.8,1882.7 1870.3,1883 1870.8,1883.7 1871.3,1884.9 1872.3,1888.8 1872.8,1889.7 1873.3,1889.5 1873.8,1889.5 1874.8,1889.5 1875.3,1889.7 1875.8,1890 1876.3,1890 1877.3,1889.6 1877.8,1889.7 1878.3,1889.9 1879.3,1890 1879.8,1890.1 1880.8,1889.8 1881.3,1889.9 1882.3,1891.2 1882.8,1891.4 1883.3,1891.5 1883.8,1891.9 1884.8,1893.9 1885.3,1894.5 1885.8,1895 1886.3,1895.4 1887.3,1895.7 1888.3,1896 1888.8,1895.9 1889.8,1895 1890.3,1895.5 1890.8,1896.4 1891.3,1897.1 1892.3,1896.7 1893.3,1896.3 1893.8,1896.3 1894.8,1898.2 1895.3,1898.9 1895.8,1899.4 1896.3,1899.8 1897.3,1897.5 1897.8,1896.9 1898.3,1896.5 1898.8,1896.4 1899.8,1898 1900.3,1896.6 1900.8,1894.3 1901.3,1892.2 1902.3,1889.1 1902.8,1888.9 1903.3,1889.2 1903.8,1889.3 1904.3,1888.6 1904.8,1888 1905.3,1888.9 1905.8,1937.3 1858.3,1937.3 1857.8,1936.4 1856.3,1927.4 1855.8,1923.6 1855.3,1920.6 1854.8,1916.8 1853.3,1890.1 1852.8,1866.7Z"/>
<path fill="#262626" d="M683.1,1937.3 683.6,1904.8 684.1,1905.5 684.6,1905.4 685.6,1903.3 686.1,1903.4 686.6,1903.8 687.1,1903.9 687.6,1903 688.1,1902.1 688.6,1902.2 689.1,1902.5 689.6,1902.7 690.6,1902.1 691.1,1901.1 691.6,1900 692.1,1899.4 693.1,1901.4 693.6,1904 693.1,1922.4 692.6,1937.3 683.1,1937.3ZM1337.7,1924.7 1338.2,1890.2 1339.2,1891 1339.7,1892.4 1340.2,1894 1340.7,1895.1 1341.7,1895.3 1342.2,1895.9 1342.7,1896.6 1343.2,1897 1343.7,1896.9 1344.2,1896.1 1344.7,1895.9 1345.2,1895.8 1345.7,1895.5 1347.2,1893.8 1347.7,1893.3 1348.2,1893.1 1349.2,1893.6 1349.7,1892.8 1350.2,1891.9 1350.7,1891.3 1351.2,1892 1351.7,1892.8 1352.2,1892.6 1352.7,1892.1 1353.2,1892 1354.2,1893.4 1354.7,1893.4 1355.2,1893.2 1355.7,1893.2 1356.7,1894.5 1357.2,1894.2 1357.7,1893.6 1358.2,1893.2 1359.2,1893.6 1359.7,1894 1360.2,1894.5 1360.7,1894.8 1361.7,1894.3 1362.2,1894.4 1363.2,1894.9 1364.2,1895.5 1364.7,1895.4 1365.2,1895.3 1365.7,1894.7 1366.7,1892 1367.2,1891.9 1367.7,1892.2 1368.2,1892.1 1368.7,1891.1 1369.2,1890.5 1369.7,1891.1 1370.2,1891.8 1370.7,1892.8 1371.2,1895.2 1371.7,1898.1 1372.2,1900 1372.7,1901.3 1373.2,1902.9 1373.7,1905.7 1374.2,1905.7 1374.7,1903.9 1375.2,1901.9 1375.7,1899.7 1376.2,1897.5 1376.7,1894.2 1377.2,1890.3 1377.7,1886.2 1378.2,1882.8 1379.2,1881.6 1379.7,1881.7 1380.2,1883.7 1380.7,1886.6 1381.7,1889.3 1382.2,1892.3 1382.7,1895.9 1383.2,1899.4 1383.7,1901.2 1384.2,1901.9 1384.7,1902.2 1385.2,1902.3 1385.7,1902.5 1386.2,1902.4 1386.7,1901 1387.2,1900.1 1387.7,1899.5 1388.2,1898.7 1388.7,1896.9 1389.2,1895.2 1389.7,1894 1390.7,1892.3 1391.2,1892.1 1391.7,1892.1 1392.2,1892.1 1392.7,1892.3 1393.2,1892.5 1394.2,1894 1394.7,1894.4 1395.7,1894.6 1396.7,1895.9 1397.2,1896.9 1397.7,1898.1 1398.2,1898.6 1399.2,1898.1 1399.7,1897.7 1400.2,1897.1 1400.7,1896.4 1401.7,1893.9 1402.2,1892.7 1403.2,1890.4 1403.7,1889.4 1404.2,1888.8 1404.7,1888.4 1405.7,1887.8 1406.2,1887.5 1406.7,1887.3 1408.2,1889.6 1409.2,1890.9 1410.7,1893.2 1411.7,1893.4 1412.2,1893.6 1413.2,1894 1413.7,1893.5 1414.2,1892.9 1414.7,1892.3 1415.2,1893.9 1414.7,1903.9 1414.2,1921 1413.7,1936.2 1408.7,1935.4 1398.7,1933.4 1393.2,1932.1 1392.7,1932 1387.2,1931.5 1386.7,1931.6 1381.2,1935.3 1375.7,1935.9 1375.2,1935.8 1369.7,1932.5 1369.2,1932.3 1354.2,1926.7 1353.7,1926.5 1338.7,1924.7 1338.2,1924.6 1337.7,1924.7ZM1905.3,1937.3 1905.8,1889.9 1906.3,1890.9 1906.8,1891.6 1907.8,1893.4 1908.3,1894.1 1908.8,1894.9 1909.3,1896.7 1909.8,1898.1 1910.3,1898.8 1911.3,1900.1 1911.8,1900.6 1912.3,1900.4 1912.8,1899.5 1913.3,1898.3 1913.8,1897.2 1914.8,1896.1 1915.3,1896.1 1915.8,1896.6 1916.3,1897 1917.3,1896.3 1918.3,1895.6 1918.8,1895.2 1919.3,1894.2 1919.8,1893.6 1920.3,1893.3 1920.8,1893.1 1921.3,1893 1922.3,1894.8 1922.8,1895.3 1923.3,1895.7 1923.8,1896.2 1924.8,1896.2 1925.3,1896.1 1925.8,1895.8 1926.3,1895.6 1927.3,1896.5 1927.8,1896.9 1928.8,1897.6 1928.8,1937.3 1905.3,1937.3Z"/>
<path fill="#ffff33" d="M426,1937.3 426.5,1906.7 427,1890.7 428.5,1872.7 429,1869.3 431.5,1855.9 432,1855.3 436,1850.8 436.5,1850.3 440,1850 535.5,1850 536,1856.1 536.5,1886.1 537,1894.7 538,1910.7 538.5,1918.3 539.5,1924.7 540,1928.7 538.5,1919.1 538,1911.5 537,1895.4 536.5,1886.8 536,1856.8 535.5,1850.7 440.5,1850.7 436.5,1851.1 436,1851.6 432,1856 431.5,1856.7 429,1870 428.5,1873.5 427,1891.5 426.5,1907.5 426,1937.3ZM692.6,1937.3 693.1,1922.4 693.6,1904 694.6,1877.3 695.1,1871.7 696.6,1859.2 697.1,1855.7 700.6,1851.3 701.1,1850.9 704.6,1850 705.1,1850 957.6,1850 958.1,1849.9 966.1,1847.8 973.6,1845 974.1,1844.8 979.6,1841.1 985.1,1838.3 985.6,1838.1 997.1,1834.2 1002.6,1833.3 1003.1,1833.2 1005.6,1833.2 1006.1,1841.8 1006.6,1873.2 1007.6,1896 1008.1,1904.6 1010.6,1922.9 1011.1,1924.9 1012.6,1926.4 1013.1,1926.1 1016.6,1920.8 1017.1,1920.5 1020.6,1918.8 1028.1,1914.1 1034.1,1910.1 1039.6,1908.2 1040.1,1908 1045.6,1905.3 1051.6,1903.3 1052.1,1903.5 1055.1,1905 1055.6,1905.2 1059.1,1908.7 1059.6,1909 1063.1,1907.2 1063.6,1906.6 1067.1,1899.6 1067.6,1899.1 1071.1,1897.4 1076.6,1895.6 1077.1,1895.5 1082.6,1898.3 1083.1,1898.3 1086.6,1897.4 1090.1,1895.7 1090.6,1895.5 1094.1,1897.2 1094.6,1897.5 1100.1,1899.3 1100.6,1899.2 1104.1,1897.4 1109.6,1893.8 1110.1,1893.5 1115.6,1891.6 1116.1,1891.2 1121.6,1883.9 1129.1,1876.3 1129.6,1875.9 1140.6,1866.7 1141.1,1866.3 1144.6,1864.5 1145.1,1864.6 1147.6,1869.6 1148.1,1870.2 1149.1,1870.2 1149.6,1865.8 1150.6,1852.9 1151.1,1847.4 1151.6,1842 1153.1,1842.9 1153.6,1851.3 1154.1,1860.4 1154.6,1868.6 1155.1,1876.1 1155.6,1882 1159.1,1885.3 1159.6,1885.8 1160.1,1886.8 1160.6,1889.3 1161.1,1901.3 1161.6,1909.4 1162.6,1892.3 1163.1,1887.4 1164.1,1886.1 1164.6,1885.6 1166.6,1883.9 1167.1,1879.5 1168.1,1867 1168.6,1861 1169.6,1849.6 1170.1,1848.7 1171.6,1848.4 1172.1,1849.9 1173.1,1855.2 1173.6,1858.6 1175.1,1872 1175.6,1875 1176.6,1881 1177.1,1883.8 1178.7,1884.6 1179.2,1884.8 1181.7,1885.6 1182.2,1885.8 1185.7,1887.6 1186.2,1888.3 1189.7,1895.3 1190.2,1897.1 1192.7,1907.1 1193.2,1912.6 1195.2,1911.2 1195.7,1910.4 1198.2,1903.7 1198.7,1902.6 1202.2,1895.6 1202.7,1895 1205.7,1892 1206.2,1891.3 1208.7,1878 1209.2,1874.7 1210.7,1859.7 1211.2,1856 1213.7,1848.5 1214.2,1847.6 1219.7,1844 1220.2,1844 1225.2,1844.8 1225.7,1845 1231.2,1848.6 1231.7,1848.5 1235.2,1845 1235.7,1844.8 1238.2,1843.9 1238.7,1844.7 1240.7,1848 1241.2,1848.9 1243.7,1855.6 1244.2,1856.8 1246.7,1861.8 1247.2,1862.7 1254.7,1874 1262.2,1883.4 1262.7,1883.9 1266.2,1887.4 1266.7,1887.1 1273.2,1874.1 1273.7,1875 1275.7,1879 1276.2,1880 1279.7,1886.1 1280.2,1886.7 1283.7,1887.6 1284.2,1887.8 1287.7,1889.6 1288.2,1890.4 1290.7,1895.4 1293.2,1903.7 1293.7,1905.2 1296.2,1906.9 1296.7,1906.8 1299.2,1901.8 1299.7,1901.4 1302.2,1903.1 1302.7,1904 1305.2,1910.7 1305.7,1912.6 1308.2,1922.6 1308.7,1923.6 1310.7,1927.6 1311.2,1928.5 1314.7,1930.3 1315.2,1930.3 1318.7,1926.8 1319.2,1926.6 1322.7,1926.6 1338.2,1924.6 1338.7,1924.7 1353.7,1926.5 1354.2,1926.7 1369.2,1932.3 1369.7,1932.5 1375.2,1935.8 1375.7,1935.9 1380.7,1935.4 1381.2,1935.3 1386.7,1931.6 1387.2,1931.5 1392.7,1932 1398.7,1933.4 1408.2,1935.3 1413.7,1936.2 1414.2,1921 1414.7,1903.9 1415.7,1883.8 1416.2,1874.5 1417.7,1859.5 1418.2,1855.6 1420.7,1851.4 1421.2,1850.9 1424.7,1850 1425.2,1850 1852.3,1850 1852.8,1866.7 1853.3,1890.1 1854.8,1916.8 1855.3,1920.6 1855.8,1923.6 1856.3,1927.4 1855.3,1921.4 1854.8,1917.6 1853.3,1890.9 1852.8,1867.5 1852.3,1850.7 1425.2,1850.7 1424.7,1850.8 1421.2,1851.6 1420.7,1852.2 1418.2,1856.4 1417.7,1860.3 1416.2,1875.3 1415.7,1884.6 1414.7,1904.6 1414.2,1921.7 1413.7,1937.3 1011.1,1937.3 1010.6,1936 1008.1,1920 1007.6,1911.6 1006.6,1888.7 1006.1,1858.9 1005.6,1850.7 705.1,1850.7 704.6,1850.8 701.1,1851.6 700.6,1852.1 697.1,1856.4 696.6,1860 695.1,1872.5 694.6,1878.1 693.6,1904.7 693.1,1923.1 692.6,1937.3Z"/>
<path id="ice4" fill="#9a9a9a" d="M426,1937.3 426.5,1907.5 427,1891.5 428.5,1873.5 429,1870 431.5,1856.7 432,1856 436,1851.6 436.5,1851.1 440,1850.8 535.5,1850.7 536,1856.8 536.5,1886.8 537,1895.4 538,1911.5 538.5,1919.1 541,1935.1 541.5,1937.3 426,1937.3ZM692.6,1937.3 693.1,1923.1 693.6,1904.7 694.6,1878.1 695.1,1872.5 696.6,1860 697.1,1856.4 700.6,1852.1 701.1,1851.6 704.6,1850.8 705.1,1850.7 1005.6,1850.7 1006.1,1858.9 1006.6,1888.7 1007.6,1911.6 1008.1,1920 1010.6,1936 1011.1,1937.3 692.6,1937.3ZM1413.7,1937.3 1414.2,1921.7 1414.7,1904.6 1415.7,1884.6 1416.2,1875.3 1417.7,1860.3 1418.2,1856.4 1420.7,1852.2 1421.2,1851.6 1424.7,1850.8 1425.2,1850.7 1852.3,1850.7 1852.8,1867.5 1853.3,1890.9 1854.8,1917.6 1855.3,1921.4 1857.8,1936.4 1858.3,1937.3 1413.7,1937.3Z"/>
<path fill="url(#st)" d="M433.8,1937.3V1855.3h4.1V1937.3zM450.9,1937.3V1852.2h2.2V1937.3zM461.7,1937.3V1852.2h3.6V1937.3zM479.3,1937.3V1852.2h1.6V1937.3zM487.6,1937.3V1852.2h4.2V1937.3zM498.1,1937.3V1852.2h3.5V1937.3zM510.2,1937.3V1852.2h3.4V1937.3zM528.1,1937.3V1852.2h3.2V1937.3zM695.8,1937.3V1869.8h3.9V1937.3zM710.7,1937.3V1852.2h3.4V1937.3zM729.2,1937.3V1852.2h4.5V1937.3zM740.6,1937.3V1852.2h3.1V1937.3zM749.1,1937.3V1852.2h2.6V1937.3zM758.4,1937.3V1852.2h2V1937.3zM772.2,1937.3V1852.2h1.8V1937.3zM780.7,1937.3V1852.2h1.5V1937.3zM796.2,1937.3V1852.2h2.2V1937.3zM804.2,1937.3V1852.2h3.4V1937.3zM820.4,1937.3V1852.2h3.4V1937.3zM834.9,1937.3V1852.2h3.1V1937.3zM850.9,1937.3V1852.2h2.4V1937.3zM867.6,1937.3V1852.2h3.6V1937.3zM885.6,1937.3V1852.2h4.2V1937.3zM904,1937.3V1852.2h3.1V1937.3zM917.8,1937.3V1852.2h3.7V1937.3zM932.9,1937.3V1852.2h1.6V1937.3zM949.5,1937.3V1852.2h2.1V1937.3zM962,1937.3V1852.2h2.9V1937.3zM970.9,1937.3V1852.2h3.2V1937.3zM985.6,1937.3V1852.2h3.9V1937.3zM1001.3,1937.3V1852.2h2.4V1937.3zM1416.5,1937.3V1871.8h2.4V1937.3zM1428.8,1937.3V1852.2h2.8V1937.3zM1447.3,1937.3V1852.2h3.5V1937.3zM1466.4,1937.3V1852.2h3.4V1937.3zM1477.3,1937.3V1852.2h3.2V1937.3zM1487.2,1937.3V1852.2h3.3V1937.3zM1497.1,1937.3V1852.2h4.3V1937.3zM1509.7,1937.3V1852.2h4.2V1937.3zM1521.3,1937.3V1852.2h2.1V1937.3zM1531.1,1937.3V1852.2h4V1937.3zM1549.2,1937.3V1852.2h3.7V1937.3zM1564.3,1937.3V1852.2h1.9V1937.3zM1573.8,1937.3V1852.2h1.6V1937.3zM1590.7,1937.3V1852.2h1.9V1937.3zM1605.4,1937.3V1852.2h1.5V1937.3zM1615,1937.3V1852.2h3.3V1937.3zM1625.4,1937.3V1852.2h1.7V1937.3zM1641.9,1937.3V1852.2h2.4V1937.3zM1649.4,1937.3V1852.2h3.6V1937.3zM1668.9,1937.3V1852.2h3.1V1937.3zM1677.4,1937.3V1852.2h2.8V1937.3zM1691.8,1937.3V1852.2h2.2V1937.3zM1703.7,1937.3V1852.2h3.7V1937.3zM1719.6,1937.3V1852.2h4V1937.3zM1739.1,1937.3V1852.2h3.1V1937.3zM1757.9,1937.3V1852.2h1.9V1937.3zM1770.5,1937.3V1852.2h3.5V1937.3zM1789.2,1937.3V1852.2h2.9V1937.3zM1801.9,1937.3V1852.2h4.2V1937.3zM1816.3,1937.3V1852.2h1.7V1937.3zM1827.9,1937.3V1852.2h2.3V1937.3zM1842.4,1937.3V1852.2h3.9V1937.3zM1851.9,1937.3V1910.2h2.4V1937.3z"/>
<path fill="#ff3030" d="M426.5,1937.3 457.5,1937.3 458,1947.8 458.5,1960.3 459,1961.6 518.5,1961.6 519,1950 519.5,1937.3 537.5,1937.3 537,1940.1 536.5,1949.5 536,1981.3 535.5,1989.3 535,1991.2 534.5,1993 534,1994.6 533.5,1994.6 533,1994.5 532.5,1994.3 532,1993.4 531.5,1992 531,1990.8 530.5,1990.2 530,1989.5 529.5,1988.4 529,1987.6 528.5,1986.3 528,1984.9 527.5,1983.5 527,1982.4 526.5,1982 525.5,1982.1 525,1982.2 524,1983.9 523.5,1983.6 523,1982.9 522.5,1982.5 521.5,1984.5 521,1984.9 520.5,1984.9 520,1985 519.5,1985.6 519,1986 518.5,1985.9 518,1985.5 517.5,1985.3 516.5,1986.6 516,1986.2 515,1984.5 514,1983 513.5,1982.5 512.5,1982.6 511.5,1983.1 511,1982.9 510.5,1982.3 510,1982.7 509,1984.5 508.5,1985.3 507.5,1986.7 507,1987.2 506.5,1987.7 506,1988.8 505.5,1990.5 505,1992.1 504.5,1991.9 504,1990.5 503.5,1989.8 502.5,1989.8 501.5,1987.6 501,1987.6 500,1988.7 499,1988.4 498.5,1988.8 498,1990.1 497.5,1991.6 496.5,1994.2 496,1995.1 495.5,1993.6 495,1991.9 494.5,1990.8 494,1989.8 493.5,1989.3 493,1989.4 492.5,1989.2 492,1988 491.5,1986.8 491,1984.9 490.5,1982.4 490,1979.2 489.5,1977.7 489,1976.2 488.5,1974.6 487.5,1970.9 487,1969.6 486.5,1970.7 486,1972.2 485.5,1973.1 485,1974 484,1977.6 483.5,1979.7 483,1982 482.5,1983.8 482,1984.2 481.5,1984.4 481,1985.2 480.5,1986.6 480,1987.7 479.5,1987.6 479,1987.3 478.5,1987.2 478,1987.6 477.5,1987.9 477,1988.1 476.5,1988.5 476,1988.9 475,1989.9 474.5,1990.1 474,1990 473.5,1989.6 472.5,1987.4 472,1987 471.5,1986.8 471,1986.4 470,1984.6 469.5,1984.5 469,1984.6 468.5,1984.6 468,1984.5 467.5,1984.2 467,1983.6 466.5,1982.8 466,1981.8 465.5,1980.6 465,1979.8 464.5,1979.4 463.5,1978.8 463,1978.6 462.5,1978.5 462,1979.3 461.5,1980.5 461,1981.1 460.5,1980.5 460,1980.1 459.5,1980.2 459,1980.4 458.5,1981.2 457.5,1983.3 457,1984.8 456.5,1986.5 456,1987.6 455,1989.2 454.5,1989.4 454,1988.7 453.5,1987.2 452.5,1985.2 452,1983.3 451.5,1980.9 451,1978.8 450.5,1978 450,1979 449.5,1979.2 449,1979 448.5,1979.8 447.5,1983.9 447,1985.5 446.5,1986.1 446,1986.8 445.5,1989.1 445,1990.9 444.5,1990.2 444,1988.5 443.5,1987.1 443,1986.8 442.5,1986.1 442,1984.9 441.5,1983.2 441,1981.6 440,1979.8 439.5,1978.9 439,1978.9 438.5,1978.9 437.5,1980.3 437,1981.1 436,1983.4 435,1984.6 434.5,1984.3 433.5,1982.8 433,1982.9 432.5,1983 432,1981.6 431.5,1979.6 431,1975.7 430.5,1971.9 430,1968.1 429.5,1964 429,1959.4 428.5,1954.2 428,1948.5 427.5,1943.9 427,1938.4 426.5,1937.3ZM693.6,1937.3 708.6,1937.3 709.1,1938.2 709.6,1950.7 710.1,1961.6 1005.1,1961.6 1005.6,1961.1 1006.1,1945.4 1006.6,1937.3 1007.6,1937.3 1007.1,1944.3 1006.6,1956.3 1006.1,1988.5 1005.6,1998 1005.1,1998.9 1004.6,1998.8 1004.1,1998.5 1003.1,1997.1 1002.6,1996.4 1002.1,1995.5 1001.6,1994.4 1000.6,1991.4 1000.1,1990.2 999.1,1988.6 998.1,1987 997.6,1987.8 997.1,1989.2 996.6,1990.2 995.6,1990.7 995.1,1991.7 994.6,1992.8 994.1,1993.9 993.1,1995.5 992.1,1995.8 991.6,1995.6 991.1,1994.1 990.6,1991.9 990.1,1990.9 989.6,1990.3 989.1,1989.3 988.6,1987.5 988.1,1986.1 987.6,1984.9 987.1,1983.7 986.6,1982.9 986.1,1984 985.6,1985.6 985.1,1986.4 984.1,1987.3 983.6,1987.8 983.1,1988.3 982.6,1989 982.1,1989.8 981.6,1990.5 981.1,1990.1 980.1,1989.1 979.6,1988.6 979.1,1988.1 978.6,1988.3 978.1,1988 977.6,1986.8 977.1,1985.1 976.6,1983.6 975.6,1982.8 975.1,1982.4 974.1,1981.5 973.6,1981 973.1,1980.5 972.6,1980.6 972.1,1981.2 971.6,1981.7 970.6,1979.8 970.1,1980.1 969.6,1981.1 969.1,1981.9 968.1,1982.3 967.6,1982.3 967.1,1982.2 966.6,1982 966.1,1981.1 965.6,1979.9 965.1,1979.1 964.1,1978 963.6,1977.5 963.1,1977 962.6,1976.9 961.6,1976.7 960.6,1976 960.1,1975.8 959.1,1975.5 958.1,1976.2 957.6,1976.5 957.1,1976.9 956.6,1977.4 955.6,1978 955.1,1978 954.6,1977.8 954.1,1977.4 953.1,1978.9 952.6,1979.1 951.6,1978.2 951.1,1979.1 950.6,1979.7 950.1,1979.4 949.1,1976.9 948.6,1976.6 948.1,1975.8 947.6,1974.7 946.6,1973.4 946.1,1971.4 945.6,1969.9 945.1,1969 944.1,1967.8 943.6,1966.9 943.1,1966.6 942.6,1966.4 941.6,1965.9 941.1,1967.1 940.6,1969.3 940.1,1971 939.1,1972.2 938.6,1973.7 938.1,1976.5 937.6,1979.4 937.1,1982.3 936.6,1984.6 936.1,1985.2 935.6,1985.7 935.1,1985.9 934.6,1984.1 934.1,1981.7 933.6,1979.8 933.1,1978.1 932.6,1977.3 931.6,1977.2 931.1,1975.7 930.6,1974.5 930.1,1974.7 929.1,1976 928.6,1976.8 928.1,1977.7 927.6,1979.1 926.6,1983.4 926.1,1983.7 925.6,1983 925.1,1982.1 924.1,1981.9 923.6,1982.3 923.1,1982.5 922.6,1982.5 921.1,1981 920.6,1980.5 920.1,1980 919.1,1978.3 918.6,1977.7 918.1,1977.1 917.6,1976.6 916.6,1975.9 916.1,1976.1 915.6,1976.5 915.1,1976.7 914.1,1975.7 913.6,1974.9 913.1,1974 912.6,1973.3 911.6,1973 910.6,1972.9 910.1,1972.8 909.6,1972.5 909.1,1972.4 908.6,1972 908.1,1971.5 907.6,1971 906.6,1971.4 906.1,1971 905.6,1970.4 905.1,1969.9 904.1,1970.3 903.6,1970.7 903.1,1971.3 902.6,1971.8 901.6,1972 900.6,1972.4 899.1,1972.7 898.1,1973.1 897.6,1973.1 896.6,1971 896.1,1971 895.6,1971.5 895.1,1972.2 894.1,1972.1 893.6,1971.6 893.1,1970.8 892.6,1970.1 891.1,1970 890.6,1970.1 890.1,1970.4 889.1,1970.9 888.6,1971.6 888.1,1972.7 887.6,1973.8 887.1,1973.9 886.6,1975.4 886.1,1977.2 885.1,1981 884.6,1982.5 884.1,1983.7 883.6,1984.6 883.1,1985.4 882.6,1986.2 882.1,1987.5 881.6,1986.7 881.1,1985.7 880.1,1982.9 879.6,1982.3 879.1,1981.7 878.6,1981.2 877.6,1979.9 876.6,1979.4 876.1,1978.7 875.1,1977.1 874.1,1979.3 873.6,1979.6 872.6,1978.6 871.6,1980.1 871.1,1980.1 870.1,1978.5 869.6,1978.6 869.1,1978.5 868.6,1977.7 867.6,1974.8 867.1,1974.1 866.6,1973.3 866.1,1973.4 865.1,1974.7 864.6,1974.9 864.1,1975 863.6,1975.5 862.6,1977.4 862.1,1977.5 861.6,1977.5 861.1,1978.1 860.6,1978.9 860.1,1979.6 859.6,1979.3 859.1,1978.8 858.6,1978.5 858.1,1978.4 857.6,1978.1 856.6,1977 855.6,1975.8 855.1,1974.5 854.6,1973.8 854.1,1973.2 853.6,1972.5 853.1,1972 852.6,1973.1 852.1,1973.8 851.1,1974.9 850.1,1975.9 849.6,1977 849.1,1978.2 848.6,1979.3 848.1,1980 847.6,1980.5 847.1,1980.6 846.6,1980.5 846.1,1980.7 845.6,1981.5 845.1,1982.2 844.6,1982.9 844.1,1983.8 843.6,1984.5 843.1,1984.9 842.6,1985.3 842.1,1985.5 841.6,1985.6 841.1,1985.6 840.1,1984.8 839.6,1984.9 839.1,1985 838.6,1985.3 837.6,1986.2 837.1,1985.9 836.6,1985.2 836.1,1984.8 835.1,1985.5 834.6,1986 833.6,1987.1 832.6,1988.4 832.1,1988.7 831.6,1988.9 831.1,1989.2 830.1,1990.4 829.6,1991.1 828.6,1993.3 827.6,1995.5 827.1,1995.9 826.6,1994.3 826.1,1992.7 825.1,1990.9 824.6,1989.8 824.1,1987.9 823.6,1986 823.1,1984.5 822.6,1983.7 821.6,1983.3 821.1,1983 820.6,1982.7 820.1,1982.5 819.6,1983.1 819.1,1984.2 818.6,1985.4 817.6,1989.5 817.1,1992 816.6,1993.5 816.1,1993.8 815.1,1993.9 814.6,1992.5 814.1,1990.8 813.6,1989.1 813.1,1986.7 812.6,1984.2 812.1,1981.6 811.6,1979.4 811.1,1977.2 810.6,1974.9 810.1,1973.6 809.6,1972.6 809.1,1971.7 808.6,1973 807.6,1976.7 807.1,1978.8 806.1,1984.4 805.6,1986.6 805.1,1987.6 804.6,1987.8 804.1,1988.4 803.6,1988.9 803.1,1989.2 802.6,1988.7 802.1,1987.6 801.1,1985 800.6,1983.8 800.1,1982.5 799.6,1981.1 799.1,1979.5 798.6,1978.3 797.6,1981 797.1,1981.9 796.6,1982.7 796.1,1983.6 795.1,1984.7 794.1,1986.4 793.6,1987.1 792.6,1989.1 792.1,1990.2 791.6,1990.9 791.1,1991.5 790.6,1990.8 790.1,1990 789.6,1989.7 789.1,1990 788.6,1990.1 788.1,1989.3 787.6,1988.3 787.1,1988 786.1,1989.3 785.6,1989 785.1,1988.6 784.6,1988 783.6,1986.6 783.1,1986.6 782.6,1986.7 782.1,1986.6 781.6,1986.1 781.1,1985.6 780.6,1985.8 780.1,1986.1 779.6,1985.9 778.6,1983.9 778.1,1984.1 777.6,1984.6 777.1,1984.8 776.1,1983.6 775.6,1983.4 775.1,1983.5 774.6,1983.7 773.6,1984.4 773.1,1985.8 772.6,1987.3 772.1,1988 771.1,1986.5 770.6,1986.7 770.1,1987.2 769.6,1987.4 768.6,1985.5 768.1,1984.4 767.6,1983.3 767.1,1982.2 766.1,1979.5 765.1,1976.5 764.6,1975.1 763.6,1973 763.1,1971.2 762.6,1971 762.1,1971.4 761.6,1972.6 761.1,1974.1 760.6,1977.5 760.1,1981 759.6,1984.2 759.1,1985.6 758.6,1986.3 758.1,1987.5 757.6,1988.9 757.1,1988.2 756.1,1985.8 755.1,1983.5 754.6,1981.8 753.6,1977.7 753.1,1975.7 752.6,1974.2 752.1,1974.5 751.1,1976.2 750.1,1977.5 749.6,1978.1 749.1,1978.1 748.6,1978.1 747.6,1978.8 747.1,1979.1 746.1,1981.5 745.6,1981.9 745.1,1981.1 744.6,1979.9 744.1,1977.9 743.6,1976 743.1,1976.2 742.1,1977.6 741.6,1978.8 741.1,1980.3 740.6,1981.7 739.6,1984.5 739.1,1985.3 738.6,1985.8 737.6,1987.2 737.1,1987.9 736.6,1988.5 736.1,1989 735.6,1989.4 735.1,1989.7 734.6,1989.9 734.1,1988.4 733.6,1986.7 733.1,1986.2 732.1,1986.7 731.6,1986.1 731.1,1985.6 730.6,1985.3 729.6,1984.8 728.6,1982.9 728.1,1982.3 727.1,1981.5 726.1,1981.2 725.6,1981.4 725.1,1982.1 724.6,1983 723.6,1983.5 723.1,1983.2 722.6,1982.2 722.1,1981.7 721.1,1983.3 720.6,1984.4 719.6,1987.3 719.1,1987.7 718.6,1988.1 718.1,1988.7 717.1,1990.2 716.6,1991.7 716.1,1992.2 715.6,1991.7 714.6,1989.7 714.1,1989 713.6,1988.1 712.1,1985.2 711.1,1983.4 710.6,1983.1 709.6,1983.9 709.1,1983.1 708.6,1982.1 708.1,1981.5 707.6,1981.9 707.1,1982.5 706.6,1982 706.1,1981.3 705.6,1981.1 704.6,1983.3 704.1,1983.8 703.6,1984.2 703.1,1984.6 702.1,1985.7 701.6,1985.6 700.6,1984.9 699.6,1985.2 699.1,1984.8 698.6,1984.4 698.1,1983.8 697.1,1982.4 696.6,1978.2 696.1,1973.3 695.6,1968.9 695.1,1965.7 694.6,1961.1 694.1,1948.1 693.6,1937.3ZM1124.6,1937.3 1159.6,1937.3 1159.1,1938.9 1158.6,1939.9 1157.6,1941.3 1157.1,1942.1 1156.1,1944 1155.6,1944.3 1155.1,1949.9 1154.6,1957.5 1154.1,1966.5 1153.6,1976.5 1153.1,1984.1 1152.6,1983.4 1152.1,1982.7 1151.6,1982.2 1151.1,1975.9 1150.6,1968.7 1150.1,1961 1149.6,1953.9 1149.1,1949 1148.6,1948.4 1148.1,1949 1147.6,1950.5 1147.1,1952.1 1146.6,1953.1 1146.1,1954.4 1145.1,1957.3 1144.6,1957.7 1143.6,1957.5 1143.1,1957.2 1142.6,1956.9 1142.1,1956.7 1141.1,1956.8 1140.6,1956.4 1140.1,1956 1139.1,1955.5 1138.6,1955.1 1137.1,1953.8 1136.1,1952.9 1135.6,1952 1135.1,1950.9 1134.6,1950.1 1133.6,1950.7 1133.1,1950 1132.6,1948.9 1132.1,1948 1131.1,1946.6 1130.6,1946.3 1130.1,1946.3 1129.6,1946.3 1128.6,1946.8 1128.1,1946.4 1127.6,1946.1 1127.1,1945.6 1126.6,1944.4 1126.1,1943 1125.6,1941.2 1125.1,1939.6 1124.6,1937.3ZM1168.6,1960.9 1175.1,1960.9 1174.6,1962 1173.1,1971.1 1172.6,1973.3 1172.1,1974.9 1171.6,1974.8 1171.1,1973.7 1170.6,1973.8 1170.1,1973.9 1169.6,1973 1168.6,1960.9ZM1209.7,1960.9 1223.7,1960.9 1224.2,1956.2 1224.7,1941 1225.2,1937.3 1288.2,1937.3 1287.7,1938.3 1287.2,1938.3 1286.7,1938.3 1285.7,1938.4 1285.2,1938.6 1284.2,1939 1282.7,1940.6 1281.7,1941.5 1281.2,1941.3 1280.7,1940.9 1280.2,1940.3 1279.7,1940.6 1279.2,1941.2 1278.7,1942 1277.7,1943.7 1277.2,1944.3 1276.7,1945.3 1275.7,1946.8 1275.2,1947.8 1274.2,1951.1 1273.7,1952.4 1273.2,1953.6 1272.7,1952.8 1271.7,1949.5 1271.2,1948.4 1270.7,1947.6 1270.2,1947 1269.7,1947.3 1269.2,1947.5 1268.7,1946.7 1267.7,1943.9 1266.7,1941.9 1266.2,1942 1265.7,1942.9 1265.2,1943.7 1264.2,1943.3 1263.7,1943.3 1262.7,1942.9 1261.7,1942.8 1261.2,1943.1 1260.2,1946.7 1259.2,1949.5 1258.7,1951.4 1258.2,1953.5 1257.7,1955.1 1256.7,1956.2 1256.2,1957.5 1255.7,1959.5 1255.2,1961.5 1254.7,1962.6 1254.2,1963.7 1253.7,1964.6 1252.7,1965.9 1252.2,1967.7 1251.7,1968.5 1251.2,1968.9 1250.2,1969.1 1249.2,1969.3 1248.7,1968.4 1247.7,1966.3 1247.2,1965.1 1246.7,1964 1246.2,1963.1 1245.2,1961 1244.7,1962.1 1244.2,1964.2 1243.7,1966.6 1243.2,1969 1242.7,1972.7 1242.2,1975.7 1241.7,1978.7 1241.2,1981.6 1240.7,1983.8 1240.2,1985.2 1239.7,1987.5 1239.2,1989.8 1238.7,1991.9 1238.2,1993 1237.7,1991.3 1237.2,1990 1236.7,1988.9 1236.2,1987.6 1235.7,1986.2 1235.2,1984.9 1234.2,1982.7 1233.7,1981.9 1232.7,1981.6 1232.2,1980.5 1231.7,1980 1231.2,1980.3 1230.2,1982.7 1229.7,1983.8 1229.2,1984.8 1228.7,1984.8 1227.7,1982.8 1227.2,1982.7 1226.7,1982.7 1226.2,1982.9 1225.7,1983.1 1225.2,1983.1 1224.2,1982.6 1223.7,1982.5 1222.7,1983.3 1222.2,1983.1 1221.7,1982.7 1221.2,1982.1 1220.2,1979.8 1219.7,1979.8 1219.2,1979.8 1218.7,1979.5 1217.7,1976.9 1217.2,1975.6 1216.7,1975.7 1216.2,1976.3 1215.7,1977.4 1215.2,1979 1214.7,1982.4 1214.2,1985.8 1213.7,1988.5 1213.2,1987.5 1212.7,1985 1212.2,1982.2 1211.7,1979.4 1211.2,1976.3 1210.7,1971.4 1210.2,1965.2 1209.7,1960.9ZM1416.7,1961.6 1523.2,1961.6 1522.7,1963.6 1522.2,1966.5 1521.2,1974.1 1520.7,1977 1520.2,1978 1519.7,1976.5 1518.7,1972.3 1518.2,1971 1517.2,1968.9 1516.2,1966.6 1515.7,1966.6 1515.2,1966.6 1514.7,1966.6 1513.7,1966.2 1513.2,1966.9 1512.7,1968 1512.2,1969 1511.2,1970.6 1510.7,1971.1 1510.2,1971.3 1509.7,1971.4 1508.7,1970.6 1508.2,1970.6 1507.7,1970.8 1507.2,1971 1506.7,1971.5 1506.2,1971.9 1505.7,1972.5 1505.2,1973.2 1504.7,1973.7 1503.7,1972.9 1503.2,1973.4 1502.7,1974.1 1502.2,1973.8 1501.2,1970.3 1500.7,1969.8 1500.2,1970.1 1499.7,1970.7 1498.7,1969.1 1498.2,1969.4 1497.7,1971.6 1497.2,1974.5 1496.2,1979.1 1495.7,1981.5 1495.2,1982.6 1494.7,1983.3 1493.7,1984.1 1493.2,1984.2 1492.2,1981.6 1491.2,1980.4 1490.7,1979.8 1490.2,1979.4 1489.7,1978.9 1489.2,1978.8 1488.7,1978.8 1488.2,1978.7 1487.2,1978.5 1486.2,1978 1485.7,1977.5 1484.7,1976.1 1483.7,1976.5 1483.2,1976.3 1482.7,1975.9 1482.2,1975.5 1481.2,1974.3 1480.7,1973.1 1479.7,1969.5 1479.2,1969.6 1478.7,1970.5 1478.2,1970.4 1477.2,1968.6 1476.7,1969.1 1476.2,1971 1475.7,1972.8 1474.7,1975.9 1473.7,1978.7 1473.2,1980.3 1472.2,1984.1 1471.7,1985.5 1471.2,1985.9 1470.7,1985.4 1470.2,1983.9 1469.7,1981.9 1469.2,1981.7 1468.7,1981.7 1468.2,1980.8 1467.7,1978.8 1467.2,1977.1 1466.7,1976.6 1466.2,1976.2 1465.7,1975.7 1464.7,1974.5 1463.7,1973.9 1463.2,1973.7 1462.2,1973.4 1461.2,1973.5 1460.7,1973.1 1460.2,1972.2 1459.7,1971.4 1459.2,1971.4 1458.7,1971.5 1458.2,1971.1 1457.2,1968.7 1456.7,1969.3 1456.2,1970.7 1455.7,1971.4 1454.7,1970.6 1454.2,1971.2 1453.7,1972.1 1453.2,1972.4 1452.2,1971.8 1451.7,1972.6 1451.2,1973.6 1450.7,1974.6 1449.7,1976.3 1449.2,1976.5 1448.2,1976.6 1447.2,1976.8 1446.7,1977.2 1446.2,1977.7 1445.7,1977.9 1444.7,1977.7 1444.2,1977.8 1443.7,1977.9 1443.2,1977.9 1442.7,1977.6 1442.2,1977.5 1441.2,1978.5 1440.7,1979.3 1440.2,1980.4 1439.7,1981.6 1439.2,1982.2 1438.7,1982.6 1438.2,1983.3 1437.7,1984.9 1437.2,1985.5 1436.7,1985 1435.7,1983.7 1434.7,1982.7 1434.2,1981.4 1433.7,1979.8 1433.2,1978.4 1432.2,1977.2 1431.7,1977.2 1431.2,1977.5 1430.7,1977.8 1429.7,1978.7 1428.7,1977.4 1428.2,1977.3 1427.2,1980.5 1426.7,1981 1426.2,1981 1425.7,1980.3 1425.2,1980.2 1424.7,1979.9 1424.2,1979.3 1423.7,1978.6 1423.2,1977.9 1422.7,1977 1422.2,1976.2 1421.2,1974.5 1420.2,1972.1 1419.7,1971.5 1419.2,1971.6 1418.7,1971.7 1418.2,1971.7 1417.7,1967.7 1417.2,1962.6 1416.7,1961.6ZM1537.2,1958.1 1537.7,1945.6 1538.2,1937.3 1571.7,1937.3 1571.2,1938.4 1570.2,1939.9 1569.7,1940.2 1568.7,1940.5 1568.2,1940.3 1567.7,1940.4 1567.2,1940.7 1566.7,1941.2 1566.2,1941.8 1565.2,1944.8 1564.7,1946.3 1563.7,1948.4 1563.2,1948.9 1562.7,1949.3 1562.2,1948.9 1561.2,1948.8 1560.7,1948.2 1560.2,1947.3 1559.7,1946.4 1558.7,1944.5 1558.2,1943.8 1557.7,1943.4 1557.2,1943.4 1556.2,1944.4 1555.7,1943.8 1555.2,1943.3 1554.7,1943.7 1553.7,1945.9 1553.2,1946.5 1552.7,1947.6 1552.2,1948.6 1551.2,1950.2 1550.2,1951.3 1549.7,1952.1 1548.7,1953.9 1547.7,1956.3 1547.2,1957.5 1546.7,1958.2 1546.2,1958.7 1545.7,1960.1 1545.2,1961.6 1544.7,1962.7 1544.2,1961.2 1543.7,1959.3 1543.2,1957.6 1542.7,1955.9 1541.7,1953.1 1541.2,1951.7 1540.7,1950.7 1540.2,1950.5 1539.7,1950.7 1538.7,1951.9 1538.2,1953.3 1537.7,1954.9 1537.2,1958.1ZM1579.2,1937.3 1596.7,1937.3 1596.2,1938.6 1595.7,1939.5 1595.2,1940.5 1594.7,1940.9 1594.2,1941.3 1593.7,1941.6 1592.7,1942.7 1592.2,1942.7 1591.7,1942.5 1591.2,1942.3 1590.2,1942.6 1589.7,1943.5 1589.2,1944.7 1588.7,1945.5 1587.7,1945.2 1587.2,1945.3 1586.7,1945.5 1586.2,1945.6 1585.2,1945 1584.7,1944.3 1584.2,1943.6 1583.7,1943 1582.7,1943 1582.2,1943.4 1581.7,1944 1581.2,1943.6 1580.2,1939.9 1579.7,1938.3 1579.2,1937.3ZM1603.7,1937.3 1614.7,1937.3 1614.2,1938.5 1613.7,1939.7 1612.7,1943.4 1612.2,1944.5 1611.7,1945.3 1610.7,1944.9 1609.7,1944.5 1609.2,1944.1 1608.7,1943.4 1607.7,1942.6 1607.2,1942.9 1606.7,1943.3 1606.2,1943.1 1605.7,1941.8 1605.2,1940.2 1604.7,1939.3 1604.2,1938.4 1603.7,1937.3ZM1622.7,1937.3 1627.2,1937.3 1626.7,1938.6 1626.2,1939.5 1625.2,1941 1624.2,1941.8 1623.7,1941.4 1623.2,1939.4 1622.7,1937.3ZM1636.7,1937.3 1638.7,1937.3 1638.2,1938.3 1637.7,1938.8 1637.2,1938.2 1636.7,1937.3ZM1649.7,1937.3 1660.2,1937.3 1659.7,1939.1 1659.2,1941.1 1658.7,1942.5 1658.2,1943.8 1657.7,1945.2 1657.2,1947 1656.7,1947.6 1656.2,1947.4 1655.7,1946.9 1655.2,1946.5 1654.7,1946.9 1654.2,1946.4 1653.7,1945.6 1653.2,1944.8 1652.7,1943.8 1651.7,1941 1651.2,1940.2 1650.7,1939.8 1650.2,1939.2 1649.7,1937.3ZM1666.7,1937.3 1668.7,1937.3 1668.2,1939.3 1667.7,1939.9 1667.2,1939 1666.7,1937.3ZM1675.2,1937.3 1707.8,1937.3 1707.3,1938.4 1706.8,1939.7 1705.8,1941.8 1705.3,1943.1 1704.3,1946 1703.8,1946 1702.8,1943.6 1701.8,1941.1 1701.3,1940.7 1700.8,1940.4 1700.3,1940 1699.3,1939.1 1698.8,1938.8 1698.3,1939 1697.8,1939.6 1696.8,1939.6 1696.3,1941.2 1695.8,1943.2 1695.3,1944.7 1694.3,1945.9 1693.8,1946.8 1693.3,1947 1692.8,1947.2 1691.8,1948.1 1690.8,1948.9 1690.3,1949.6 1689.8,1950.2 1689.3,1950.3 1688.8,1949.9 1688.3,1949.4 1687.8,1948.7 1686.8,1946.3 1686.3,1946.3 1685.8,1946.2 1685.3,1946.3 1684.3,1946.5 1683.8,1945.2 1683.3,1943.8 1682.8,1942.9 1681.8,1943.6 1681.3,1944.2 1680.8,1944.9 1680.3,1945 1679.3,1942.6 1678.8,1942.3 1678.2,1942.1 1677.7,1942.1 1676.7,1942.6 1676.2,1941.5 1675.7,1939.6 1675.2,1937.3ZM1710.3,1937.3 1729.8,1937.3 1729.3,1938.4 1728.3,1939.5 1727.3,1940.7 1726.8,1941.1 1725.8,1940.1 1725.3,1940.6 1724.8,1941.5 1724.3,1942.4 1723.8,1942.9 1723.3,1942.9 1722.8,1942.8 1721.8,1942.4 1721.3,1942.1 1720.8,1942 1720.3,1942.2 1719.8,1942.3 1719.3,1942.5 1718.3,1943.5 1717.8,1943.9 1716.8,1944.2 1715.8,1943.5 1715.3,1943.8 1714.8,1944.4 1714.3,1944.3 1713.3,1940.7 1712.8,1940.2 1712.3,1940.7 1711.8,1941.1 1710.8,1938.5 1710.3,1937.3ZM1733.3,1937.3 1853.3,1937.3 1852.8,1954.1 1852.3,1970.2 1851.3,1969.7 1850.8,1969.6 1849.8,1969.7 1848.8,1971.5 1848.3,1972 1847.3,1972.2 1846.3,1972 1845.8,1972.2 1844.8,1973.2 1843.8,1974.5 1843.3,1975 1842.8,1975.4 1842.3,1975.8 1841.8,1975 1841.3,1974.1 1840.8,1973.9 1839.8,1975.2 1839.3,1975.2 1838.8,1975 1838.3,1974.4 1837.3,1974.1 1836.8,1973.7 1836.3,1973.1 1835.8,1971.9 1834.8,1968.6 1834.3,1967.1 1833.8,1966 1833.3,1965.6 1832.3,1965.4 1831.8,1964.1 1831.3,1963.4 1830.8,1963.6 1829.8,1966.6 1828.8,1967.4 1828.3,1967.8 1827.3,1968 1826.8,1969.4 1826.3,1971 1825.8,1972.1 1824.8,1972.9 1824.3,1972.9 1823.8,1972.9 1823.3,1972.7 1822.8,1970.9 1822.3,1968.6 1821.8,1967 1820.8,1964 1820.3,1961.8 1819.8,1959.5 1819.3,1957.8 1818.8,1956.7 1818.3,1957.2 1817.3,1957 1816.8,1957.6 1815.3,1961.4 1814.8,1962.6 1813.8,1964.9 1813.3,1965.7 1812.8,1965.8 1812.3,1965.8 1811.3,1963.6 1810.8,1962.4 1809.8,1958.9 1809.3,1958.1 1808.8,1957.5 1808.3,1956.8 1807.8,1956.6 1807.3,1957.7 1806.8,1959.1 1806.3,1960.7 1805.8,1963.1 1804.8,1967.6 1804.3,1970.1 1803.8,1972.4 1803.3,1974.9 1802.8,1978.2 1802.3,1979.1 1801.8,1977 1801.3,1974.4 1800.8,1971.9 1800.3,1970.9 1799.8,1970.4 1799.3,1968.8 1798.8,1966.5 1798.3,1964.4 1797.8,1964.2 1797.3,1964.5 1796.8,1963.9 1796.3,1962.8 1795.8,1961.9 1794.8,1963.4 1794.3,1963.1 1793.8,1962.1 1793.3,1961.2 1792.3,1962.1 1791.8,1961.7 1791.3,1960.5 1790.8,1959.3 1789.8,1957.7 1789.3,1957.2 1788.8,1956.9 1788.3,1956.8 1787.3,1955.3 1786.8,1955.1 1785.8,1955.3 1785.3,1955.5 1784.8,1955.8 1784.3,1955.7 1783.3,1954.4 1782.8,1954.3 1782.3,1954.3 1781.8,1954.9 1780.8,1956.7 1779.8,1956 1779.3,1955.7 1778.8,1955.3 1778.3,1954.4 1777.3,1953.5 1776.8,1953.2 1776.3,1952.9 1775.8,1952.5 1774.8,1950.4 1774.3,1949.2 1773.8,1948 1773.3,1947.4 1772.3,1949.3 1771.3,1950.1 1770.8,1950.6 1769.3,1953.7 1768.3,1954.7 1767.3,1955.4 1766.8,1956.2 1766.3,1957.7 1765.8,1958.4 1765.3,1957.8 1764.8,1957.2 1764.3,1956.3 1763.3,1954 1762.8,1953.7 1762.3,1953.5 1761.8,1953.4 1760.8,1953.9 1760.3,1953.4 1759.8,1952.8 1759.3,1952.4 1758.3,1951.2 1757.8,1951.3 1757.3,1951.5 1756.8,1951.5 1756.3,1951 1755.8,1950.6 1755.3,1951.2 1754.8,1952 1754.3,1952.3 1753.3,1951.6 1752.8,1952.2 1752.3,1953 1751.8,1953.9 1750.8,1954.3 1750.3,1955.2 1749.8,1956.3 1749.3,1957.2 1748.3,1956.9 1747.8,1956.1 1747.3,1955.2 1746.8,1954.4 1745.8,1952.8 1745.3,1952.2 1744.3,1951 1743.3,1950.1 1742.8,1949.7 1742.3,1949.3 1741.8,1949.3 1740.8,1951 1740.3,1950.8 1739.8,1950.2 1739.3,1949.2 1738.3,1948.3 1737.8,1947.6 1737.3,1946.7 1736.8,1945.5 1735.8,1943.8 1734.8,1942.1 1734.3,1941.3 1733.8,1939.4 1733.3,1937.3Z"/>
<path fill="#73b8ff" d="M457.5,1937.3 519.5,1937.3 519,1950 518.5,1961.6 459,1961.6 458.5,1960.3 458,1947.8 457.5,1937.3ZM708.6,1937.3 1006.6,1937.3 1006.1,1945.4 1005.6,1961.1 1005.1,1961.6 710.1,1961.6 709.6,1950.7 709.1,1938.2 708.6,1937.3ZM1163.6,1937.3 1225.2,1937.3 1224.7,1941 1224.2,1956.2 1223.7,1960.9 1165.1,1960.9 1164.6,1956.7 1164.1,1946.5 1163.6,1937.3ZM1414.7,1937.3 1538.2,1937.3 1537.7,1945.6 1537.2,1958.1 1536.7,1961.6 1416.2,1961.6 1415.7,1952.7 1415.2,1942.2 1414.7,1937.3Z"/>
<polyline fill="none" stroke="#050505" stroke-width="2.75" stroke-linejoin="round" points="426,1892.4 428.2,1891.8 430.6,1895.4 432.4,1897.8 434.8,1897.2 436.6,1894.8 439.7,1893 441.5,1896 443.3,1899.1 445.1,1900.3 446.9,1897.8 448.8,1893.6 450.6,1893 452.4,1896.6 454.2,1899.1 456.6,1897.8 459,1894.8 460.9,1893.6 463.3,1893.6 465.7,1894.2 468.1,1896.6 471.1,1899.1 474.8,1901.5 477.8,1900.3 480.8,1897.8 483.3,1894.2 485.1,1889.3 486.9,1886.3 488.7,1890.5 490.5,1895.4 492.9,1900.3 496,1904.5 498.4,1901.5 501.4,1900.3 504.4,1902.7 507.5,1900.3 510.5,1896.6 513.5,1896.6 516.5,1897.8 519.6,1897.8 523.2,1896.6 526.8,1896.6 529.9,1900.3 531.7,1903.9 534.1,1903.9 536.5,1899.1 538.3,1897.2 540.7,1897.8 543.2,1899.1 545.6,1901.5 548,1903.9 550.4,1900.3 552.9,1893 554.7,1891.8 556.5,1895.4 558.3,1899.1 560.7,1900.3 562.5,1896.6 565,1894.2 566.8,1893.6 569.2,1894.8 571.6,1896 574.6,1897.2 577.7,1897.8 580.1,1897.2 582.5,1894.2 584.9,1891.1 586.7,1894.2 588.6,1898.5 591,1900.9 593.4,1902.7 595.2,1906.4 597,1911.2 599.5,1907 601.9,1903.3 604.3,1901.5 606.7,1900.3 609.1,1902.7 611.6,1904.5 614,1902.1 616.4,1900.3 618.8,1901.5 621.2,1902.1 623.7,1900.9 626.1,1899.7 628.5,1902.7 630.9,1905.1 634,1905.8 636.4,1903.9 638.8,1906.4 641.8,1906.4 644.2,1903.9 646.7,1900.9 649.1,1899.7 651.5,1900.9 653.9,1901.5 656.3,1897.8 658.8,1896 661.2,1895.4 663.6,1896 667.2,1896.6 669.2,1896.9 672.8,1896.4 676.4,1895.7 678.8,1895.4 681.3,1899.1 684.3,1903.3 687.3,1902.1 690.9,1900.9 694.6,1900.3 698.2,1899.7 701.8,1897.8 705.5,1895.4 707.9,1895.4 710.9,1897.8 713.9,1901.5 716.4,1903.3 719.4,1899.1 722.4,1896 725.4,1895.4 728.5,1896 731.5,1897.8 734.5,1900.3 736.9,1899.7 739.4,1897.2 741.8,1893 743.6,1891.1 745.4,1893 747.8,1892.4 750.3,1890.5 752.7,1889.3 755.1,1894.2 757.5,1897.8 759.3,1895.4 761.2,1889.3 763,1887.5 764.8,1890.5 767.2,1895.4 769.6,1898.5 772.7,1898.5 775.7,1897.2 778.1,1897.2 781.7,1898.5 785.4,1900.3 789,1901.5 792,1901.5 794.4,1899.1 796.9,1895.4 798.7,1893.6 800.5,1896 802.9,1899.1 805.3,1898.5 807.2,1893 809,1889.3 810.8,1891.8 812.6,1897.8 815,1903.3 816.8,1903.9 818.6,1899.1 821.1,1897.2 822.9,1898.5 824.7,1902.7 827.1,1905.8 829.5,1902.7 832.6,1900.3 836.2,1898.5 839.8,1897.8 842.9,1896 845.3,1894.8 848.3,1891.8 850.7,1888.7 853.1,1885.7 855.6,1888.7 858,1889.9 861,1890.5 864,1888.7 866.5,1888.1 869.5,1890.5 872.5,1891.8 876.1,1891.8 879.2,1894.2 882.2,1897.8 884.6,1893 887,1886.9 890.7,1884.4 895.5,1883.8 900.4,1885.1 904,1884.4 907.6,1883.8 909.5,1884.4 913.2,1886.9 916.8,1889.3 920.4,1891.8 923.5,1894.2 925.9,1894.8 928.3,1891.8 930.7,1889.3 933.1,1891.8 935,1894.8 936.8,1893 938.6,1886.9 941,1882.6 943.4,1882 945.9,1883.8 948.3,1888.7 951.3,1890.5 954.3,1890.5 957.4,1888.7 960.4,1887.5 963.4,1888.7 966.4,1890.5 969.5,1889.9 972.5,1889.3 975.5,1889.9 978.5,1891.8 981.6,1891.8 984,1888.7 986.4,1886.3 988.8,1888.1 991.2,1891.8 993.1,1892.4 995.5,1889.3 997.9,1886.9 1000.3,1888.1 1002.7,1891.1 1005.2,1893 1008.2,1891.1 1011.2,1889.9 1014.8,1889.3 1018.5,1889.3 1022.1,1887.5 1025.7,1886.9 1029.4,1887.5 1033,1888.1 1036.6,1886.3 1039.7,1887.5 1042.7,1890.5 1045.1,1892.4 1047.5,1885.7 1049.3,1880.8 1051.2,1879.6 1053,1883.2 1054.8,1887.5 1057.2,1890.5 1059.6,1891.8 1062.7,1889.9 1065.7,1888.1 1068.7,1884.4 1071.7,1880.2 1074.2,1877.1 1076.6,1876.5 1079,1878.4 1081.4,1880.2 1084.4,1879.6 1087.5,1880.2 1090.5,1882 1093.5,1878.4 1095.9,1875.3 1098.4,1874.1 1100.8,1875.9 1103.2,1878.4 1106.2,1880.2 1109.3,1879.6 1112.9,1880.8 1116.5,1882 1118.9,1879.6 1121.4,1877.1 1123.8,1879.6 1126.2,1883.8 1128.6,1885.7 1132.3,1884.4 1135.9,1885.7 1139.5,1886.3 1143.2,1884.4 1146.8,1883.2 1150.4,1883.8 1153.5,1888.7 1157.2,1887.5 1160.8,1885.1 1164.4,1883.8 1168.1,1884.4 1171.7,1886.9 1174.7,1891.8 1177.2,1893 1179.6,1889.3 1182.6,1888.7 1185.6,1890.5 1188.6,1887.5 1191.1,1885.7 1193.5,1887.5 1195.9,1891.8 1198.9,1893.6 1202,1891.8 1204.4,1887.5 1206.8,1887.5 1209.2,1890.5 1211.6,1894.2 1213.5,1896 1215.3,1889.3 1217.1,1886.9 1219.5,1888.1 1222.5,1889.9 1226.2,1891.8 1229.2,1893 1232.2,1891.8 1235.3,1893.6 1238.3,1897.8 1240.7,1894.2 1243.1,1888.1 1244.9,1886.9 1246.8,1890.5 1249.2,1895.4 1252.2,1898.5 1255.2,1897.2 1258.3,1894.2 1261.3,1889.3 1263.7,1891.1 1266.1,1891.8 1269.7,1891.1 1273.4,1889.9 1277,1889.3 1280.6,1890.5 1284.3,1890.5 1287.9,1891.1 1291.5,1890.5 1294.6,1888.7 1297,1887.5 1299.4,1891.8 1301.8,1896.6 1304.9,1899.7 1307.9,1900.3 1310.9,1902.1 1313.9,1900.9 1317,1896.6 1320.6,1894.2 1324.2,1891.8 1327.9,1889.3 1331.5,1888.7 1335.1,1889.3 1338.1,1890.5 1340.6,1894.8 1343.6,1896.6 1347.2,1894.8 1350.8,1893 1354.5,1893.6 1358.1,1893 1361.7,1893.6 1365.4,1894.2 1369,1892.4 1371.4,1895.4 1373.8,1901.5 1376.3,1895.4 1378.1,1888.1 1379.9,1886.9 1381.7,1891.8 1383.5,1897.8 1386,1900.9 1388.4,1896.6 1390.8,1893.6 1394.4,1894.8 1397.6,1896.7 1400.6,1894.9 1403.6,1891.2 1406.6,1889.4 1409.7,1891.8 1413.3,1893.6 1416.9,1890.6 1419.9,1888.2 1423,1890 1426,1893 1429,1890.6 1432.1,1891.2 1435.1,1893.6 1437.5,1895.5 1439.9,1892.4 1442.3,1890 1446,1890 1449.6,1887.5 1453.2,1884.5 1456.9,1883.3 1460.5,1885.1 1464.1,1888.2 1467.8,1891.2 1470.2,1894.2 1472,1895.5 1474.4,1890 1476.8,1884.5 1479.3,1884.5 1482.3,1887.5 1485.9,1890 1489.6,1891.8 1493.2,1894.2 1495.6,1891.8 1498,1884.5 1500.4,1883.9 1502.9,1885.7 1506.5,1884.5 1510.1,1882.7 1513.8,1880.8 1516.2,1879.6 1518.6,1883.3 1520.4,1885.7 1522.2,1879 1524,1871.7 1525.9,1869.3 1528.3,1872.3 1530.7,1872.9 1534.3,1870.5 1538,1867.5 1541,1865 1542.8,1868.1 1544.6,1871.7 1547,1869.3 1550.1,1864.4 1553.1,1859.5 1556.1,1857.1 1558.5,1857.1 1561,1859.5 1562.8,1860.1 1565.2,1856.5 1568.2,1853.4 1571.9,1851 1575.5,1848 1577.3,1847.4 1579.1,1850.4 1581.5,1854.7 1585.2,1856.5 1588.8,1856.5 1592.4,1854.7 1596.1,1851.6 1599.7,1849.8 1602.7,1851 1605.8,1854.1 1609.4,1856.5 1611.8,1855.9 1614.2,1851.6 1616.6,1848 1619.1,1843.7 1620.9,1842.5 1622.1,1846.7 1623.9,1851.6 1626.3,1851 1628.8,1848 1631.2,1846.1 1633.6,1847.4 1636.6,1849.2 1639.6,1849.8 1641.6,1849.8 1644,1846.7 1646.4,1844.9 1648.8,1848.6 1651.9,1853.4 1654.9,1857.7 1657.3,1857.1 1659.7,1852.2 1662.1,1849.2 1665.2,1850.4 1668.2,1851 1671.2,1849.8 1673.6,1849.2 1676.1,1853.4 1679.1,1855.9 1682.7,1857.1 1686.4,1859.5 1690,1861.4 1693.6,1859.5 1696,1855.3 1698.5,1852.8 1701.5,1854.7 1703.9,1856.5 1706.3,1853.4 1708.7,1850.4 1711.8,1852.8 1714.8,1855.3 1717.8,1855.3 1720.9,1854.1 1723.9,1854.7 1726.9,1852.8 1729.9,1850.4 1732.3,1851 1734.8,1854.7 1737.2,1858.9 1739.6,1862 1743.2,1863.2 1746.9,1866.2 1749.3,1867.5 1752.3,1865 1756,1864.4 1759.6,1865 1762.6,1866.8 1766.2,1868.7 1769.3,1866.8 1771.7,1863.8 1773.5,1863.2 1775.9,1866.2 1779,1868.1 1782.6,1867.5 1785.6,1868.1 1788.6,1870.5 1791.7,1873.5 1794.7,1875.4 1797.7,1877.8 1800.1,1881.5 1802.6,1886.9 1804.4,1881.5 1806.2,1875.4 1808,1871.7 1809.8,1872.9 1812.2,1876.6 1814.7,1875.4 1817.1,1871.7 1818.9,1872.3 1820.7,1877.8 1823.1,1882.7 1826.2,1882.1 1829.2,1879.6 1831.6,1878.4 1834,1880.2 1836.4,1884.5 1838.9,1886.9 1842.5,1886.3 1846.1,1885.1 1849.8,1883.9 1852.8,1883.9 1855.8,1885.7 1858.8,1886.3 1861.9,1884.5 1864.9,1882.1 1867.9,1882.1 1870.3,1884.5 1872.8,1888.2 1875.8,1889.4 1878.8,1890 1881.8,1891.8 1884.9,1893.6 1887.9,1894.9 1892.6,1896.7 1896.3,1897.9 1899.9,1896.1 1902.3,1891.8 1904.7,1890 1907.2,1892.4 1909.6,1896.7 1912,1898.5 1915.6,1896.7 1919.3,1894.9 1922.9,1894.9 1925.9,1896.1 1928.8,1897.9"/>
<polyline fill="none" stroke="#f83a3a" stroke-opacity="0.86" stroke-width="2.6" stroke-linejoin="round" points="426.1,1857.5 434.4,1853.6 457.8,1839.4 483.1,1833.2 496.7,1829.3 520,1821.9 531.7,1814.8 537.5,1812.2 543.3,1814.8 590,1849.8 628.9,1874.1 658.1,1893.5 683.4,1912 691.1,1913.9 706.7,1905.2 745.6,1892.5 784.5,1882.8 814.4,1878 843.6,1868.2 888.3,1861.4 921.4,1858.5 950.6,1854.6 973.9,1851.7 989.5,1846.8 1007.9,1839.1 1028.3,1850.7 1047.8,1859.5 1063.4,1865.9 1077,1869.2 1098.4,1878.9 1113.9,1885.7 1125.6,1887.7 1145,1883.8 1164.5,1883.4 1180,1885.7 1191.7,1891.6 1194.4,1897.4 1204.2,1904.2 1211.9,1906.1 1223.6,1903.2 1237.2,1895.5 1252.8,1889.6 1268.3,1886.7 1283.9,1886.1 1295.6,1887.7 1311.1,1895.5 1326.7,1905.2 1338.3,1913.9 1414.2,1913.9 1427.8,1911 1447.2,1907.1 1476.4,1903.2 1505.6,1900.3 1525,1901.3 1540.6,1904.2 1554.2,1901.3 1593.9,1898.4 1632.8,1901.3 1671.7,1905.2 1710.6,1904.8 1739.7,1904.8 1768.9,1900.3 1788.3,1895.5 1807.8,1887.7 1827.2,1880.9 1842.8,1874.1 1853.5,1869.8 1866.1,1880.9 1885.6,1897.4 1906,1913.9 1929.3,1913.9"/>
</g>
<g font-family="'Liberation Sans', sans-serif" font-size="23.8" stroke-width="0.65" stroke-linejoin="round">
<line x1="425.5" y1="2111.2" x2="1929.3" y2="2111.2" stroke="#606060" stroke-width="1.25"/>
<line x1="426" y1="1676.5" x2="426" y2="2111.2" stroke="#4d9cd4" stroke-width="1.1"/>
<line x1="1928.8" y1="1676.5" x2="1928.8" y2="2111.2" stroke="#e58659" stroke-width="1.1"/>
<line x1="426" y1="1728.7" x2="440" y2="1728.7" stroke="#4d9cd4" stroke-width="0.9"/>
<line x1="1914.8" y1="1728.7" x2="1928.8" y2="1728.7" stroke="#e58659" stroke-width="0.9"/>
<text x="417.5" y="1737.3" text-anchor="end" fill="#3a8dca" stroke="#3a8dca">60</text>
<text x="1937.3" y="1737.3" text-anchor="start" fill="#e27646" stroke="#e27646">60</text>
<line x1="426" y1="1798.2" x2="440" y2="1798.2" stroke="#4d9cd4" stroke-width="0.9"/>
<line x1="1914.8" y1="1798.2" x2="1928.8" y2="1798.2" stroke="#e58659" stroke-width="0.9"/>
<text x="417.5" y="1806.8" text-anchor="end" fill="#3a8dca" stroke="#3a8dca">40</text>
<text x="1937.3" y="1806.8" text-anchor="start" fill="#e27646" stroke="#e27646">40</text>
<line x1="426" y1="1867.8" x2="440" y2="1867.8" stroke="#4d9cd4" stroke-width="0.9"/>
<line x1="1914.8" y1="1867.8" x2="1928.8" y2="1867.8" stroke="#e58659" stroke-width="0.9"/>
<text x="417.5" y="1876.4" text-anchor="end" fill="#3a8dca" stroke="#3a8dca">20</text>
<text x="1937.3" y="1876.4" text-anchor="start" fill="#e27646" stroke="#e27646">20</text>
<text x="417.5" y="1945.9" text-anchor="end" fill="#3a8dca" stroke="#3a8dca">0</text>
<text x="1937.3" y="1945.9" text-anchor="start" fill="#e27646" stroke="#e27646">0</text>
<line x1="426" y1="2006.8" x2="440" y2="2006.8" stroke="#4d9cd4" stroke-width="0.9"/>
<line x1="1914.8" y1="2006.8" x2="1928.8" y2="2006.8" stroke="#e58659" stroke-width="0.9"/>
<text x="417.5" y="2015.4" text-anchor="end" fill="#3a8dca" stroke="#3a8dca">-20</text>
<text x="1937.3" y="2015.4" text-anchor="start" fill="#e27646" stroke="#e27646">-20</text>
<line x1="426" y1="2076.4" x2="440" y2="2076.4" stroke="#4d9cd4" stroke-width="0.9"/>
<line x1="1914.8" y1="2076.4" x2="1928.8" y2="2076.4" stroke="#e58659" stroke-width="0.9"/>
<text x="417.5" y="2085" text-anchor="end" fill="#3a8dca" stroke="#3a8dca">-40</text>
<text x="1937.3" y="2085" text-anchor="start" fill="#e27646" stroke="#e27646">-40</text>
<line x1="788" y1="2096.2" x2="788" y2="2111.2" stroke="#606060" stroke-width="0.9"/>
<text x="789.3" y="2143.7" text-anchor="middle" fill="#3c3c3c" stroke="#3c3c3c">Dec 31, 2020, 06:00</text>
<line x1="1164.6" y1="2096.2" x2="1164.6" y2="2111.2" stroke="#606060" stroke-width="0.9"/>
<text x="1165.9" y="2143.7" text-anchor="middle" fill="#3c3c3c" stroke="#3c3c3c">Dec 31, 2020, 12:00</text>
<line x1="1541.1" y1="2096.2" x2="1541.1" y2="2111.2" stroke="#606060" stroke-width="0.9"/>
<text x="1542.4" y="2143.7" text-anchor="middle" fill="#3c3c3c" stroke="#3c3c3c">Dec 31, 2020, 18:00</text>
<line x1="1917.7" y1="2096.2" x2="1917.7" y2="2111.2" stroke="#606060" stroke-width="0.9"/>
<text x="1919" y="2143.7" text-anchor="middle" fill="#3c3c3c" stroke="#3c3c3c">Jan 01, 2021, 00:00</text>
<text transform="translate(371.5,1893.8) rotate(-90)" text-anchor="middle" fill="#3a8dca" stroke="#3a8dca" font-size="27">[kW]</text>
<text transform="translate(1989.8,1893.8) rotate(90)" text-anchor="middle" fill="#e27646" stroke="#e27646" font-size="27">[kW]</text>
</g>
<g font-family="'Liberation Sans', sans-serif" font-size="40.6" fill="#000" stroke="#000" stroke-width="1.0" stroke-linejoin="round">
<rect x="2061.6" y="831.3" width="400.6" height="503.7" fill="#fff" stroke="#c8c8c8" stroke-width="1.2"/>
<rect x="2069.4" y="843.1" width="96.9" height="36.6" fill="#808080" stroke="none"/>
<rect x="2069.4" y="895.3" width="96.9" height="38.5" fill="#ffff00" stroke="none"/>
<rect x="2069.4" y="957.2" width="96.9" height="38.1" fill="#00ff00" stroke="none"/>
<rect x="2069.4" y="1019.7" width="96.9" height="37.2" fill="#000000" stroke="none"/>
<rect x="2069.4" y="1072.5" width="96.9" height="37.5" fill="#4da6ff" stroke="none"/>
<rect x="2069.4" y="1134.4" width="96.9" height="37.5" fill="#ff0000" stroke="none"/>
<line x1="2069.4" y1="1224" x2="2166.3" y2="1224" stroke="#262626" stroke-width="3.4"/>
<line x1="2069.4" y1="1296.3" x2="2166.3" y2="1296.3" stroke="#ff3030" stroke-width="3.4"/>
<text x="2172.5" y="876.6">ICE</text>
<text x="2172.5" y="930.6">PV</text>
<text x="2172.5" y="981.3">BESS<tspan font-size="32.6" dy="21.7">out</tspan></text>
<text x="2172.5" y="1053.8">Unmet demand</text>
<text x="2172.5" y="1106.3">WP</text>
<text x="2172.5" y="1158.8">BESS<tspan font-size="32.6" dy="20.9">in</tspan></text>
<text x="2172.5" y="1231.9">EE<tspan font-size="32.6" dy="20.6">AC</tspan></text>
<text x="2172.5" y="1303">SOC<tspan font-size="32.6" dy="19.5">BESS</tspan></text>
</g>
<g font-family="'Liberation Sans', sans-serif" fill="#0a0a0a">
<text x="33.6" y="285.4" font-size="52" textLength="98.8" lengthAdjust="spacingAndGlyphs">EMS</text>
<text x="129.8" y="297.2" font-size="35.5" textLength="45.5" lengthAdjust="spacingAndGlyphs">DA</text>
<text x="35.8" y="827.8" font-size="52" textLength="98.8" lengthAdjust="spacingAndGlyphs">EMS</text>
<text x="132.1" y="839" font-size="35.5" textLength="53.6" lengthAdjust="spacingAndGlyphs">INT</text>
<text x="35.8" y="1365.4" font-size="52" textLength="98.8" lengthAdjust="spacingAndGlyphs">EMS</text>
<text x="134.2" y="1377.3" font-size="35.5" textLength="44.7" lengthAdjust="spacingAndGlyphs">NC</text>
<text x="35.8" y="1903.2" font-size="52" textLength="98.8" lengthAdjust="spacingAndGlyphs">EMS</text>
<text x="132.8" y="1914.6" font-size="35.5" textLength="21.8" lengthAdjust="spacingAndGlyphs">0</text>
</g>
</g></svg></body></html>
